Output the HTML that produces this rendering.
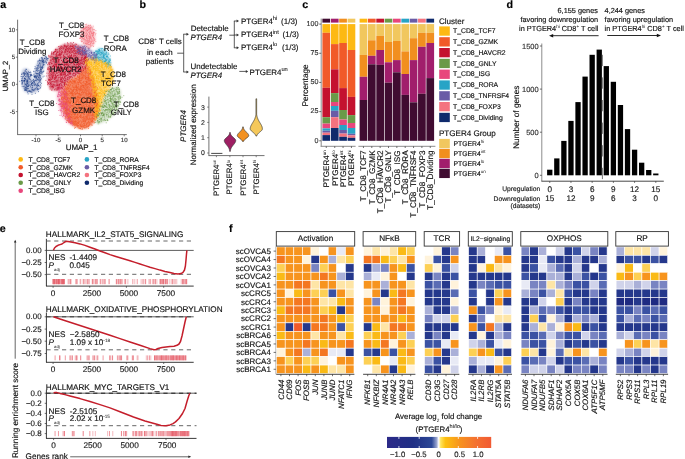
<!DOCTYPE html>
<html><head><meta charset="utf-8"><title>Figure</title>
<style>
html,body{margin:0;padding:0;background:#fff;}
body{width:685px;height:459px;overflow:hidden;}
svg{display:block;font-family:"Liberation Sans", sans-serif;will-change:transform;text-rendering:geometricPrecision;}
</style></head><body>
<svg width="685" height="459" viewBox="0 0 685 459">
<rect width="685" height="459" fill="#fff"/>
<text x="0.20" y="7.90" font-size="10.71" font-weight="bold" fill="#000" stroke="#000" stroke-width="0.15">a</text>
<defs><filter id="bl" x="-20%" y="-20%" width="140%" height="140%"><feGaussianBlur stdDeviation="1.0"/></filter></defs>
<g filter="url(#bl)">
<polygon points="62,90 66,84 71,79.5 77,76 82,72 86,65 90,68 93,78 96,88 98,98 99,108 97,117 93,124 87,128.5 80,129 73,126 67,120 63,111 61,100" fill="#F15A29" fill-opacity="0.72"/>
<polygon points="57.5,86 62.5,85 66.5,92 68.5,102 69.5,112 72,121 74,126 68.5,124 62.5,117 58.5,107 56.5,96" fill="#E8467C" fill-opacity="0.3"/>
<polygon points="48.5,63 51,54 57,48 64,44 72,43 79,45 84,49 87,55 88,61 86,67 82,72 76,76 70,80 65,85 61,90 55,91 49.5,89 47.5,80 47.5,71" fill="#C4122F" fill-opacity="0.5"/>
<polygon points="84,62 88,58 95,57 103,60 109,63 113,69 114,77 112,85 108,90 104,97 101,106 98,116 95,121 95,108 94,95 92,82 89,70" fill="#FDB913" fill-opacity="0.6"/>
<polygon points="108,90 113,87 118,87 121,91 121,99 118,108 113,116 106,121 99,124 95,123 97,116 101,107 104,98" fill="#6A9A48" fill-opacity="0.3"/>
<polygon points="94,52 99,48 104,49 108,53 110,59 111,67 106,65 100,61 95,58" fill="#27A4C6" fill-opacity="0.45"/>
<polygon points="75,47 81,45 87,47 93,51 97,55 96,61 90,59 84,56 78,53" fill="#6A5CA6" fill-opacity="0.4"/>
<polygon points="82,28 87,24.5 92,26 95,32 95.5,40 93.5,46 88,48.5 83.5,45 80.5,38 80.5,31" fill="#F4737F" fill-opacity="0.45"/>
<polygon points="22,71 24,68.5 28,69 30.5,72 31.5,78 33,81 34.5,74 36,66 38,61 41,58 44.5,56.5 47.5,57 48,60 46,64 43.5,69 42,75 41,81 40,87 38,91 34,93 28,93 24,91 22,86 21.5,79" fill="#1B3C85" fill-opacity="0.3"/>
</g>
<path d="M84.8 69.4h0M64.2 97.7h0M77.6 118.4h0M84.0 125.2h0M93.9 83.9h0M73.3 118.4h0M84.9 88.7h0M86.3 93.6h0M78.6 82.7h0M68.3 101.4h0M89.2 83.4h0M77.6 114.4h0M62.6 106.5h0M93.8 83.8h0M84.3 92.2h0M80.5 108.1h0M85.9 127.8h0M76.8 108.0h0M76.8 121.3h0M82.7 119.7h0M70.3 93.2h0M69.2 95.6h0M76.5 100.8h0M80.4 104.2h0M96.4 113.6h0M77.0 91.4h0M66.9 88.6h0M84.3 75.4h0M79.1 96.2h0M74.3 81.4h0M80.8 74.3h0M82.1 126.5h0M71.8 90.0h0M80.9 115.5h0M94.1 115.1h0M69.5 98.3h0M71.9 109.0h0M85.3 121.7h0M87.1 116.9h0M95.6 113.9h0M66.9 117.1h0M76.2 125.0h0M96.5 118.1h0M97.5 108.1h0M95.6 106.2h0M77.8 120.2h0M70.6 85.1h0M72.3 93.4h0M72.6 93.2h0M75.8 123.7h0M79.5 76.8h0M67.4 94.0h0M71.7 97.6h0M65.0 101.7h0M88.8 96.9h0M94.8 92.6h0M79.3 109.7h0M78.5 123.3h0M82.6 124.9h0M66.3 93.6h0M64.2 105.8h0M66.6 110.4h0M78.0 96.1h0M66.2 92.5h0M68.4 85.2h0M82.9 93.3h0M87.4 98.9h0M77.4 122.6h0M83.0 110.0h0M89.3 93.3h0M86.8 117.3h0M76.1 86.0h0M81.5 80.6h0M72.9 83.7h0M79.9 76.5h0M89.3 101.3h0M90.2 92.7h0M74.9 94.8h0M73.6 116.9h0M76.9 87.4h0M63.7 113.0h0M93.9 108.6h0M72.7 95.3h0M98.1 102.6h0M73.7 87.8h0M79.4 98.3h0M64.6 90.6h0M71.5 79.3h0M89.1 105.1h0M76.4 85.8h0M90.3 106.7h0M94.7 103.3h0M64.4 98.5h0M89.8 116.8h0M87.0 109.6h0M67.6 89.2h0M81.2 104.1h0M90.1 112.9h0M86.0 68.5h0M88.5 75.4h0M78.3 89.7h0M89.9 104.2h0M89.1 84.4h0M86.2 108.6h0M80.1 94.8h0M62.8 92.0h0M78.7 84.5h0M69.8 103.2h0M93.3 96.5h0M69.6 122.5h0M78.7 85.0h0M74.7 118.8h0M96.9 110.2h0M76.5 90.1h0M74.7 92.7h0M69.8 82.0h0M76.6 125.0h0M86.1 123.0h0M88.2 67.1h0M89.5 106.6h0M78.5 88.6h0M85.0 83.9h0M82.7 77.2h0M68.2 80.6h0M88.4 92.0h0M76.1 87.0h0M80.6 104.8h0M70.4 81.5h0M95.0 95.3h0M76.8 122.6h0M82.3 108.1h0M84.4 114.3h0M86.1 85.0h0M85.5 110.0h0M80.4 102.8h0M73.8 94.1h0M94.7 96.2h0M97.4 110.3h0M79.3 108.5h0M86.4 124.5h0M73.6 91.3h0M90.6 112.3h0M92.5 81.4h0M80.0 78.0h0M86.9 126.5h0M64.9 88.9h0M85.6 89.9h0M72.1 87.4h0M75.0 116.6h0M61.3 96.9h0M68.5 88.2h0M76.6 116.7h0M89.0 123.2h0M97.3 106.1h0M74.7 82.7h0M96.0 105.5h0M72.3 94.7h0M74.6 81.6h0M92.3 110.7h0M83.7 86.8h0M68.5 113.6h0M61.0 102.9h0M64.4 95.8h0M68.8 90.7h0M89.2 118.8h0M92.1 83.4h0M89.1 78.5h0M80.5 87.8h0M80.8 78.4h0M80.2 115.6h0M98.8 101.9h0M93.8 95.5h0M83.8 105.6h0M70.3 102.8h0M86.5 77.5h0M91.6 100.3h0M75.7 99.9h0M66.5 109.9h0M72.2 102.1h0M74.7 77.0h0M75.4 118.7h0M79.8 75.5h0M86.5 124.0h0M75.6 97.9h0M81.7 125.0h0M97.3 89.0h0M89.3 80.3h0M92.7 77.7h0M81.2 90.1h0M89.8 122.8h0M83.2 99.6h0M75.7 102.9h0M79.4 93.3h0M79.7 78.3h0M77.9 76.6h0M66.8 93.1h0M85.0 68.5h0M80.7 89.0h0M89.8 119.8h0M80.2 125.9h0M91.8 124.9h0M90.4 74.7h0M80.3 124.6h0M80.8 85.6h0M87.7 123.8h0M64.8 98.3h0M92.4 99.5h0M85.2 89.5h0M74.1 114.2h0M89.6 67.4h0M84.0 127.2h0M82.3 92.5h0M86.8 66.4h0M65.3 89.2h0M82.6 77.3h0M65.8 104.6h0M77.7 82.0h0M81.7 86.6h0M96.6 114.1h0M62.1 99.4h0M62.0 100.1h0M67.2 103.9h0M91.6 77.0h0M92.7 110.9h0M89.3 93.7h0M73.1 111.2h0M87.0 81.7h0M90.8 99.9h0M70.8 77.7h0M90.0 85.3h0M69.0 122.0h0M84.4 128.0h0M86.0 120.5h0M83.0 86.1h0M86.8 104.0h0M62.3 104.2h0M94.0 122.9h0M92.0 115.6h0M85.4 83.7h0M89.3 79.1h0M71.1 111.5h0M98.5 96.1h0M60.6 92.1h0M73.5 109.9h0M92.8 75.9h0M80.1 117.1h0M74.0 120.6h0M88.7 97.8h0M86.8 114.7h0M76.6 90.0h0M69.8 81.2h0M75.5 122.7h0M81.2 111.8h0M75.3 87.5h0M86.7 113.4h0M91.2 102.9h0M67.7 82.5h0M69.8 85.8h0M100.1 113.2h0M66.6 89.4h0M89.3 94.2h0M75.8 114.5h0M85.9 95.7h0M77.3 111.8h0M82.2 113.3h0M88.7 119.8h0M92.7 107.6h0M73.7 105.8h0M90.2 110.1h0M76.4 93.4h0M87.3 125.9h0M87.9 90.1h0M63.4 101.3h0M97.8 99.0h0M80.1 110.8h0M90.4 99.7h0M67.7 109.9h0M72.5 90.7h0M76.5 110.3h0M70.7 112.0h0M68.8 116.7h0M66.4 113.4h0M79.2 103.5h0M75.2 104.2h0M78.3 83.7h0M93.1 87.1h0M74.7 81.5h0M71.3 81.8h0M76.8 105.0h0M96.6 116.6h0M86.4 81.3h0M69.6 115.2h0M96.4 117.5h0M83.1 113.2h0M91.4 120.1h0M79.3 113.3h0M82.1 82.5h0M77.7 96.4h0M77.8 99.4h0M75.6 91.7h0M86.6 106.0h0M85.6 127.1h0M80.6 95.9h0M87.2 106.7h0M73.2 95.1h0M67.9 93.4h0M92.9 82.8h0M77.4 82.3h0M85.4 116.4h0M71.2 101.2h0M95.5 100.2h0M95.1 102.5h0M94.5 103.2h0M87.2 102.5h0M86.4 93.8h0M89.9 122.7h0M91.5 115.0h0M72.0 93.0h0M86.6 125.2h0M92.7 101.3h0M84.6 124.9h0M85.6 78.7h0M88.3 79.9h0M88.1 119.3h0M82.6 111.0h0M73.8 113.4h0M73.6 102.4h0M65.6 117.1h0M83.6 92.9h0M96.1 114.9h0M87.1 119.1h0M82.0 85.7h0M73.6 107.6h0M92.5 83.1h0M77.9 100.6h0M91.1 120.2h0M92.5 114.6h0M82.6 117.6h0M83.4 108.5h0M71.0 112.0h0M88.5 78.9h0M93.3 98.6h0M67.0 110.8h0M76.5 98.3h0M65.2 104.9h0M83.5 87.1h0M93.2 95.8h0M92.2 91.7h0M79.8 121.4h0M85.6 92.2h0M69.2 99.2h0M85.9 90.3h0M72.5 86.3h0M89.1 108.1h0M89.3 124.4h0M84.2 114.0h0M79.3 76.3h0M86.6 65.2h0M94.6 122.7h0M92.1 105.5h0M91.9 95.2h0M89.4 102.0h0M71.6 92.0h0M93.5 87.4h0M75.2 124.6h0M85.6 78.6h0M88.8 83.8h0M91.7 86.9h0M93.0 99.7h0M83.4 75.4h0M88.4 77.8h0M84.0 97.4h0M84.8 109.1h0M88.8 90.8h0M92.9 84.8h0M96.1 94.9h0M67.7 118.7h0M76.3 103.1h0M79.1 99.1h0M91.3 121.8h0M77.4 113.8h0M96.0 96.6h0M71.0 117.4h0M88.9 77.6h0M82.8 98.0h0M94.5 111.0h0M79.7 97.5h0M84.3 121.2h0M90.5 73.4h0M76.4 90.9h0M76.2 124.3h0M67.5 87.6h0M92.3 121.6h0M65.3 97.5h0M69.8 91.3h0M78.0 97.4h0M97.4 103.6h0M85.0 81.3h0M81.1 123.6h0M81.6 92.5h0M73.6 107.4h0M97.2 99.0h0M81.7 74.9h0M72.0 91.7h0M65.1 98.8h0M83.1 108.1h0M77.7 99.3h0M73.0 81.7h0M76.5 102.6h0M81.5 99.3h0M72.4 114.7h0M95.0 93.5h0M78.3 112.5h0M98.0 113.0h0M72.9 106.9h0M92.1 96.5h0M90.2 93.9h0M87.5 102.5h0M83.2 89.8h0M83.0 89.6h0M87.5 84.6h0M76.1 83.7h0M80.3 94.2h0M66.1 101.6h0M93.7 118.5h0M77.5 123.3h0M84.0 96.0h0M80.3 128.8h0M86.2 91.0h0M73.8 124.6h0M63.7 89.7h0M83.9 121.1h0M78.6 105.0h0M81.6 118.0h0M96.3 106.4h0M95.2 92.6h0M80.7 97.9h0M83.0 106.1h0M83.7 68.6h0M73.5 109.2h0M92.7 101.9h0M79.8 101.8h0M80.3 128.4h0M90.4 72.2h0M79.5 116.5h0M90.1 84.7h0M82.2 87.6h0M81.8 126.9h0M73.3 121.7h0M81.5 126.5h0M70.1 89.3h0M71.0 121.2h0M81.4 72.1h0M74.6 81.4h0M87.1 88.1h0M78.0 118.0h0M72.6 113.0h0M79.7 79.7h0M88.9 80.9h0M74.4 80.3h0M80.3 101.4h0M74.8 106.7h0M67.1 120.8h0M64.4 101.9h0M73.9 80.6h0M73.2 89.9h0M95.1 120.7h0M85.0 88.3h0M88.1 80.1h0M86.5 78.1h0M89.2 110.7h0M73.4 89.6h0M85.9 75.4h0M86.8 81.9h0M92.6 115.0h0M94.2 104.1h0M65.8 117.8h0M89.1 69.6h0M89.3 118.5h0M96.2 107.4h0M86.3 94.5h0M77.7 97.5h0M87.6 117.8h0M97.1 105.6h0M76.4 78.4h0M87.9 108.6h0M81.4 93.1h0M73.2 122.6h0M72.1 116.7h0M66.5 107.0h0M90.7 118.7h0M75.5 78.5h0M68.0 110.1h0M72.9 95.5h0M65.5 110.7h0M64.5 96.5h0M94.3 104.6h0M85.8 81.6h0M93.5 85.3h0M68.2 113.8h0M91.5 86.4h0M75.1 118.5h0M83.2 103.8h0M80.2 97.7h0M82.9 69.6h0M78.1 127.2h0M77.7 77.1h0M93.2 118.7h0M70.7 107.2h0M72.9 91.5h0M71.4 93.0h0M75.5 94.1h0M97.7 104.3h0M86.3 105.2h0M96.7 95.1h0M74.7 121.8h0M88.1 94.4h0M74.1 102.8h0M82.9 90.8h0M96.3 101.4h0M79.9 81.2h0M70.5 102.4h0M83.0 70.3h0M76.2 119.8h0M91.4 72.2h0M97.6 100.5h0M71.3 89.0h0M68.8 83.2h0M95.7 103.8h0M66.5 114.1h0M87.6 118.5h0M89.0 125.4h0M82.2 70.8h0M87.0 82.3h0M93.0 102.3h0M67.7 101.9h0M93.6 97.8h0M80.2 120.6h0M67.5 116.5h0M79.6 74.3h0M95.0 104.5h0M69.0 122.1h0M66.2 88.4h0M77.1 87.7h0M79.0 128.3h0M86.3 83.6h0M68.5 101.0h0M83.5 113.1h0M84.5 106.2h0M92.6 120.3h0M72.5 112.7h0M84.2 87.1h0M79.3 89.2h0M77.4 93.2h0M72.3 83.5h0M96.6 102.6h0M82.0 129.5h0M78.3 121.0h0M87.2 79.4h0M83.5 119.8h0M88.6 126.4h0M91.5 121.5h0M69.2 98.4h0M72.8 112.1h0M87.8 87.0h0M62.1 106.1h0M83.6 81.5h0M96.5 101.1h0M84.1 111.7h0M90.6 69.8h0M80.1 102.2h0M83.8 85.4h0M88.2 113.0h0M75.9 82.5h0M79.2 106.0h0M90.3 70.8h0M62.7 96.9h0M89.2 124.2h0M91.7 80.4h0M85.5 86.0h0M74.6 123.8h0M61.9 107.5h0M61.4 102.3h0M97.0 105.9h0M71.0 93.4h0M88.9 109.2h0M70.3 103.1h0M94.1 80.2h0M69.6 86.4h0M66.2 108.1h0M83.5 123.5h0M75.1 114.4h0M67.2 112.5h0M85.8 72.7h0M88.5 121.4h0M69.8 115.4h0M79.8 80.0h0M73.9 122.0h0M66.8 93.8h0M66.1 112.2h0M75.2 96.3h0M94.5 112.4h0M61.6 98.3h0M85.9 106.5h0M88.3 126.7h0M73.8 86.7h0M75.2 90.0h0M84.1 125.7h0M75.5 80.9h0M93.3 115.0h0M86.6 84.8h0M90.7 95.9h0M69.9 104.3h0M86.7 90.0h0M85.9 84.7h0M69.3 106.4h0M77.9 111.0h0M95.0 98.7h0M92.8 81.9h0M79.5 104.1h0M75.7 117.8h0M65.3 86.7h0M85.6 94.0h0M89.4 73.7h0M80.2 80.9h0M69.2 101.7h0M88.0 83.2h0M85.5 121.0h0M90.9 104.8h0M77.6 87.7h0M76.8 105.6h0M76.2 101.7h0M96.9 111.6h0M88.6 89.1h0M96.6 113.7h0M79.1 93.7h0M77.9 122.4h0M79.7 116.3h0M87.0 98.7h0M91.0 101.6h0M89.5 96.4h0M78.7 102.4h0M76.7 98.3h0M71.1 82.5h0M92.6 100.5h0M94.4 115.7h0M80.3 89.2h0M83.4 87.8h0M96.8 100.9h0M80.4 90.8h0M71.0 117.5h0M89.3 103.6h0M78.9 121.6h0M85.5 67.8h0M84.8 75.9h0M90.7 95.6h0M76.7 109.3h0M88.5 75.4h0M71.4 79.5h0M83.1 74.4h0M75.6 107.2h0M64.4 93.7h0M87.0 71.9h0M96.5 99.6h0M89.9 96.6h0M78.4 119.6h0M71.7 121.6h0M82.4 128.9h0M85.4 69.2h0M71.2 114.1h0M81.0 114.8h0M63.5 98.7h0M65.4 102.8h0M87.4 77.6h0M74.4 118.1h0M80.7 100.1h0M66.3 99.2h0M68.7 91.3h0M68.0 120.8h0M78.2 115.0h0M70.2 113.6h0M61.3 90.1h0M81.5 79.0h0M88.0 70.3h0M84.9 108.4h0M91.9 94.5h0M70.1 111.4h0M79.6 94.7h0M90.0 107.1h0M94.5 116.2h0M97.7 107.5h0M96.3 111.1h0M84.2 91.3h0M95.3 83.8h0M70.7 119.3h0M76.2 80.2h0M85.7 111.6h0M92.9 108.0h0M85.1 119.7h0M93.9 115.8h0M91.0 91.1h0M72.6 80.2h0M85.2 84.1h0M86.7 91.8h0M67.4 109.2h0M68.9 82.1h0M67.9 120.6h0M77.1 96.7h0M78.3 117.7h0M65.6 99.5h0M76.5 123.5h0M61.5 105.8h0M74.1 106.6h0M81.8 107.7h0M85.4 101.2h0M94.9 111.4h0M66.2 102.5h0M75.4 112.2h0M89.0 83.3h0M98.7 105.1h0M75.1 125.2h0M83.1 117.0h0M66.7 97.6h0M88.9 76.2h0M74.8 89.0h0M68.7 84.6h0M73.8 93.5h0M76.7 89.5h0M77.0 117.3h0M88.4 94.6h0M88.1 84.3h0M80.6 82.9h0M91.0 103.1h0M72.2 81.1h0M88.1 109.3h0M84.5 125.8h0M92.0 89.6h0M74.3 89.3h0M66.9 120.5h0M87.0 123.4h0M61.6 91.4h0M85.3 102.7h0M71.9 117.2h0M66.8 106.8h0M88.0 115.9h0M65.6 108.7h0M83.8 118.4h0M87.0 126.5h0M88.0 68.9h0M61.5 92.9h0M84.3 87.9h0M69.8 117.6h0M93.4 99.7h0M61.8 97.5h0M84.1 110.9h0M80.8 104.7h0M78.0 107.6h0M76.9 84.6h0M81.1 94.5h0M67.0 81.4h0M89.1 111.3h0M88.4 106.3h0M68.1 105.4h0M74.9 121.5h0M63.8 115.3h0M93.8 116.1h0M82.6 98.2h0M89.1 125.4h0M89.6 87.8h0M69.0 102.6h0M92.3 115.4h0M95.6 99.6h0M83.3 121.8h0M96.5 90.3h0M77.3 101.3h0M87.5 68.6h0M86.7 112.1h0M88.7 96.9h0M84.0 72.0h0M70.1 88.3h0M85.5 112.6h0M70.6 107.4h0M91.3 71.4h0M68.7 117.7h0M66.7 113.9h0M80.7 117.5h0M83.9 116.3h0M81.6 83.7h0M92.0 117.1h0M85.3 78.5h0M97.8 100.3h0M89.0 119.0h0M75.0 83.8h0M84.1 127.5h0M86.2 103.2h0M75.2 102.3h0M90.5 115.0h0M87.4 65.2h0M78.4 123.4h0M77.8 111.1h0M75.1 86.4h0M99.8 106.2h0M89.6 83.6h0M73.8 112.2h0M92.7 100.2h0M72.1 106.0h0M78.9 106.0h0M75.5 121.1h0M72.7 123.1h0M67.1 91.6h0M89.4 114.0h0M70.4 81.3h0M82.2 106.1h0M66.8 96.3h0M71.6 114.7h0M72.1 90.2h0M89.5 70.7h0M93.6 78.1h0M87.1 82.8h0M85.7 102.0h0M85.8 101.8h0M76.0 112.6h0M70.1 88.4h0M70.2 116.9h0M90.3 80.0h0M74.9 87.5h0M86.2 118.8h0M78.9 110.8h0M79.4 77.2h0M75.9 94.5h0M91.0 99.2h0M96.9 99.2h0M96.1 94.1h0M78.6 86.8h0M86.9 98.1h0M89.3 100.5h0M85.1 108.1h0M97.5 111.6h0M70.0 103.0h0M66.2 111.7h0M78.7 108.7h0M67.4 95.4h0M79.2 128.0h0M93.8 77.9h0M72.4 92.3h0M68.5 118.0h0M69.3 93.5h0M81.1 102.0h0M81.5 95.1h0M86.9 119.8h0M74.0 83.1h0M78.0 97.4h0M86.4 98.3h0M86.7 100.5h0M82.4 75.9h0M68.5 88.2h0M63.0 111.6h0M87.7 116.2h0M86.4 109.9h0M70.5 92.4h0M77.1 126.1h0M88.1 86.6h0M69.7 82.1h0M77.6 92.6h0M95.8 103.2h0M77.4 76.2h0M84.9 77.2h0M89.2 117.4h0M88.4 128.5h0M73.0 80.1h0M92.7 120.7h0M61.4 98.4h0M68.3 109.6h0M71.3 110.5h0M73.3 99.4h0M79.6 81.7h0M84.6 111.3h0M88.0 86.9h0M96.8 101.0h0M87.2 88.9h0M92.4 117.1h0M68.9 108.6h0M86.6 101.7h0M82.6 71.4h0M69.3 91.8h0M68.4 82.4h0M84.6 123.5h0M86.6 82.3h0M89.8 115.5h0M90.5 86.3h0M63.4 104.2h0M82.4 73.8h0M79.4 78.5h0M80.6 87.0h0M91.4 72.2h0M79.0 80.5h0M72.7 93.9h0M77.2 92.6h0M83.1 72.1h0M65.3 94.2h0M91.1 93.5h0M90.5 73.9h0M67.5 98.5h0M66.8 114.4h0M72.5 111.0h0M78.3 125.7h0M78.6 110.3h0M73.8 82.0h0M94.2 87.0h0M77.8 116.6h0M84.9 122.3h0M93.1 118.4h0M74.9 87.9h0M77.9 104.6h0M89.0 112.6h0M86.2 88.9h0M81.9 85.7h0M93.5 118.9h0M96.0 111.3h0M80.9 95.6h0M90.9 121.6h0M91.6 79.7h0M88.2 77.9h0M73.7 104.8h0M94.4 113.8h0M81.2 70.8h0M78.9 97.0h0M85.7 79.0h0M99.0 111.1h0M60.9 103.5h0M81.1 116.6h0M69.7 112.0h0M76.9 87.1h0M67.9 85.7h0M66.6 100.0h0M92.3 76.1h0M88.4 122.3h0M82.1 121.1h0M79.9 124.5h0M83.8 117.0h0M69.8 83.2h0M88.3 113.7h0M78.9 74.9h0M68.4 100.8h0M87.8 112.4h0M97.2 93.5h0M92.0 109.2h0M73.8 114.7h0M66.5 90.7h0M73.5 98.3h0M75.3 127.5h0M78.4 77.4h0M86.9 127.4h0M76.8 86.6h0M92.4 112.7h0M95.2 91.1h0M81.8 105.0h0M67.6 87.0h0M82.1 110.4h0M82.1 91.2h0M96.0 116.4h0M77.8 98.3h0M75.6 98.4h0M78.1 87.2h0M90.2 82.4h0M74.0 123.2h0M74.4 118.9h0M90.9 109.8h0M83.9 125.2h0M77.5 75.4h0M91.9 111.7h0M88.4 105.7h0M66.6 101.7h0M77.5 90.7h0M88.1 76.7h0M75.5 112.6h0M85.2 67.8h0M83.9 93.0h0M75.7 89.6h0M96.2 101.4h0M77.4 109.3h0M92.7 98.0h0M75.3 107.1h0M78.7 125.8h0M83.8 85.8h0M95.8 113.9h0M97.9 110.6h0M72.0 105.8h0M79.9 82.4h0M97.4 114.8h0M81.9 122.5h0M90.4 72.1h0M94.0 92.5h0M89.7 107.2h0M88.0 78.1h0M78.4 122.6h0M77.8 100.0h0M76.3 121.7h0M89.3 74.0h0M88.5 72.7h0M71.6 117.4h0M78.3 93.4h0M74.3 125.2h0M67.8 97.5h0M96.5 94.6h0M97.1 103.9h0M85.6 98.3h0M91.6 107.9h0M80.8 117.1h0M66.1 108.4h0M78.8 97.5h0M81.5 113.4h0M97.4 87.8h0M67.3 102.1h0M82.5 85.2h0M86.4 100.5h0M73.9 124.8h0M92.9 108.9h0M81.5 78.1h0M91.9 105.7h0M98.7 108.3h0M63.7 92.1h0M75.2 121.8h0M69.7 119.6h0M70.3 121.3h0M88.9 66.8h0M65.1 113.3h0M77.9 106.4h0M85.6 74.1h0M74.6 123.2h0M84.0 117.3h0M81.8 101.5h0M77.1 79.4h0M93.3 81.1h0M75.8 85.8h0M85.3 118.8h0M96.3 104.0h0M63.6 106.9h0M80.5 125.5h0M73.9 84.9h0M94.0 107.6h0M63.0 97.8h0M88.6 110.8h0M86.2 92.4h0M69.6 90.9h0M73.4 81.4h0M75.7 109.3h0M65.9 99.6h0M64.1 97.2h0M86.8 95.9h0M95.9 117.2h0M84.6 108.3h0M82.3 112.5h0M74.5 113.3h0M65.4 110.4h0M87.1 73.4h0M75.3 121.0h0M96.4 114.3h0M99.1 105.8h0M67.6 98.3h0M74.6 97.3h0M70.5 97.2h0M85.5 76.7h0M90.5 108.9h0M80.2 90.0h0M86.3 117.6h0M68.6 94.6h0M74.6 112.6h0M69.0 114.0h0M85.1 109.7h0M96.3 96.3h0M91.3 80.1h0M90.3 112.2h0M70.8 94.1h0M92.3 120.9h0M72.2 123.3h0M92.8 122.3h0M91.9 90.4h0M77.1 90.0h0M74.4 115.0h0M86.2 77.3h0M84.8 85.7h0M83.1 102.0h0M72.4 105.5h0M71.4 93.3h0M70.2 121.2h0M91.1 118.6h0M80.1 128.5h0M70.0 103.1h0M82.0 89.3h0M67.9 114.3h0M64.5 94.6h0M74.2 92.6h0M88.3 98.0h0M79.0 98.0h0M68.4 121.9h0M84.3 101.5h0M64.5 106.8h0M72.9 120.0h0M85.2 107.9h0M68.0 116.1h0M75.9 112.1h0M97.0 107.6h0M79.6 78.9h0M87.0 81.1h0M83.4 75.9h0M80.5 73.7h0M65.6 83.6h0M83.8 114.6h0M76.3 117.4h0M76.7 93.4h0M85.6 71.6h0M89.0 81.6h0M94.6 98.5h0M77.3 117.0h0M96.0 86.8h0M85.2 73.4h0M73.3 122.8h0M92.9 82.2h0M90.7 80.8h0M82.3 103.8h0M87.8 93.6h0M72.1 112.0h0M87.5 91.0h0M82.0 97.4h0M88.9 121.6h0M73.6 111.0h0M81.9 74.3h0M80.8 116.9h0M75.1 117.4h0M84.2 96.8h0M71.1 93.0h0M69.4 117.7h0M84.9 72.2h0M93.0 113.7h0M78.2 107.9h0M64.3 91.3h0M69.0 120.8h0M68.4 103.0h0M79.5 93.1h0M89.5 101.3h0M90.6 83.9h0M82.0 107.3h0M63.3 105.6h0M83.5 113.1h0M79.3 82.1h0M75.0 115.0h0M88.2 114.9h0M76.0 125.1h0M78.9 93.9h0M93.0 96.4h0M94.2 90.0h0M78.6 103.1h0M75.2 121.3h0M85.4 104.5h0M65.6 82.6h0M68.0 104.9h0M61.2 94.5h0M86.7 82.5h0M83.0 117.8h0M75.6 97.3h0M81.8 84.0h0M78.4 79.4h0M84.2 119.3h0M63.1 93.3h0M77.6 114.4h0M82.7 91.4h0M69.8 101.0h0M77.5 124.9h0M88.4 68.8h0M73.4 110.9h0M66.4 95.4h0M81.1 72.8h0M70.7 80.2h0M90.2 70.9h0M84.0 120.5h0M87.2 101.8h0M79.1 77.3h0M83.0 85.6h0M80.7 80.4h0M79.4 111.8h0M70.3 116.7h0M93.5 101.7h0M82.9 77.8h0M65.5 108.0h0M86.3 109.2h0M76.6 87.4h0M84.6 90.2h0M92.8 78.8h0M90.6 96.3h0M92.2 117.7h0M82.3 79.0h0M67.2 112.8h0M73.2 120.1h0M79.5 89.5h0M63.8 109.8h0M71.3 83.2h0M90.0 108.9h0M66.8 100.6h0M66.7 109.6h0M86.5 102.5h0M83.4 85.4h0M64.3 84.1h0M87.1 106.7h0M78.0 93.7h0M65.4 104.0h0M87.4 122.5h0M82.9 85.3h0M77.5 115.3h0M65.0 94.1h0M75.0 127.1h0M90.7 103.4h0M79.0 89.3h0M73.9 103.8h0M76.2 116.1h0M92.7 102.4h0M75.3 81.5h0M80.6 89.1h0M65.3 110.5h0M67.4 101.2h0M90.9 66.9h0M72.5 122.0h0M69.8 102.5h0M89.3 105.5h0M97.4 100.6h0M78.1 97.7h0M83.9 94.7h0M88.7 125.7h0M85.7 117.2h0M68.3 109.9h0M75.0 102.1h0M79.6 91.2h0M68.0 98.4h0M80.7 126.6h0M76.4 99.9h0M65.7 83.2h0M65.1 116.3h0M92.7 119.8h0M93.8 79.7h0M88.9 113.1h0M92.1 125.3h0M86.3 119.0h0M71.9 101.2h0M88.7 109.3h0M90.8 85.1h0M90.6 94.3h0M65.5 86.9h0M65.1 108.1h0M85.3 121.5h0M69.8 113.8h0M81.9 110.5h0M72.1 82.4h0M74.3 82.0h0M81.4 88.2h0M78.6 100.7h0M80.7 115.1h0M76.3 118.1h0M65.6 103.5h0M85.3 84.6h0M79.8 93.8h0M96.7 95.5h0M96.7 105.2h0M91.9 118.8h0M68.1 113.4h0M68.4 115.8h0M73.4 90.6h0M96.6 105.9h0M62.7 97.7h0M75.5 93.8h0M82.8 100.1h0M70.4 97.5h0M83.0 78.4h0M74.7 114.6h0M89.5 93.0h0M84.7 110.6h0M93.3 84.8h0M87.0 79.7h0M84.1 83.1h0M91.8 93.1h0M91.1 102.3h0M83.8 77.0h0M82.0 106.4h0M70.8 119.0h0M93.8 114.3h0M69.3 111.6h0M72.7 112.9h0M81.8 89.0h0M67.3 114.7h0M90.3 79.0h0M71.0 106.2h0M77.5 111.3h0M81.2 102.6h0M73.6 87.5h0M89.5 103.4h0M65.7 113.4h0M70.3 100.0h0M88.8 109.2h0M79.2 122.8h0M82.6 94.7h0M89.2 113.2h0M90.2 101.1h0M86.0 70.4h0M70.5 98.5h0M80.4 108.9h0M68.9 110.7h0M81.2 75.7h0M85.2 120.6h0M90.9 94.7h0M74.7 128.4h0M83.2 126.5h0M90.1 112.7h0M90.2 112.7h0M78.8 113.7h0M73.8 116.7h0M73.6 100.1h0M89.1 91.8h0M87.6 111.5h0M94.6 92.0h0M94.7 107.3h0M77.7 125.6h0M94.5 112.2h0M80.5 97.4h0M92.2 72.7h0M69.7 80.7h0M81.5 121.9h0M97.1 94.9h0M88.2 115.1h0M67.4 99.5h0M68.2 85.4h0M87.5 111.3h0M81.9 100.3h0M84.2 102.7h0M81.8 73.7h0M76.8 101.7h0M77.6 88.7h0M75.2 93.2h0M71.7 95.1h0M95.0 119.3h0M86.6 116.2h0M71.2 114.6h0M66.9 102.9h0M88.1 93.8h0M83.5 70.8h0M88.9 73.7h0M81.1 86.5h0M66.7 113.2h0M82.8 72.8h0M85.8 87.0h0M81.8 77.3h0M95.2 99.3h0M71.9 115.7h0M78.0 123.7h0M73.7 89.3h0M79.4 88.2h0M77.2 126.7h0M80.4 109.2h0M73.5 110.0h0M73.7 108.6h0M88.7 93.0h0M68.2 117.4h0M70.3 84.5h0M90.4 113.5h0M86.4 72.4h0M71.4 97.6h0M79.0 80.3h0M86.5 87.3h0M85.3 109.4h0M62.3 104.7h0M77.6 125.2h0M84.3 107.0h0M79.0 95.0h0M96.8 95.5h0M66.5 103.0h0M72.0 119.0h0M86.6 116.1h0M86.4 85.9h0M74.7 100.0h0M75.0 123.0h0M90.4 98.0h0M72.8 91.0h0M88.4 113.9h0M89.3 110.0h0M65.1 118.7h0M72.3 85.4h0M94.2 86.7h0M92.8 113.3h0M71.7 120.8h0M90.6 98.4h0M78.5 101.9h0M87.1 104.6h0M88.9 74.4h0M68.3 97.8h0M75.7 98.2h0M90.2 110.1h0M78.1 117.6h0M85.3 93.1h0M83.2 126.6h0M88.5 95.9h0M74.3 109.8h0M99.3 106.7h0M63.6 102.2h0M94.5 118.3h0M71.2 105.8h0M97.5 111.2h0M66.4 87.9h0M80.5 83.1h0M83.6 82.7h0M87.3 95.3h0M62.0 94.4h0M94.8 119.8h0M79.3 77.9h0M75.7 104.5h0M73.4 123.9h0M84.6 118.3h0M81.3 126.5h0M80.2 87.0h0M71.8 117.7h0M75.1 103.8h0M86.1 70.9h0M87.7 87.6h0M80.7 115.4h0M78.4 82.3h0M89.3 107.0h0M82.9 121.2h0M61.4 99.1h0M96.4 94.1h0M83.9 92.5h0M88.0 75.3h0M93.8 121.5h0M89.5 103.5h0M75.0 78.7h0M87.6 73.0h0M73.5 96.3h0M87.8 85.1h0M62.7 105.8h0M64.5 111.9h0M65.9 103.0h0M78.1 108.2h0M66.0 94.0h0M72.4 78.1h0M71.4 109.2h0M95.5 91.3h0M69.1 87.1h0M72.6 94.1h0M96.7 107.9h0M63.6 92.8h0M85.7 77.1h0M84.4 101.4h0M72.9 121.5h0M72.5 103.6h0M89.6 89.8h0M89.1 110.0h0M92.0 107.4h0M71.0 123.9h0M76.5 88.5h0M96.4 117.2h0M65.9 109.8h0M91.5 72.8h0M92.3 118.0h0M87.7 114.9h0M90.8 124.2h0M89.1 80.3h0M87.8 97.4h0M76.1 110.6h0M72.6 118.0h0M76.9 101.5h0M89.2 105.9h0M92.6 105.9h0M77.2 83.8h0M85.4 125.4h0M70.3 99.8h0M81.4 104.9h0M69.6 107.3h0M70.9 89.5h0M70.4 81.5h0M76.6 86.0h0M89.8 96.6h0M95.7 96.0h0M80.7 101.5h0M83.5 107.1h0M68.1 89.0h0M90.4 119.9h0M70.5 101.1h0M91.8 77.4h0M83.4 105.5h0M89.0 78.3h0M65.0 86.5h0M83.9 99.0h0M84.0 104.3h0M69.2 102.5h0M78.7 97.1h0M89.9 98.1h0M88.9 78.4h0M70.1 116.6h0M79.2 90.8h0M90.8 80.9h0M96.6 93.8h0M78.7 99.5h0M66.8 94.4h0M81.3 90.0h0M82.1 128.0h0M71.4 112.6h0M68.0 89.2h0M82.0 125.6h0M94.9 87.0h0M82.8 102.9h0M74.7 108.3h0M75.6 82.2h0M71.8 96.1h0M69.9 116.4h0M90.9 110.1h0M95.3 86.8h0M94.8 96.2h0M83.5 121.2h0M70.8 122.8h0" stroke="#F15A29" stroke-width="0.75" stroke-linecap="round"/>
<path d="M68.5 119.9h0M60.2 95.8h0M66.2 104.0h0M63.2 105.1h0M56.6 103.5h0M59.9 96.4h0M58.2 89.0h0M66.6 107.9h0M65.0 97.1h0M59.3 89.6h0M59.5 94.9h0M67.6 120.2h0M67.3 109.0h0M58.3 93.8h0M58.7 94.1h0M64.9 94.0h0M60.3 101.4h0M65.1 98.4h0M62.5 108.5h0M60.3 105.8h0M63.8 93.6h0M64.7 113.8h0M61.7 95.8h0M64.5 107.3h0M58.8 110.5h0M57.6 85.0h0M69.0 105.8h0M58.3 89.4h0M68.7 118.7h0M66.3 92.9h0M69.4 110.5h0M61.9 111.1h0M61.2 101.5h0M59.1 104.5h0M59.8 88.7h0M67.3 110.6h0M65.5 92.0h0M66.2 104.8h0M64.1 107.8h0M67.9 109.0h0M69.7 120.5h0M63.9 87.1h0M65.3 107.1h0M61.6 112.9h0M60.6 93.3h0M60.3 88.0h0M62.4 101.7h0M71.6 121.8h0M63.5 104.3h0M67.2 116.7h0M70.1 122.6h0M69.9 117.0h0M58.7 100.6h0M59.7 99.6h0M63.5 99.9h0M65.1 103.7h0M60.8 106.6h0M59.4 104.8h0M57.6 96.5h0M63.1 102.8h0M58.9 90.2h0M63.3 97.8h0M68.0 101.1h0M64.2 106.4h0M64.4 88.9h0M59.2 91.7h0M61.7 93.7h0M67.2 93.9h0M63.4 109.0h0M59.0 99.6h0M69.4 121.1h0M65.6 95.9h0M71.0 105.2h0M71.9 123.5h0M66.8 103.1h0M67.5 97.7h0M66.2 122.2h0M67.2 98.9h0M65.8 119.2h0M61.0 111.1h0M59.4 104.0h0M66.0 102.2h0M63.5 98.8h0M67.1 107.9h0M69.4 110.0h0M61.5 102.2h0M68.1 113.9h0M68.7 118.4h0M62.7 116.6h0M60.5 89.0h0M61.4 108.6h0M64.4 107.4h0M68.7 121.8h0M63.7 89.7h0M62.2 105.0h0M63.5 103.3h0M70.6 105.4h0M62.2 107.2h0M58.7 95.0h0M61.6 106.7h0M61.5 110.3h0M66.1 96.3h0M59.2 90.9h0M62.3 103.2h0M69.3 117.7h0M61.6 104.2h0M61.0 95.5h0M60.1 85.8h0M59.6 100.2h0M60.0 115.4h0M66.8 107.4h0M59.7 92.5h0M69.7 109.6h0M67.4 106.5h0M64.8 104.2h0M64.8 95.2h0M60.9 93.9h0M63.5 107.8h0M65.2 104.6h0M69.2 120.0h0M68.4 113.2h0M65.3 95.8h0M67.2 105.3h0M70.4 122.9h0M64.2 103.1h0M58.1 97.0h0M66.4 113.8h0M61.7 115.1h0M61.0 104.5h0M64.8 90.2h0M69.1 118.7h0M61.3 103.6h0M67.2 115.7h0M60.3 110.6h0M66.5 108.6h0M62.8 93.8h0M72.5 125.1h0M57.5 95.2h0M60.7 103.9h0M59.1 98.8h0M70.1 118.9h0M65.8 92.7h0M70.5 111.3h0M66.9 103.9h0M61.4 106.3h0M64.4 108.4h0M66.3 112.4h0M58.2 96.5h0M66.7 97.1h0M63.5 113.4h0M62.2 99.7h0M72.2 122.0h0M60.5 100.0h0M63.3 94.3h0M69.5 121.8h0M62.0 102.3h0M60.9 95.2h0M59.0 94.7h0M59.1 100.2h0M57.0 87.9h0M62.3 92.4h0M69.2 113.3h0M69.6 113.6h0M66.9 111.0h0M65.3 116.5h0M65.6 102.8h0M60.3 95.7h0M58.6 104.4h0M64.6 91.6h0M68.9 100.0h0M66.6 115.3h0M66.8 109.9h0M68.5 114.1h0M63.6 114.8h0M64.1 112.1h0M67.0 119.0h0M60.4 92.0h0M66.6 122.5h0M65.0 112.0h0M61.5 106.5h0M62.6 88.9h0M57.2 87.3h0M67.5 99.5h0M65.9 96.0h0M64.0 108.7h0M66.0 114.4h0M63.6 115.5h0M59.5 99.2h0M71.7 122.6h0M67.7 114.4h0M70.3 123.4h0M64.1 104.4h0M62.2 91.6h0M72.0 120.7h0M60.1 109.9h0M59.7 101.5h0M72.0 124.0h0M66.2 115.6h0M69.4 108.3h0M58.6 92.3h0M60.1 103.3h0M59.0 92.2h0M66.6 105.0h0M61.0 109.2h0M69.5 117.6h0M59.3 85.6h0M64.9 106.4h0M65.8 91.7h0M60.4 104.6h0" stroke="#E8467C" stroke-width="0.75" stroke-linecap="round"/>
<path d="M57.1 82.9h0M61.2 84.6h0M67.6 54.0h0M77.8 71.2h0M50.2 86.3h0M56.4 56.5h0M71.8 66.7h0M60.5 75.0h0M67.2 48.6h0M81.8 60.6h0M51.4 86.7h0M77.8 72.0h0M78.5 65.6h0M59.2 54.6h0M64.3 65.1h0M59.6 77.3h0M76.7 56.5h0M52.4 87.1h0M62.0 68.2h0M49.6 71.8h0M64.1 84.2h0M47.5 69.5h0M72.2 66.9h0M51.3 84.5h0M76.4 61.5h0M48.4 68.2h0M61.3 71.1h0M60.6 68.4h0M57.3 57.6h0M52.1 89.9h0M63.2 45.2h0M72.0 65.2h0M61.7 75.2h0M58.0 69.0h0M79.1 73.6h0M68.0 79.1h0M81.9 54.0h0M79.8 64.7h0M62.1 52.7h0M84.9 57.8h0M55.8 51.5h0M52.7 58.7h0M64.9 77.3h0M65.5 74.9h0M78.2 46.1h0M71.8 62.2h0M87.3 63.8h0M64.2 65.7h0M80.5 63.1h0M70.3 61.7h0M61.4 79.3h0M68.1 45.9h0M67.2 68.9h0M66.6 64.6h0M60.0 81.3h0M64.4 85.5h0M61.7 60.4h0M49.2 69.0h0M65.8 47.0h0M75.5 53.4h0M59.5 67.2h0M84.4 50.5h0M71.6 69.2h0M75.2 59.6h0M82.6 66.7h0M84.6 61.4h0M61.6 63.8h0M67.0 84.8h0M79.0 69.2h0M63.1 67.7h0M65.6 73.8h0M62.5 71.8h0M60.6 54.7h0M80.3 68.7h0M74.2 61.4h0M70.9 42.7h0M52.6 84.2h0M58.9 68.2h0M58.6 60.2h0M75.9 50.6h0M78.2 49.9h0M49.9 86.9h0M64.9 46.2h0M77.0 73.0h0M72.5 68.0h0M58.6 60.1h0M60.9 64.2h0M62.3 82.0h0M59.1 70.3h0M66.3 50.8h0M56.2 54.9h0M78.9 62.1h0M51.8 63.7h0M61.2 66.9h0M68.0 79.8h0M57.9 54.9h0M68.6 60.9h0M80.0 49.5h0M64.1 82.5h0M81.5 58.1h0M65.2 80.5h0M56.5 66.9h0M47.6 82.2h0M82.0 68.1h0M50.5 60.2h0M69.2 64.9h0M69.2 55.4h0M54.2 63.2h0M54.8 77.7h0M51.7 90.1h0M78.6 65.8h0M65.7 66.8h0M56.5 49.4h0M76.2 64.4h0M56.9 89.8h0M79.0 73.4h0M84.6 59.6h0M73.4 42.5h0M51.8 70.3h0M77.7 64.5h0M85.1 58.8h0M75.9 72.3h0M52.3 88.0h0M53.5 76.0h0M56.4 66.3h0M59.6 84.5h0M78.5 69.4h0M73.3 47.9h0M64.1 81.1h0M67.9 68.5h0M72.4 46.6h0M52.8 76.2h0M78.3 49.0h0M81.0 63.6h0M74.6 48.1h0M61.8 51.1h0M66.6 47.1h0M73.5 75.2h0M70.2 73.6h0M57.6 58.8h0M66.8 67.7h0M51.0 83.7h0M67.4 46.4h0M78.1 52.8h0M60.4 66.8h0M71.5 46.2h0M53.1 86.3h0M70.6 72.2h0M62.7 76.9h0M55.4 64.8h0M61.9 72.6h0M73.6 64.8h0M50.7 73.2h0M77.4 64.3h0M75.8 67.6h0M57.7 75.4h0M85.3 57.7h0M77.9 61.1h0M80.7 62.6h0M69.0 50.7h0M48.7 69.7h0M79.6 68.8h0M54.9 84.8h0M64.1 73.9h0M77.8 57.4h0M82.9 46.8h0M70.8 63.2h0M76.0 62.3h0M86.0 51.3h0M65.0 71.8h0M59.1 84.5h0M63.6 62.2h0M62.0 68.2h0M78.7 67.5h0M69.6 55.0h0M62.5 51.5h0M68.8 69.9h0M83.9 58.6h0M77.4 63.1h0M53.2 57.4h0M67.5 81.7h0M60.6 76.9h0M57.9 75.6h0M64.5 45.4h0M76.3 66.6h0M54.7 79.4h0M80.2 68.6h0M65.6 69.3h0M53.4 71.8h0M67.1 58.2h0M73.3 46.8h0M55.8 57.4h0M70.7 73.9h0M79.8 66.4h0M79.5 64.8h0M48.9 73.7h0M64.3 85.3h0M60.8 70.1h0M67.0 59.8h0M74.3 51.3h0M85.7 60.2h0M62.7 68.8h0M80.5 69.8h0M73.9 56.4h0M67.1 67.6h0M79.4 71.9h0M56.8 73.3h0M84.0 62.8h0M81.1 65.6h0M59.9 65.4h0M74.1 73.6h0M59.3 48.6h0M48.5 83.4h0M49.4 70.0h0M72.5 62.3h0M61.1 66.9h0M64.7 80.7h0M75.1 68.8h0M75.0 50.3h0M78.4 48.1h0M82.7 50.9h0M65.1 64.9h0M84.2 58.6h0M52.6 72.4h0M55.5 76.2h0M70.8 45.7h0M69.5 57.5h0M73.4 73.3h0M86.3 63.0h0M52.8 66.7h0M80.0 54.9h0M59.2 84.4h0M57.9 62.8h0M48.5 62.9h0M74.9 55.8h0M63.2 79.6h0M73.0 48.6h0M78.5 63.8h0M60.4 64.4h0M68.6 75.3h0M63.1 82.3h0M70.3 76.8h0M63.9 58.8h0M68.6 65.7h0M54.5 77.9h0M81.7 63.5h0M78.1 62.1h0M77.8 66.5h0M73.7 62.0h0M71.5 70.6h0M85.3 53.9h0M75.0 55.6h0M48.1 83.2h0M59.9 69.0h0M73.3 60.7h0M63.2 72.4h0M73.4 53.9h0M55.5 77.5h0M77.2 53.0h0M88.0 60.2h0M67.5 51.6h0M46.9 73.2h0M58.0 66.1h0M81.9 62.8h0M63.1 69.8h0M51.9 74.0h0M75.5 52.9h0M53.9 81.9h0M77.7 64.2h0M52.3 77.4h0M63.3 57.2h0M65.4 49.9h0M55.2 49.9h0M65.2 64.4h0M84.3 55.6h0M64.3 83.7h0M47.7 68.4h0M58.8 74.9h0M83.7 64.1h0M59.1 46.8h0M58.1 52.7h0M61.9 72.2h0M70.0 56.9h0M63.0 49.7h0M53.4 84.3h0M80.5 69.6h0M67.5 75.2h0M64.9 68.2h0M49.2 79.5h0M68.7 49.3h0M57.1 89.1h0M69.8 74.1h0M68.5 60.5h0M82.8 55.5h0M59.0 87.6h0M55.0 75.7h0M51.6 72.7h0M49.6 82.0h0M57.0 62.7h0M62.4 88.4h0M56.3 60.5h0M84.1 64.0h0M58.5 87.1h0M80.0 70.4h0M54.8 82.1h0M58.0 88.3h0M75.5 57.1h0M57.4 51.8h0M56.2 85.2h0M49.1 69.7h0M47.6 64.7h0M58.1 82.9h0M60.9 70.0h0M53.1 54.2h0M88.6 59.1h0M69.0 71.0h0M61.0 72.7h0M74.6 60.6h0M69.7 52.0h0M63.8 62.8h0M68.0 61.7h0M68.3 68.1h0M65.6 71.6h0M64.2 73.7h0M74.3 48.6h0M77.8 61.0h0M58.7 88.0h0M65.6 73.0h0M60.4 47.2h0M58.8 72.5h0M57.5 85.2h0M57.4 73.0h0M57.9 61.8h0M74.2 65.0h0M68.4 70.1h0M64.5 72.7h0M61.7 66.4h0M70.4 58.5h0M64.7 64.9h0M69.9 46.6h0M56.5 55.2h0M73.7 62.0h0M76.1 64.9h0M63.1 48.6h0M79.5 61.6h0M50.1 57.4h0M70.3 55.9h0M73.9 47.0h0M66.2 54.2h0M72.5 57.7h0M53.6 75.4h0M62.6 68.2h0M68.2 74.1h0M58.8 59.7h0M59.6 53.7h0M67.5 77.8h0M68.6 50.0h0M62.0 75.4h0M56.3 64.9h0M56.6 66.1h0M56.8 77.7h0M70.4 68.7h0M65.8 78.6h0M65.8 79.9h0M71.1 46.4h0M63.3 54.8h0M60.3 80.2h0M74.6 64.6h0M59.6 55.9h0M67.5 60.6h0M64.7 56.9h0M65.9 62.3h0M83.8 54.6h0M74.2 73.1h0M69.5 59.2h0M61.7 74.7h0M83.5 64.6h0M67.0 53.1h0M63.6 62.1h0M76.2 58.6h0M64.7 62.1h0M66.2 62.7h0M67.5 74.4h0M53.7 73.1h0M78.9 62.7h0M56.3 72.3h0M61.9 68.1h0M61.3 77.7h0M69.5 48.7h0M53.9 67.0h0M65.2 76.5h0M69.8 77.1h0M61.9 52.7h0M58.3 70.2h0M79.4 68.4h0M85.5 56.7h0M52.6 77.4h0M80.1 68.6h0M79.0 52.9h0M66.4 58.9h0M59.2 51.4h0M77.2 49.8h0M82.2 57.6h0M77.4 68.6h0M63.2 86.6h0M50.7 67.1h0M56.7 53.6h0M85.5 57.3h0M63.5 75.0h0M62.8 73.7h0M82.5 52.1h0M49.4 56.0h0M58.4 68.9h0M54.2 73.0h0M56.4 70.6h0M58.6 71.9h0M69.5 61.0h0M77.1 58.0h0M76.2 67.8h0M65.9 75.7h0M54.7 89.7h0M70.3 47.2h0M74.1 49.8h0M50.2 80.5h0M59.6 50.4h0M75.3 71.3h0M50.3 62.5h0M58.3 55.1h0M64.8 60.4h0M76.9 53.5h0M58.7 81.1h0M76.6 64.4h0M75.2 55.4h0M60.1 55.0h0M48.5 55.4h0M73.6 50.2h0M87.8 59.7h0M50.1 89.0h0M51.7 86.1h0M55.0 65.2h0M84.0 48.1h0M81.5 59.5h0M58.7 59.6h0M67.4 42.7h0M58.4 63.0h0M71.9 52.3h0M60.5 73.5h0M65.9 52.0h0M62.4 67.6h0M66.1 47.0h0M71.1 48.9h0M68.9 52.0h0M82.9 48.4h0M64.8 72.6h0M75.1 46.2h0M65.5 51.9h0M78.2 59.0h0M80.0 51.4h0M79.5 60.2h0M51.8 67.8h0M73.7 73.2h0M77.9 73.5h0M61.4 53.8h0M78.3 49.9h0M78.5 54.4h0M56.6 64.5h0M63.4 47.8h0M83.8 61.6h0M70.2 66.2h0M65.2 84.7h0M56.1 81.8h0M61.2 73.5h0M73.6 70.7h0M57.9 85.0h0M56.0 59.2h0M71.1 55.8h0M75.8 55.1h0M75.9 43.9h0M49.4 79.2h0M61.4 46.2h0M54.2 81.8h0M58.7 79.9h0M73.1 47.7h0M69.7 52.4h0M86.6 59.4h0M49.1 80.1h0M55.9 88.6h0M53.8 84.9h0M71.3 48.5h0M61.1 83.2h0M61.1 74.7h0M58.7 61.4h0M55.4 78.4h0M80.1 54.2h0M61.6 73.6h0M55.8 63.6h0M74.8 62.4h0M80.9 71.5h0M51.7 63.0h0M82.5 54.7h0M55.4 71.7h0M56.6 52.8h0M47.8 84.8h0M75.6 69.0h0M52.4 77.0h0M56.4 69.3h0M68.6 56.4h0M78.6 49.2h0M72.2 58.9h0M67.8 63.4h0M70.5 67.1h0M79.1 64.7h0M82.2 64.1h0M67.5 62.4h0M55.4 66.7h0M78.2 59.2h0M52.4 78.9h0M70.3 51.3h0M78.8 70.9h0M50.5 83.7h0M63.0 74.7h0M85.2 56.5h0M62.1 47.6h0M68.0 45.4h0M78.6 53.4h0M67.7 56.0h0M55.6 49.2h0M65.9 61.1h0M76.4 72.1h0M69.3 51.8h0M64.0 57.5h0M64.9 82.5h0M58.2 55.2h0M73.9 62.1h0M82.4 63.0h0M56.9 84.7h0M70.2 76.7h0M86.1 61.8h0M65.8 62.6h0M53.9 52.2h0M63.9 65.3h0M65.9 45.9h0M82.7 66.8h0M61.0 48.1h0M65.2 48.7h0M50.1 83.8h0M61.1 81.9h0M67.0 50.2h0M63.5 64.6h0M85.3 68.9h0M64.2 46.8h0M75.1 58.5h0M86.4 54.9h0M55.4 49.5h0M56.2 55.0h0M56.7 64.5h0M56.7 56.1h0M48.8 75.7h0M59.1 62.7h0M53.1 53.4h0M70.9 52.5h0M67.8 77.5h0M75.5 61.1h0M52.9 86.1h0M82.0 57.0h0M58.1 71.3h0M76.3 53.8h0M57.0 90.2h0M83.7 60.1h0M59.8 54.0h0M56.6 66.7h0M65.0 75.1h0M60.5 74.8h0M57.2 67.2h0M60.2 46.1h0M64.5 56.6h0M80.1 60.1h0M55.8 54.7h0M84.6 50.8h0M54.7 59.4h0M71.0 50.4h0M58.2 70.6h0M57.8 85.0h0M60.6 57.2h0M74.9 45.7h0M54.1 62.0h0M60.1 75.2h0M64.6 74.8h0M85.9 54.4h0M53.0 59.1h0M61.7 87.3h0M61.9 82.6h0M50.2 61.0h0M64.6 83.9h0M51.8 63.7h0M50.2 75.6h0M49.7 76.1h0M80.1 47.7h0M54.7 64.3h0M67.2 69.0h0M61.3 46.3h0M60.0 88.3h0M71.0 50.2h0M50.7 83.8h0M53.6 52.5h0M48.7 64.1h0M65.9 67.9h0M87.6 61.0h0M53.8 81.2h0M51.1 61.1h0M84.6 63.1h0M63.8 55.7h0M74.7 64.5h0M70.2 62.1h0M57.5 64.0h0M82.9 57.0h0M66.7 65.1h0M67.6 66.1h0M61.7 60.5h0M56.4 68.4h0M68.9 72.6h0M56.6 80.9h0M82.5 59.7h0M54.5 66.8h0M85.8 53.8h0M85.7 66.7h0M64.9 54.0h0M69.8 73.3h0M82.9 54.4h0M69.1 72.7h0M84.6 57.6h0M74.6 49.9h0M52.1 78.7h0M66.6 48.6h0M74.9 70.7h0M70.7 73.2h0M54.3 67.9h0M51.7 52.7h0M60.9 53.6h0M62.9 82.2h0M80.3 53.6h0M84.3 59.3h0M57.2 79.7h0M64.3 83.1h0M76.3 51.1h0M64.0 78.9h0M66.4 47.1h0M71.2 57.0h0M53.5 65.7h0M54.4 61.2h0M61.5 67.9h0M69.3 60.3h0M72.3 58.5h0M68.1 71.8h0M60.5 78.2h0M56.7 73.2h0M75.8 67.0h0M65.5 59.4h0M53.3 52.4h0M71.5 54.9h0M59.7 72.9h0M71.7 76.5h0M70.8 53.5h0M84.2 60.2h0M72.3 48.3h0M66.9 69.7h0M65.2 81.7h0M52.7 86.4h0M80.9 60.4h0M67.9 56.8h0M69.9 69.3h0M50.4 57.0h0M69.2 49.0h0M86.4 56.2h0M53.4 59.0h0M62.0 81.9h0M64.5 45.9h0M70.5 49.4h0M69.2 73.9h0M51.2 79.2h0M81.7 52.3h0M81.7 55.6h0M56.3 53.7h0M60.5 64.8h0M65.1 45.4h0M53.9 54.4h0M51.8 71.2h0M58.4 69.2h0M49.7 72.0h0M67.1 79.4h0M62.5 68.3h0M71.1 62.6h0M65.0 64.7h0M54.0 73.9h0M75.3 62.3h0M69.9 72.6h0M74.1 59.3h0M81.9 66.9h0M72.1 57.4h0M68.5 57.6h0M59.3 49.2h0M64.1 47.9h0M48.6 83.8h0M66.6 64.0h0M57.5 87.3h0M60.5 79.5h0M70.7 61.0h0M50.9 59.1h0M67.8 50.0h0M78.2 50.5h0M54.7 51.8h0M62.7 61.5h0M50.8 85.3h0M55.9 78.5h0M76.6 66.0h0M61.4 54.6h0M65.7 78.8h0M72.6 74.9h0M48.2 82.6h0M72.7 45.9h0M57.4 49.8h0M49.7 77.5h0M71.0 56.2h0M76.4 66.8h0M65.5 69.8h0M60.1 47.7h0M68.5 57.2h0M69.1 78.9h0M80.4 70.4h0M78.4 69.9h0M55.3 86.1h0M69.6 66.7h0M59.6 86.1h0M68.7 67.4h0M52.7 75.3h0M55.2 75.8h0M66.6 64.2h0M51.3 76.7h0M64.7 69.0h0M75.1 48.3h0M79.8 51.9h0M53.1 77.6h0M46.3 76.0h0M67.0 54.6h0M76.0 57.3h0M82.4 50.3h0M72.3 67.3h0M55.0 89.9h0M77.1 67.6h0M77.5 49.7h0M51.8 51.8h0M76.2 60.5h0M56.6 65.8h0M60.1 72.0h0M70.0 48.8h0M79.2 49.0h0M81.2 72.2h0M56.4 66.7h0M78.9 57.2h0M49.3 66.4h0M64.8 51.7h0M75.8 74.6h0M60.0 54.0h0M56.5 77.3h0M76.3 70.1h0M64.1 52.4h0M72.1 46.8h0M76.0 67.4h0M84.2 66.9h0M63.2 62.6h0M52.1 74.1h0M78.3 67.8h0M69.0 73.8h0M61.3 79.4h0M54.0 71.0h0M70.8 56.7h0M58.4 66.2h0M81.0 70.0h0M51.4 79.6h0M84.5 57.3h0M71.8 71.1h0M68.0 47.7h0M65.0 76.9h0M58.7 89.0h0M73.5 55.6h0M50.5 79.2h0M49.1 63.1h0M80.2 47.6h0M75.0 52.0h0M56.3 61.5h0M69.0 47.3h0M71.3 61.2h0M71.1 68.2h0M56.4 60.8h0M66.0 49.9h0M78.3 72.8h0M80.3 53.9h0M71.4 55.3h0M69.6 71.0h0M54.2 52.6h0M67.5 79.1h0M56.4 63.4h0M60.5 58.0h0M80.3 68.4h0M74.1 62.6h0M53.2 53.4h0M54.3 72.1h0M73.7 63.0h0M68.8 57.4h0M67.2 61.2h0M56.4 76.0h0M81.0 59.8h0M82.4 49.3h0M68.2 65.1h0M61.5 48.7h0M69.6 76.7h0M52.7 73.3h0M65.1 74.6h0M51.8 74.9h0M53.8 57.1h0M62.7 69.5h0M80.2 51.7h0M69.3 72.2h0M75.9 74.4h0M56.8 61.8h0M70.2 70.8h0M63.7 72.8h0M66.6 47.0h0M53.7 60.1h0M79.4 50.4h0M71.7 48.7h0M50.1 82.5h0M82.3 51.4h0M72.5 46.3h0M75.0 51.1h0M64.4 77.8h0M79.0 63.5h0M72.6 44.1h0M73.2 51.3h0M77.7 62.3h0M59.1 51.8h0M53.6 87.7h0M61.5 88.2h0M76.1 59.8h0M65.0 73.9h0M55.1 74.2h0M55.1 64.3h0M63.5 55.6h0M51.6 71.6h0M56.5 59.3h0M58.5 65.5h0M48.6 79.2h0M52.4 56.9h0M66.7 46.2h0M59.5 85.3h0M79.0 69.5h0M81.0 47.6h0M74.8 53.5h0M77.7 52.0h0M60.8 58.6h0M52.0 75.3h0M85.9 65.6h0M58.6 57.9h0M52.9 76.4h0M70.3 45.8h0M78.0 62.5h0M64.2 68.7h0M81.5 69.9h0M74.9 75.9h0M62.0 81.4h0M85.5 67.6h0M78.4 59.5h0M74.2 62.3h0M62.4 62.3h0M53.5 74.2h0M61.7 67.8h0M82.5 53.5h0M75.4 75.0h0M47.4 81.7h0M56.4 67.4h0M70.4 60.0h0M49.8 63.1h0M59.2 63.5h0M62.1 85.4h0M56.8 80.4h0M81.7 61.0h0M57.9 56.3h0M86.3 57.5h0M72.0 51.7h0M68.4 65.4h0M71.3 57.9h0M73.3 67.4h0M52.0 81.5h0M85.1 60.2h0M81.1 57.9h0M85.0 57.2h0M61.8 74.6h0M58.3 67.0h0M83.6 70.5h0M53.0 61.5h0M59.6 84.0h0M64.6 84.4h0M62.3 72.3h0M67.7 48.8h0M58.6 77.4h0M58.7 46.5h0M53.7 65.3h0M74.5 64.4h0M50.9 55.9h0M73.6 52.7h0M58.2 61.0h0M56.0 81.0h0M71.7 55.0h0M48.1 67.4h0M65.6 69.5h0M72.6 51.9h0M51.8 70.6h0M60.2 74.5h0M59.6 59.5h0M52.5 66.5h0M62.9 46.5h0M65.0 46.6h0M60.9 56.9h0M79.3 51.1h0M75.9 52.0h0M68.4 77.1h0M72.8 73.8h0M53.6 65.2h0M75.2 65.8h0M58.6 68.9h0M85.5 56.2h0M52.2 77.0h0M63.4 78.4h0M85.0 58.2h0M60.6 83.6h0M65.6 49.7h0M80.7 60.9h0M62.2 87.1h0M66.6 61.5h0M56.4 85.8h0M68.5 70.6h0M48.8 80.5h0M80.9 51.6h0M53.7 68.7h0M52.3 86.4h0M56.3 76.5h0M60.0 54.4h0M70.6 57.6h0M57.5 89.0h0M60.9 81.0h0M71.9 57.3h0M60.8 51.7h0M58.3 67.3h0M62.9 71.6h0M65.2 58.2h0M80.5 64.2h0M61.2 52.5h0M66.2 81.0h0M53.4 72.5h0M72.0 51.0h0M64.8 44.1h0M85.2 67.9h0M50.3 77.3h0M54.7 85.8h0M80.7 68.7h0M73.1 60.8h0M50.8 81.8h0M67.7 43.9h0M85.6 58.2h0M59.7 52.9h0M83.2 59.5h0M68.8 71.2h0M67.1 64.5h0M50.0 80.6h0M61.8 57.3h0M77.1 47.3h0M74.8 63.1h0M52.0 63.3h0M68.9 48.0h0M71.4 62.7h0M64.5 51.0h0M54.7 51.4h0M50.2 67.0h0M50.4 78.9h0M51.2 82.2h0M68.0 48.5h0M52.5 81.7h0M49.4 79.7h0M59.9 57.7h0M63.4 74.3h0M64.4 63.7h0M54.3 79.0h0M86.1 54.9h0M67.2 51.7h0M59.0 54.9h0M56.5 60.9h0M66.4 59.7h0M87.1 65.3h0M48.9 56.6h0M55.8 80.9h0M64.4 77.0h0M74.6 61.3h0M83.2 58.3h0M57.4 81.2h0M81.1 71.1h0M55.8 59.0h0M57.2 85.6h0M65.1 64.4h0M51.8 53.9h0M55.0 70.9h0M63.7 56.8h0M62.1 78.5h0M54.7 59.7h0M59.6 60.9h0M61.2 50.6h0M84.5 62.6h0M64.6 80.4h0M70.7 73.9h0M70.2 64.3h0M77.2 55.1h0M65.2 56.8h0M86.9 60.6h0M60.3 81.2h0M67.4 70.0h0M86.7 64.4h0M52.3 86.1h0M55.6 75.6h0M54.9 62.6h0M67.5 71.6h0M57.2 51.8h0M82.4 67.7h0M49.9 64.3h0M67.4 72.1h0M52.8 66.0h0M62.4 77.4h0M49.1 79.4h0M64.1 60.3h0M78.2 65.0h0M85.5 57.9h0M77.5 67.0h0M59.5 55.1h0M54.6 66.2h0M67.0 66.2h0M71.2 68.2h0M55.5 74.6h0M51.3 70.0h0M47.5 84.1h0M60.5 49.3h0M80.3 67.3h0M57.2 56.1h0M55.4 51.2h0M71.0 68.2h0M55.4 56.4h0M83.8 61.5h0M58.8 57.6h0M67.4 60.5h0M85.6 61.1h0M69.3 56.7h0M76.7 44.5h0M52.2 58.9h0M79.5 63.8h0M60.1 70.7h0M77.1 69.0h0M62.0 48.0h0M85.8 60.7h0M53.7 61.0h0M69.2 72.3h0M71.7 63.5h0M80.7 67.5h0M66.7 75.7h0M81.8 58.1h0M73.3 56.9h0M56.2 50.7h0M71.0 43.8h0M59.0 87.3h0M51.2 56.2h0M49.3 84.3h0M60.6 67.6h0M52.9 59.5h0M53.6 87.2h0M58.9 67.7h0M78.6 68.9h0M67.9 61.8h0M67.9 51.3h0M62.2 80.3h0M55.2 77.3h0M58.3 61.5h0M54.0 78.7h0M61.1 79.6h0M54.0 84.3h0M80.8 53.6h0M67.5 64.5h0M52.0 78.0h0M65.6 49.4h0M66.2 49.5h0M65.2 71.5h0M82.8 61.4h0M72.6 59.5h0M64.0 69.0h0M71.8 49.6h0M69.4 78.8h0M73.5 45.4h0M53.1 85.6h0M61.5 70.4h0M62.0 68.5h0M51.7 57.0h0M51.1 83.1h0M49.4 64.6h0M53.0 59.8h0M49.6 72.0h0M60.3 55.5h0M59.9 70.7h0M70.9 59.0h0M75.0 44.7h0M45.9 80.4h0M51.6 74.8h0M53.9 57.9h0M51.4 53.9h0M86.5 57.7h0M85.0 58.3h0M58.3 85.7h0M57.4 80.8h0M70.9 69.6h0M68.9 53.3h0M58.2 78.3h0M68.8 43.9h0M50.1 74.1h0M48.9 79.9h0M67.2 67.1h0M87.6 57.3h0M64.4 72.5h0M55.4 64.9h0M66.6 84.2h0M77.7 59.8h0M73.2 63.5h0M59.9 48.7h0M57.8 60.2h0M56.9 83.2h0M77.7 72.5h0M75.7 73.7h0M78.7 63.7h0M57.6 52.5h0M60.1 65.6h0M70.1 77.7h0M60.7 69.9h0M71.2 48.7h0M51.0 87.8h0M75.9 71.3h0M79.6 51.9h0M55.6 51.2h0M65.4 52.2h0M61.4 85.2h0M72.1 52.3h0M48.9 57.1h0M73.2 50.5h0M61.2 78.8h0M62.1 63.8h0M63.8 48.8h0M80.3 53.9h0M49.4 68.5h0M72.2 77.4h0M66.7 75.7h0M65.5 50.8h0M70.1 46.4h0M69.3 52.3h0M62.5 78.0h0M70.8 60.3h0M50.0 74.8h0M73.0 61.9h0M79.7 60.3h0M74.5 57.7h0M57.8 75.7h0M74.0 75.9h0M54.5 66.3h0M65.3 49.5h0M75.0 75.5h0M49.6 62.9h0M53.3 66.3h0M70.1 62.6h0M71.0 57.3h0M57.3 69.9h0M60.4 68.5h0M82.3 63.2h0M78.7 52.3h0M51.3 54.1h0M71.5 55.5h0M66.6 61.9h0M65.3 67.1h0M71.9 68.9h0M55.0 79.6h0M81.0 62.0h0M85.7 61.7h0M64.3 52.9h0M51.7 60.2h0M67.0 63.8h0M77.2 51.6h0M62.0 52.7h0M61.1 77.9h0M79.8 60.8h0M76.1 71.7h0M68.7 64.0h0M58.0 59.2h0M56.0 82.1h0M74.5 54.1h0M62.1 80.9h0M61.1 87.5h0M83.5 69.0h0" stroke="#C4122F" stroke-width="0.75" stroke-linecap="round"/>
<path d="M99.1 99.4h0M91.4 69.8h0M99.3 104.6h0M95.1 81.6h0M94.8 78.9h0M96.4 87.2h0M92.5 69.8h0M101.6 91.0h0M92.2 78.2h0M101.7 99.7h0M112.7 76.4h0M97.8 89.2h0M97.5 81.4h0M92.8 94.8h0M100.9 91.2h0M99.5 74.0h0M95.1 96.7h0M111.0 80.5h0M106.8 81.4h0M92.4 87.9h0M113.4 80.3h0M105.3 65.7h0M108.8 78.6h0M96.5 74.9h0M99.6 92.7h0M96.2 96.0h0M93.0 64.3h0M92.1 63.0h0M111.1 83.0h0M96.7 109.3h0M105.1 62.5h0M103.1 69.6h0M96.6 113.0h0M90.7 59.6h0M101.3 89.2h0M102.9 91.2h0M109.1 84.1h0M97.4 112.3h0M96.8 63.9h0M93.6 67.7h0M100.8 74.4h0M96.8 62.8h0M107.0 71.2h0M96.0 59.8h0M90.7 59.4h0M110.4 75.2h0M101.6 76.7h0M91.4 64.4h0M103.5 78.0h0M99.3 96.4h0M106.3 91.4h0M98.6 61.6h0M94.6 83.8h0M106.0 79.9h0M94.1 80.8h0M98.6 93.1h0M102.6 65.6h0M101.6 62.0h0M96.6 80.4h0M101.6 89.3h0M105.8 76.0h0M94.1 78.6h0M96.6 94.2h0M101.9 67.8h0M102.5 67.1h0M111.2 77.6h0M106.4 84.4h0M93.4 63.0h0M98.2 94.0h0M100.4 77.9h0M96.0 68.7h0M106.1 66.7h0M97.6 70.0h0M112.8 77.1h0M100.8 60.3h0M85.6 62.9h0M99.8 72.1h0M97.8 64.5h0M96.7 78.7h0M95.7 114.6h0M93.8 76.1h0M99.0 72.7h0M89.4 67.9h0M96.9 69.0h0M100.7 87.2h0M109.9 73.9h0M104.9 87.0h0M95.6 75.5h0M95.2 95.6h0M99.6 110.1h0M107.2 77.1h0M90.7 64.1h0M100.6 98.5h0M108.9 64.5h0M92.8 60.3h0M104.1 82.3h0M99.7 111.2h0M89.9 78.0h0M87.2 63.5h0M96.9 115.8h0M109.1 70.4h0M99.6 81.5h0M98.2 93.1h0M106.9 63.6h0M100.5 72.1h0M112.2 83.5h0M93.9 61.0h0M109.0 64.1h0M109.1 85.4h0M97.0 81.1h0M112.4 78.0h0M96.4 61.2h0M93.1 59.9h0M93.3 59.9h0M108.7 80.4h0M99.9 96.6h0M98.8 95.2h0M101.5 83.3h0M106.0 85.9h0M91.1 61.3h0M107.6 81.8h0M99.9 103.2h0M98.1 114.9h0M110.5 73.5h0M95.7 70.2h0M111.5 77.5h0M103.2 77.4h0M98.6 64.8h0M104.6 95.3h0M89.0 69.7h0M96.9 89.9h0M105.5 64.7h0M107.1 74.0h0M98.8 92.3h0M99.4 86.8h0M110.9 75.1h0M107.2 66.7h0M110.8 67.4h0M95.6 70.3h0M104.9 95.4h0M92.4 84.6h0M111.9 70.5h0M94.6 69.1h0M89.0 62.1h0M101.1 83.9h0M107.7 63.6h0M94.6 115.5h0M94.3 86.5h0M95.1 65.1h0M101.6 77.4h0M96.3 66.3h0M102.3 85.2h0M95.6 94.2h0M97.1 107.9h0M99.3 63.2h0M94.6 82.8h0M99.2 98.4h0M95.3 99.2h0M107.5 84.4h0M107.1 64.2h0M89.2 65.2h0M93.5 66.5h0M90.9 64.9h0M103.8 95.6h0M91.3 64.0h0M107.7 73.4h0M97.6 110.2h0M94.2 80.3h0M97.8 98.1h0M94.5 112.0h0M100.6 60.6h0M103.1 92.3h0M85.6 61.5h0M90.3 70.8h0M96.4 87.0h0M91.7 66.6h0M97.4 57.6h0M101.1 106.1h0M102.2 78.9h0M96.4 93.4h0M99.7 93.3h0M100.6 79.8h0M91.0 68.9h0M104.2 78.1h0M98.2 61.9h0M101.5 85.7h0M91.3 72.1h0M98.6 115.4h0M107.4 79.0h0M91.4 71.3h0M101.0 95.8h0M109.1 78.6h0M103.3 80.9h0M95.6 63.1h0M108.8 77.6h0M113.7 71.4h0M99.0 68.2h0M95.0 119.9h0M88.1 62.3h0M102.0 73.9h0M104.5 64.2h0M92.3 57.7h0M103.0 72.1h0M109.6 74.4h0M110.9 80.9h0M95.7 105.2h0M94.0 89.8h0M104.2 68.9h0M93.5 69.3h0M103.9 84.5h0M110.7 78.7h0M98.9 72.6h0M111.5 66.5h0M111.5 69.4h0M98.2 109.2h0M97.5 101.3h0M93.4 68.9h0M93.0 76.9h0M94.3 82.0h0M110.5 74.0h0M94.4 77.2h0M100.7 98.9h0M96.4 99.9h0M108.7 72.8h0M109.3 67.9h0M99.7 64.8h0M111.3 83.7h0M94.0 96.0h0M95.0 93.7h0M106.2 83.3h0M93.5 88.3h0M107.9 81.2h0M103.1 71.6h0M105.9 87.3h0M111.9 78.9h0M95.1 89.1h0M93.4 90.0h0M102.7 90.1h0M108.4 71.9h0M105.7 87.3h0M100.4 96.4h0M97.0 72.3h0M95.6 108.1h0M99.5 65.5h0M96.8 76.8h0M89.0 71.0h0M94.2 89.2h0M93.3 80.5h0M93.5 67.7h0M100.8 88.1h0M97.4 67.2h0M85.3 59.6h0M94.7 99.8h0M111.5 83.2h0M95.4 104.9h0M98.5 96.3h0M110.4 65.7h0M100.3 82.4h0M104.0 93.5h0M113.2 71.8h0M110.3 73.9h0M104.4 87.9h0M104.2 81.7h0M92.8 71.8h0M95.0 74.6h0M93.2 74.8h0M97.5 98.6h0M104.7 71.4h0M101.2 94.1h0M89.3 61.7h0M93.1 85.4h0M104.9 77.1h0M98.8 89.2h0M94.1 58.7h0M98.1 69.3h0M95.4 93.9h0M101.9 103.1h0M87.6 70.7h0M99.5 103.2h0M109.3 63.1h0M95.8 63.2h0M98.9 79.6h0M111.7 72.5h0M97.2 71.1h0M97.9 105.7h0M110.9 68.8h0M94.4 62.3h0M100.0 72.7h0M95.0 91.5h0M95.2 72.8h0M87.7 59.7h0M97.3 113.3h0M104.9 72.1h0M94.4 83.1h0M109.7 87.8h0M92.6 71.4h0M92.5 81.3h0M96.5 58.0h0M97.1 66.3h0M99.8 97.7h0M100.4 90.6h0M97.0 113.3h0M106.9 64.4h0M98.2 115.6h0M95.5 114.3h0M95.0 90.8h0M89.6 62.3h0M101.7 99.3h0M97.1 78.0h0M108.6 68.7h0M89.5 72.1h0M93.7 67.0h0M97.9 83.4h0M98.4 104.5h0M97.4 60.1h0M106.1 72.5h0M108.3 83.0h0M99.7 92.8h0M96.0 88.0h0M98.3 82.0h0M102.5 74.3h0M96.7 61.8h0M95.5 88.2h0M96.2 78.7h0M93.3 87.9h0M93.4 74.1h0M92.0 79.8h0M103.3 78.1h0M95.8 108.2h0M102.3 71.1h0M93.3 75.0h0M100.1 74.5h0M96.3 77.8h0M95.4 67.2h0M95.5 74.2h0M97.8 62.3h0M95.3 65.6h0M91.1 68.7h0M97.3 116.7h0M96.9 109.7h0M102.6 82.0h0M97.7 105.8h0M97.8 115.1h0M106.2 65.2h0M92.0 57.0h0M104.1 67.8h0M100.7 60.5h0M96.1 101.7h0M98.6 68.3h0M114.5 73.3h0M110.5 81.0h0M100.3 93.7h0M96.3 100.8h0M91.3 71.8h0M96.8 89.6h0M111.4 77.7h0M94.0 62.2h0M103.9 76.6h0M106.2 90.2h0M101.4 101.1h0M97.4 112.5h0M87.5 64.6h0M104.4 90.2h0M108.1 74.5h0M101.2 80.4h0M101.3 93.3h0M92.3 83.0h0M93.1 76.5h0M98.4 76.4h0M103.2 64.9h0M90.0 62.5h0M98.4 70.9h0M89.9 60.2h0M91.8 76.4h0M100.8 75.2h0M105.8 79.1h0M111.7 75.6h0M94.7 85.8h0M97.1 81.0h0M112.5 79.0h0M96.4 89.2h0M96.3 106.7h0M107.1 65.2h0M107.8 79.0h0M99.6 82.6h0M113.5 77.1h0M102.5 96.3h0M106.7 90.9h0M106.5 68.1h0M94.7 68.5h0M111.6 84.4h0M96.6 96.8h0M92.9 58.1h0M97.8 111.3h0M94.7 68.8h0M100.2 68.4h0M103.8 87.0h0M99.9 77.1h0M96.5 92.2h0M101.4 101.9h0M92.3 76.9h0M96.0 68.9h0M104.4 82.3h0M99.7 70.7h0M102.0 64.1h0M100.3 76.2h0M89.6 70.2h0M102.2 97.5h0M106.5 64.2h0M96.4 97.0h0M99.2 93.4h0M97.9 99.2h0M100.1 106.3h0M110.3 80.1h0M109.1 81.2h0M97.5 64.4h0M100.5 70.2h0M110.2 73.0h0M101.0 103.1h0M101.8 62.7h0M106.0 78.5h0M96.0 62.2h0M100.3 66.4h0M95.9 59.6h0M102.8 64.0h0M95.1 112.3h0M93.6 77.6h0M93.6 80.0h0M106.6 79.9h0M105.9 77.2h0M105.4 66.2h0M109.8 92.2h0M100.0 111.0h0M96.5 100.5h0M94.4 72.9h0M100.0 90.2h0M95.2 60.5h0M94.4 100.4h0M94.7 74.1h0M106.4 63.9h0M98.7 63.6h0M108.9 82.6h0M104.8 93.5h0M98.7 89.2h0M104.6 90.9h0M105.4 63.0h0M98.8 63.5h0M104.3 93.3h0M106.5 66.3h0M108.5 62.2h0M94.5 62.1h0M103.0 79.5h0M92.5 59.4h0M93.3 82.3h0M109.1 77.6h0M96.4 78.5h0M104.7 93.3h0M110.5 79.4h0M103.0 90.9h0M90.1 75.0h0M94.4 88.4h0M93.2 92.5h0M102.0 65.9h0M101.5 73.8h0M96.5 70.5h0M106.1 94.2h0M97.5 82.7h0M108.2 77.2h0M111.8 70.5h0M100.3 62.5h0M99.4 70.6h0M96.3 63.6h0M98.4 100.1h0M97.0 68.3h0M108.7 68.7h0M87.0 65.2h0M104.9 101.7h0M113.0 75.2h0M87.4 63.5h0M91.3 73.2h0M94.1 86.5h0M91.3 76.8h0M97.2 114.0h0M88.6 62.8h0M95.6 117.0h0M110.0 67.6h0M96.5 65.7h0M94.9 111.9h0M97.9 116.7h0M88.9 61.7h0M100.8 69.7h0M102.7 68.4h0M98.3 78.4h0M95.4 87.9h0M98.5 103.1h0M87.6 64.6h0M97.1 70.4h0M99.5 61.1h0M91.5 63.1h0M93.1 67.5h0M98.0 80.3h0M97.4 107.2h0M90.4 76.9h0M95.9 74.1h0M102.3 94.8h0M95.7 69.2h0M93.7 64.3h0M101.2 65.0h0M98.3 86.4h0M87.1 60.8h0M87.4 72.6h0M99.0 71.2h0M105.1 78.6h0M95.8 60.2h0M98.3 64.8h0M95.8 109.9h0M97.0 82.8h0M98.5 95.3h0M101.7 93.8h0M94.0 84.4h0M97.6 96.1h0M91.6 73.0h0M102.4 64.8h0M99.6 71.8h0M105.8 73.4h0M93.9 83.6h0M102.0 103.0h0M98.6 111.8h0M98.0 85.4h0M98.3 105.5h0M106.8 67.7h0M101.3 61.8h0M106.9 78.2h0M97.2 99.6h0M103.0 98.3h0M112.2 72.2h0M97.8 76.0h0M101.6 64.3h0M98.3 107.8h0M110.1 78.5h0M107.7 77.7h0M87.0 63.2h0M105.7 64.7h0M99.3 93.6h0M90.3 62.2h0M96.8 77.1h0M107.4 85.2h0M105.1 79.4h0M91.6 71.5h0M96.4 62.7h0M97.3 64.4h0M108.2 81.4h0M89.4 63.0h0M110.7 69.0h0M101.4 70.6h0M111.2 81.9h0M109.6 65.2h0M94.3 76.7h0M112.9 74.6h0M107.4 79.5h0M102.6 82.0h0M99.4 99.4h0M90.8 64.0h0M98.5 63.8h0M104.0 100.6h0M93.4 68.6h0M108.8 72.3h0M109.8 89.8h0M92.6 59.9h0M106.4 66.1h0M98.2 107.2h0M100.1 89.2h0M103.9 72.5h0M93.6 70.1h0M98.0 108.5h0M95.0 64.5h0M100.2 73.3h0M110.5 78.2h0M101.4 74.4h0M92.4 77.8h0M96.5 109.8h0M93.4 88.5h0M101.0 80.9h0M104.8 90.6h0M101.6 82.1h0M95.2 72.0h0M95.6 82.8h0M106.8 69.1h0M100.3 93.1h0M108.5 84.5h0M94.8 78.6h0M103.1 71.4h0M107.5 64.5h0M97.3 67.6h0M96.2 68.3h0M103.3 96.3h0M98.0 75.5h0M110.1 69.8h0M88.1 65.2h0M106.2 74.3h0M109.6 71.9h0M102.6 93.1h0M95.6 116.8h0M97.5 60.6h0M103.6 92.7h0M110.4 70.6h0M94.4 66.7h0M91.9 59.3h0M111.7 73.6h0M98.7 106.0h0M101.2 62.9h0M92.5 68.7h0M111.2 67.5h0M95.2 80.6h0M90.9 78.2h0M92.6 91.5h0M99.7 98.9h0M99.2 72.1h0M104.8 63.6h0M96.0 109.0h0M89.0 63.4h0M87.6 59.6h0M99.1 65.9h0M105.5 61.8h0M98.9 77.9h0M92.8 67.5h0M101.3 79.5h0M88.9 64.1h0M113.3 76.4h0M101.4 91.2h0M113.2 83.0h0M96.6 76.8h0M98.2 116.7h0M108.2 76.8h0M106.0 79.2h0M107.5 76.1h0M100.5 75.4h0M113.8 73.0h0M90.7 64.2h0M104.8 91.5h0M100.5 106.9h0M89.0 75.4h0M101.1 85.4h0M97.9 78.3h0M96.1 119.4h0M99.8 110.8h0M108.1 75.8h0M101.6 65.7h0M95.1 107.7h0M102.7 92.1h0M92.2 65.6h0M96.5 77.0h0M100.3 110.4h0M110.8 64.2h0M98.2 97.8h0M106.4 85.8h0M95.4 60.7h0M100.7 92.5h0M91.4 86.4h0M106.6 78.5h0M91.4 81.4h0M99.4 63.1h0M110.2 66.0h0M91.8 65.1h0M110.7 66.1h0M109.2 90.9h0M101.4 67.0h0M104.8 63.3h0M93.9 113.7h0M104.9 69.5h0M112.9 73.9h0M96.1 66.0h0M102.7 61.6h0M105.5 66.0h0M85.9 62.7h0M93.5 59.0h0M104.8 63.8h0M99.6 87.9h0M97.6 68.9h0M96.2 98.9h0M107.6 63.9h0M89.8 68.4h0M99.5 87.8h0M105.4 61.9h0M94.4 89.2h0M95.7 74.6h0M96.3 64.8h0M94.3 66.4h0M96.5 81.8h0M106.8 78.7h0M101.8 63.2h0M98.4 104.9h0M105.3 66.6h0M103.9 82.1h0M92.8 66.0h0M98.9 69.0h0M96.0 101.2h0M98.7 106.5h0M108.5 85.7h0M103.8 88.0h0M97.0 76.3h0M105.2 92.8h0M95.0 71.5h0M91.5 62.2h0M98.0 116.1h0M98.9 82.8h0M96.3 59.5h0M102.6 62.5h0M95.7 68.7h0M95.4 67.1h0M96.0 70.9h0M95.8 112.2h0M113.2 73.0h0M101.7 80.0h0M106.8 67.2h0M96.2 59.0h0M110.4 82.4h0M100.0 100.8h0M92.0 82.9h0M98.5 70.3h0M100.1 96.7h0M110.7 80.2h0M89.4 65.4h0M103.2 69.3h0M109.0 75.7h0M107.0 89.5h0M87.1 58.1h0M99.1 63.2h0M101.9 105.5h0M100.2 97.1h0M105.3 87.2h0M94.6 82.3h0M95.1 70.2h0M99.3 109.0h0M101.4 66.1h0M109.7 71.7h0M99.8 72.4h0M89.7 63.7h0M106.2 78.3h0M101.7 61.0h0M105.6 62.3h0M112.8 69.3h0M98.6 84.1h0M96.9 114.3h0M106.1 62.8h0M101.0 71.5h0M102.8 67.5h0M109.0 66.7h0M106.0 82.1h0M95.9 101.7h0M91.0 86.2h0M101.6 78.4h0M111.9 75.3h0M95.0 113.7h0M110.9 76.3h0M97.9 66.5h0M93.6 100.8h0M106.5 75.4h0M95.0 59.2h0M97.2 110.4h0M86.8 58.7h0M100.3 104.5h0M111.3 81.9h0M102.1 66.8h0M114.3 82.4h0M102.1 79.3h0M110.2 66.2h0M99.2 76.1h0M112.1 69.9h0M101.4 78.9h0M87.3 65.9h0M107.2 91.1h0M110.9 78.4h0M104.0 75.8h0M98.2 78.9h0M92.7 81.9h0M96.2 85.4h0M110.2 86.9h0M102.9 81.1h0M91.7 77.2h0M110.1 79.8h0M88.8 68.7h0M105.8 71.5h0M99.5 65.4h0M91.6 65.2h0M108.6 89.4h0M103.6 63.4h0M99.1 76.1h0M101.0 61.1h0M105.0 92.7h0M101.3 99.6h0M104.6 66.8h0M96.9 107.6h0M97.7 63.3h0M95.5 66.4h0M99.8 81.4h0M91.2 62.5h0M98.9 67.0h0M90.9 75.9h0M101.4 67.1h0M103.2 95.9h0M98.8 81.7h0M92.4 82.7h0M113.6 81.4h0M98.6 73.2h0M100.8 95.7h0M98.8 96.4h0M109.0 67.1h0M110.1 71.3h0" stroke="#FDB913" stroke-width="0.75" stroke-linecap="round"/>
<path d="M110.3 111.0h0M109.1 110.8h0M108.7 109.1h0M110.4 100.3h0M97.6 120.5h0M114.7 102.5h0M106.0 95.7h0M110.6 92.7h0M112.9 105.4h0M102.7 115.3h0M112.6 93.0h0M105.1 105.7h0M114.6 90.8h0M103.9 112.9h0M99.3 121.7h0M111.3 102.7h0M117.8 105.8h0M103.8 113.8h0M99.8 110.0h0M111.8 101.1h0M112.5 108.3h0M118.5 103.8h0M119.5 89.0h0M109.9 109.8h0M109.3 111.8h0M103.2 115.8h0M113.1 104.7h0M106.5 107.4h0M114.2 106.0h0M116.1 90.1h0M102.6 115.9h0M109.2 117.0h0M111.6 96.3h0M101.7 113.7h0M111.1 114.5h0M108.3 113.9h0M119.2 90.9h0M113.6 95.9h0M105.3 106.4h0M119.0 89.4h0M105.5 111.0h0M108.5 91.9h0M97.2 114.4h0M107.3 97.2h0M108.2 101.2h0M104.8 101.9h0M104.1 106.7h0M104.8 114.5h0M122.0 97.3h0M106.6 114.3h0M111.4 110.0h0M114.4 104.7h0M110.7 99.6h0M119.2 91.6h0M107.8 111.1h0M116.8 109.6h0M118.3 97.2h0M117.1 94.4h0M112.4 109.9h0M98.2 123.8h0M112.0 88.1h0M116.2 91.3h0M105.0 113.3h0M114.0 100.1h0M103.4 115.1h0M102.6 112.3h0M119.4 91.3h0M106.2 91.5h0M106.8 104.7h0M102.7 112.3h0M115.7 98.9h0M102.5 113.6h0M110.2 89.8h0M111.0 98.7h0M112.3 103.9h0M118.2 93.2h0M112.6 103.0h0M113.1 106.6h0M115.1 106.9h0M112.5 97.1h0M108.0 99.3h0M111.8 106.6h0M118.3 102.7h0M108.2 96.0h0M111.3 112.1h0M112.5 88.5h0M117.2 92.1h0M113.8 97.0h0M104.9 107.2h0M103.8 114.6h0M100.9 118.5h0M118.5 87.4h0M109.4 107.6h0M103.9 120.1h0M110.3 100.4h0M111.4 89.0h0M110.3 116.7h0M104.5 94.7h0M112.4 99.1h0M98.6 121.9h0M114.5 108.6h0M112.3 98.8h0M102.8 105.4h0M102.9 120.1h0M115.9 106.2h0M97.1 115.2h0M118.1 93.4h0M116.9 109.4h0M116.0 106.0h0M107.4 109.7h0M111.2 89.7h0M120.5 98.4h0M108.2 108.3h0M115.2 93.9h0M100.9 105.3h0M115.3 105.8h0M113.9 88.4h0M105.8 91.3h0M113.6 90.1h0M108.0 109.4h0M106.1 120.2h0M105.7 95.6h0M106.0 100.0h0M112.8 107.7h0M117.8 92.3h0M109.6 91.1h0M105.2 103.6h0M108.7 104.5h0M116.5 106.7h0M112.7 91.5h0M110.3 110.8h0M99.0 114.7h0M106.0 106.4h0M103.6 107.3h0M117.1 105.3h0M119.0 89.5h0M119.5 93.5h0M116.1 111.1h0M108.9 116.8h0M102.0 117.6h0M101.9 109.0h0M119.9 104.4h0M101.3 114.7h0M104.7 101.0h0M110.2 95.2h0M117.2 91.7h0M111.2 108.3h0M109.8 109.5h0M109.2 96.4h0M99.7 122.7h0M110.1 98.5h0M106.2 122.8h0M105.5 100.6h0M103.4 107.5h0M106.6 109.5h0M118.0 94.1h0M110.5 101.3h0M117.8 96.9h0M101.4 113.3h0M101.3 121.6h0M109.9 101.0h0M103.7 114.7h0M112.2 113.0h0M97.8 118.2h0M104.8 105.8h0M106.8 114.6h0M116.3 87.5h0M99.0 113.7h0M110.7 101.3h0M110.9 93.5h0M119.1 101.3h0M111.3 89.2h0M113.2 100.6h0M113.4 114.6h0M110.2 106.4h0M116.2 106.7h0M102.7 106.6h0M107.8 112.6h0M104.8 119.1h0M105.5 120.5h0M101.5 113.7h0M111.3 111.7h0M106.0 109.6h0M102.8 107.4h0M117.2 106.2h0M105.2 101.8h0M114.8 94.0h0M114.4 95.0h0M117.2 89.2h0M104.3 117.1h0M112.0 103.4h0M110.3 89.7h0M105.1 110.5h0M106.1 102.5h0M107.9 90.6h0M103.7 109.6h0M118.8 99.3h0M101.8 102.5h0M118.1 88.2h0M101.5 112.8h0M119.7 92.3h0M108.2 117.0h0M105.0 97.3h0M115.0 110.1h0M103.5 115.1h0M105.8 109.5h0M107.4 120.5h0M98.9 115.7h0M113.3 95.9h0M118.8 101.7h0M98.2 115.3h0M103.7 106.1h0M106.5 104.7h0M108.0 110.1h0M109.7 106.6h0M113.4 95.7h0M114.2 98.7h0M106.7 115.9h0M111.9 113.4h0M108.3 102.9h0M110.6 98.0h0M107.6 107.3h0M116.2 96.4h0M97.4 121.1h0M111.2 114.0h0M101.0 115.6h0M113.2 104.0h0M109.2 100.9h0M113.1 112.5h0M99.8 121.5h0M114.3 113.9h0M102.1 107.3h0M114.9 92.9h0M96.1 116.3h0M100.5 106.3h0M106.7 110.3h0M104.1 110.9h0M118.9 101.1h0M102.1 110.3h0M119.1 96.9h0M99.4 119.4h0M99.3 113.5h0M110.1 107.9h0M110.4 98.5h0M115.6 95.0h0M115.1 96.6h0M97.2 122.1h0M101.4 119.2h0M106.7 103.2h0M107.1 96.4h0M103.8 103.2h0M114.8 107.1h0M107.2 99.9h0M105.6 98.6h0M95.3 122.5h0M115.6 105.4h0M110.5 116.8h0M111.1 99.5h0M110.1 105.4h0M123.8 95.7h0M114.4 94.9h0M116.7 89.8h0M118.8 92.2h0M109.9 91.7h0M111.8 99.9h0M101.5 106.5h0M97.6 115.9h0M103.3 99.0h0M111.6 106.2h0M110.0 112.5h0M107.9 120.6h0M112.1 114.5h0M101.4 113.5h0M120.7 102.5h0M104.5 105.3h0M104.4 99.7h0M105.0 101.4h0M110.6 97.4h0M112.9 94.4h0M110.6 96.5h0M114.7 101.8h0M116.8 107.5h0M107.9 99.7h0M116.2 99.6h0M120.6 97.7h0M101.6 118.6h0M111.2 98.7h0M119.2 96.7h0M107.2 114.8h0M102.6 106.3h0M108.2 105.9h0M113.8 99.8h0M111.7 109.6h0M118.6 106.0h0M106.2 106.8h0M120.3 101.6h0M119.8 95.6h0M108.9 94.4h0M113.6 102.3h0M114.5 107.7h0M110.1 98.5h0M108.3 91.3h0M104.4 110.9h0M109.7 92.9h0M109.4 104.6h0M98.6 122.3h0M100.8 118.9h0M113.3 106.1h0M111.1 94.8h0M99.3 113.8h0M109.2 105.9h0M111.4 101.7h0M113.7 91.1h0M115.1 101.4h0M103.1 101.2h0M98.5 112.6h0M115.3 102.6h0M112.8 104.0h0M110.2 108.6h0M115.3 89.3h0M99.5 109.2h0M99.7 113.9h0M120.4 96.6h0M100.8 112.7h0M104.2 94.2h0M110.7 89.5h0M116.5 109.0h0M98.1 115.5h0M107.7 94.5h0M118.2 98.2h0M103.3 115.2h0M116.4 109.9h0M103.1 104.6h0M110.8 89.9h0M108.1 94.7h0M105.1 96.8h0M119.1 99.0h0M98.1 120.2h0M117.3 87.1h0M106.2 100.7h0M108.1 93.3h0M101.9 102.4h0M106.2 112.8h0M115.2 98.8h0M101.2 120.3h0M109.2 95.5h0M113.4 107.1h0M111.8 92.9h0M108.5 115.8h0M111.4 91.2h0M104.5 120.0h0M104.6 105.6h0M112.5 95.5h0M105.7 109.7h0M110.7 117.1h0M112.5 87.3h0M116.9 102.0h0M119.9 98.0h0M109.9 109.7h0M111.0 115.5h0M100.7 119.9h0M107.5 119.5h0M106.3 103.4h0M115.3 100.3h0M99.9 117.2h0M113.4 113.5h0M113.8 96.8h0M109.4 105.3h0M108.2 102.5h0M102.9 113.4h0M104.4 115.8h0M119.1 102.2h0M111.3 110.7h0M116.9 88.7h0M116.1 102.6h0M117.9 93.3h0" stroke="#6A9A48" stroke-width="0.75" stroke-linecap="round"/>
<path d="M99.5 50.3h0M104.3 58.1h0M102.7 51.8h0M101.3 50.0h0M98.5 58.8h0M103.8 54.0h0M97.9 51.5h0M98.0 50.9h0M97.4 54.7h0M99.7 60.2h0M101.8 53.9h0M99.2 59.4h0M107.3 56.5h0M94.8 55.2h0M101.4 53.6h0M103.8 49.2h0M98.8 51.3h0M101.6 48.5h0M106.7 60.7h0M100.2 55.4h0M108.1 52.8h0M100.1 48.5h0M103.5 55.2h0M99.4 50.0h0M105.9 53.4h0M99.6 57.4h0M99.0 54.1h0M100.0 50.7h0M103.4 56.6h0M109.8 61.8h0M97.0 51.0h0M104.2 55.1h0M97.4 56.9h0M93.8 57.0h0M101.1 58.4h0M94.6 52.6h0M110.8 62.7h0M107.8 64.0h0M108.4 61.9h0M103.3 56.8h0M109.5 61.9h0M97.3 54.9h0M99.3 51.1h0M103.6 54.3h0M105.2 54.5h0M100.8 52.4h0M102.5 53.4h0M108.9 54.1h0M105.9 60.2h0M96.0 51.8h0M98.3 53.4h0M94.6 52.5h0M108.7 54.1h0M96.3 51.6h0M100.1 54.2h0M105.6 60.4h0M103.2 55.5h0M105.3 58.4h0M96.2 59.8h0M106.7 56.7h0M104.2 53.5h0M97.6 51.8h0M103.7 57.2h0M93.6 53.0h0M98.5 57.9h0M109.4 60.4h0M108.5 63.5h0M95.1 57.3h0M103.9 58.0h0M106.3 52.8h0M106.3 59.5h0M103.4 58.1h0M109.9 58.8h0M98.9 53.3h0M104.6 61.1h0M107.8 59.7h0M96.5 57.3h0M108.5 64.9h0M101.2 56.7h0M101.3 52.4h0M105.2 59.3h0M108.6 57.9h0M98.7 60.7h0M106.4 56.4h0M104.8 51.7h0M110.5 60.3h0M95.8 59.0h0M100.9 60.0h0M98.0 57.5h0M106.5 63.6h0M99.3 50.0h0M99.2 49.4h0M98.5 49.6h0M100.3 57.5h0M103.1 52.6h0M95.8 56.3h0M109.0 62.3h0M101.3 54.8h0M107.8 66.8h0M109.7 59.7h0M94.9 57.0h0M104.1 61.2h0M94.9 55.8h0M109.7 61.6h0M103.1 56.5h0M99.1 50.5h0M100.7 52.2h0M98.0 52.5h0M97.3 57.9h0M96.0 51.0h0M108.4 60.9h0M95.8 55.2h0M110.2 59.2h0M104.4 58.3h0M102.4 48.5h0M106.6 52.7h0M96.9 50.9h0M106.8 56.2h0M101.4 52.7h0M107.2 57.7h0M105.9 54.1h0M96.8 53.7h0M110.2 60.2h0M104.6 61.6h0M103.3 55.9h0M101.9 57.5h0M104.1 57.3h0M105.8 50.6h0M95.6 51.2h0M104.6 49.3h0M105.9 48.8h0M106.4 60.1h0M99.8 51.9h0M99.4 53.1h0M106.9 54.3h0M103.0 50.7h0M94.4 55.1h0M102.4 57.8h0M100.3 54.3h0M103.9 56.0h0M99.4 57.8h0M102.5 61.8h0M97.2 54.3h0M107.7 62.5h0M97.3 53.0h0M98.3 56.7h0M106.3 51.8h0M103.9 57.1h0M110.3 56.0h0M102.6 59.5h0M95.0 58.4h0M109.8 64.8h0M107.3 56.0h0M97.1 53.4h0M105.9 60.1h0M102.6 53.9h0M105.5 59.0h0M106.9 56.3h0M105.0 54.6h0M105.4 61.4h0M98.7 51.7h0M98.7 53.0h0M105.2 49.1h0M99.7 50.6h0M101.4 52.3h0M104.2 55.4h0M103.0 52.3h0M103.5 56.7h0M110.4 65.3h0M105.1 61.5h0" stroke="#27A4C6" stroke-width="0.75" stroke-linecap="round"/>
<path d="M82.8 51.4h0M94.0 54.1h0M79.4 51.5h0M81.4 47.7h0M93.7 59.7h0M83.9 54.3h0M94.0 55.5h0M87.0 56.7h0M94.2 56.8h0M88.3 59.7h0M93.2 57.6h0M94.3 53.2h0M78.2 48.5h0M83.4 51.1h0M82.4 51.3h0M91.1 56.7h0M86.7 50.3h0M75.6 47.9h0M96.3 55.6h0M85.2 49.7h0M79.0 53.5h0M84.5 53.4h0M81.6 50.5h0M85.1 45.9h0M78.9 48.4h0M85.1 53.0h0M83.9 46.7h0M85.2 50.2h0M78.0 49.8h0M77.5 52.4h0M90.5 56.1h0M96.1 54.5h0M88.7 53.6h0M88.0 48.0h0M96.2 56.7h0M95.6 57.1h0M83.0 47.1h0M92.9 57.8h0M89.0 56.7h0M80.2 51.6h0M88.6 48.7h0M83.3 54.3h0M91.5 58.0h0M90.6 57.3h0M84.5 52.3h0M89.2 54.8h0M88.7 49.3h0M85.5 52.0h0M82.6 52.7h0M86.7 53.8h0M78.2 51.5h0M89.8 49.0h0M84.4 52.3h0M94.7 60.4h0M91.6 55.5h0M89.5 55.9h0M90.7 58.2h0M85.9 51.3h0M95.2 61.9h0M90.9 57.1h0M83.8 52.6h0M90.9 52.0h0M88.0 54.1h0M79.7 50.1h0M90.3 55.8h0M91.2 51.1h0M91.3 53.3h0M83.0 50.8h0M80.7 53.9h0M85.4 52.7h0M80.1 46.8h0M88.0 50.6h0M95.8 57.9h0M85.1 53.3h0M85.9 52.9h0M87.0 53.0h0M93.1 52.7h0M96.1 54.8h0M82.3 47.0h0M77.8 51.6h0M85.6 48.5h0M84.1 46.1h0M92.6 54.5h0M96.5 57.9h0M93.9 54.8h0M82.5 51.0h0M85.7 54.4h0M84.0 49.2h0M77.4 48.8h0M76.8 52.5h0M89.6 54.6h0M94.5 52.7h0M93.5 58.1h0M79.6 50.8h0M84.8 49.9h0M92.0 55.7h0M84.6 53.7h0M80.0 49.8h0M89.1 48.1h0M77.4 48.3h0M93.9 54.5h0M91.3 52.8h0M96.1 54.1h0M83.8 51.9h0M95.3 55.7h0M84.9 52.2h0M81.2 54.8h0M75.2 46.3h0M89.2 58.1h0M91.6 52.8h0M83.0 51.8h0M91.7 53.0h0M91.2 53.2h0M96.2 60.7h0M78.5 50.0h0M86.7 53.4h0M84.6 46.3h0M79.7 53.2h0M82.3 54.6h0M85.2 51.9h0M80.6 51.3h0M92.1 59.7h0M88.3 56.5h0M86.5 51.3h0M82.6 48.6h0M88.5 55.3h0M84.9 49.8h0M82.9 53.7h0M90.0 55.0h0M82.1 50.8h0M83.7 47.8h0M96.4 55.3h0M93.3 58.2h0M83.6 52.8h0M93.9 58.9h0M88.2 55.9h0M94.6 62.9h0M86.4 46.5h0M96.8 54.4h0M88.1 51.0h0M75.6 46.5h0M84.0 48.3h0M89.4 52.6h0M85.7 51.5h0M84.4 53.3h0M85.5 49.3h0M84.4 53.9h0M91.6 52.5h0M93.0 55.3h0M82.5 49.8h0M76.8 46.9h0M87.2 51.0h0M93.0 58.4h0M91.8 59.7h0M95.8 57.5h0M84.9 51.6h0M85.5 47.5h0M89.8 50.5h0M79.9 53.0h0M86.0 51.8h0M91.7 53.0h0M79.2 50.5h0M80.2 47.3h0" stroke="#6A5CA6" stroke-width="0.75" stroke-linecap="round"/>
<path d="M93.2 35.4h0M89.5 33.1h0M90.4 27.7h0M87.8 28.2h0M91.8 41.7h0M83.9 28.8h0M85.8 27.1h0M89.1 36.6h0M82.0 31.2h0M90.3 30.1h0M92.8 36.6h0M79.7 38.5h0M88.8 29.7h0M84.2 28.9h0M86.4 35.4h0M86.8 27.5h0M86.5 24.3h0M80.4 31.2h0M88.0 41.4h0M93.7 33.3h0M83.4 43.0h0M81.9 45.3h0M92.3 30.1h0M91.6 33.6h0M91.2 26.8h0M81.4 39.3h0M92.6 35.8h0M90.0 29.1h0M89.0 25.5h0M88.9 41.2h0M91.6 33.8h0M86.3 37.3h0M86.5 40.2h0M92.5 35.4h0M93.7 37.2h0M85.6 33.7h0M90.2 35.8h0M83.7 31.6h0M90.1 31.1h0M87.2 30.2h0M89.7 33.6h0M93.2 40.0h0M84.8 27.2h0M83.8 39.8h0M92.5 41.1h0M93.4 32.5h0M92.3 33.9h0M86.4 33.1h0M80.9 36.7h0M89.4 39.7h0M88.1 29.2h0M81.1 40.9h0M90.0 41.3h0M82.5 41.3h0M88.7 47.3h0M90.7 25.6h0M89.3 36.6h0M89.3 27.0h0M88.1 27.8h0M92.7 33.4h0M86.4 30.0h0M90.4 38.2h0M82.2 27.9h0M89.1 28.1h0M93.4 34.0h0M88.3 38.7h0M93.6 42.2h0M86.1 35.1h0M83.2 30.6h0M90.6 44.9h0M95.0 39.8h0M83.0 35.4h0M90.0 39.0h0M84.1 34.2h0M80.9 37.3h0M83.9 42.9h0M86.0 36.8h0M90.2 30.1h0M86.6 35.9h0M81.0 28.7h0M90.3 25.1h0M86.2 32.8h0M95.9 33.4h0M87.6 43.6h0M93.5 43.6h0M91.4 32.3h0M82.4 36.8h0M81.6 37.2h0M93.0 34.3h0M83.3 33.3h0M95.9 30.6h0M81.0 36.7h0M82.4 35.0h0M90.8 43.3h0M89.8 37.5h0M84.4 39.0h0M93.6 37.7h0M92.7 33.3h0M90.5 36.9h0M94.5 29.7h0M85.1 43.0h0M87.4 30.7h0M85.6 28.9h0M81.2 31.4h0M85.2 40.1h0M85.4 24.7h0M94.4 40.4h0M91.1 38.0h0M81.5 34.6h0M84.6 32.4h0M92.0 40.1h0M89.9 44.6h0M94.2 32.6h0M89.1 35.0h0M87.0 44.6h0M89.5 40.2h0M87.1 41.6h0M83.5 34.2h0M83.6 29.2h0M91.5 27.8h0M94.0 32.7h0M87.3 42.9h0M90.5 46.1h0M80.2 37.8h0M93.5 32.3h0M85.8 27.2h0M91.7 45.9h0M93.0 32.0h0M83.1 33.6h0M80.5 38.4h0M82.9 34.9h0M90.8 36.8h0M89.5 28.8h0M81.8 30.8h0M83.3 28.3h0M86.8 42.2h0M83.6 31.4h0M82.3 38.0h0M86.9 31.4h0M86.3 27.5h0M81.4 31.1h0M87.8 26.2h0M86.3 29.8h0M86.2 43.7h0M83.5 29.2h0M90.1 37.3h0M87.6 40.7h0M87.5 34.0h0M82.0 34.5h0M85.9 43.5h0M89.6 34.3h0M88.2 29.9h0M90.0 32.4h0M92.7 43.6h0M88.7 25.4h0M89.0 29.1h0M86.6 28.0h0M95.8 41.6h0M93.5 34.1h0M81.6 41.7h0M90.5 31.6h0M88.4 32.4h0M91.1 42.1h0M87.6 38.2h0M86.4 37.3h0M92.0 35.7h0M82.9 38.9h0M92.8 27.8h0M90.1 47.2h0M88.3 42.4h0M86.8 40.8h0M84.5 32.7h0M84.7 28.6h0M93.4 37.9h0M85.4 30.9h0M82.4 35.1h0M85.7 43.2h0M92.9 45.2h0M81.5 37.6h0M89.6 41.8h0M87.6 30.7h0M81.0 34.3h0M90.4 35.9h0M87.7 30.2h0M86.2 43.9h0M90.4 34.3h0M90.3 41.1h0M91.3 33.0h0M88.3 27.3h0M88.3 36.7h0M87.0 46.6h0M88.2 44.2h0M91.7 39.8h0M90.1 28.7h0M94.2 38.5h0M93.8 41.0h0M93.1 35.2h0M86.8 35.4h0M90.4 27.5h0M82.9 38.7h0M81.8 41.2h0M84.9 39.6h0M85.5 28.2h0M90.2 28.5h0M89.1 37.9h0M85.3 40.0h0M94.3 39.2h0M89.0 42.3h0M86.4 37.7h0M89.3 31.8h0M91.1 31.6h0M93.4 46.5h0M94.1 43.1h0M93.5 29.6h0M91.3 41.4h0M86.6 38.6h0M83.9 24.4h0M85.1 41.5h0M88.8 44.4h0M83.5 38.5h0M86.4 35.4h0M90.7 43.5h0M89.0 48.3h0M88.3 42.6h0M92.6 29.1h0M88.2 35.6h0M88.2 27.5h0M89.6 36.6h0M88.8 40.3h0M84.7 29.0h0M88.0 40.4h0M91.2 38.5h0M93.2 26.2h0M84.3 35.8h0M87.3 34.2h0M87.6 39.3h0M89.6 38.5h0M86.8 26.3h0M83.1 28.9h0M89.1 44.7h0M90.9 37.5h0M84.4 37.8h0M91.1 42.6h0M87.0 36.9h0M95.6 34.8h0M85.2 36.2h0" stroke="#F4737F" stroke-width="0.75" stroke-linecap="round"/>
<path d="M43.5 64.6h0M21.8 74.4h0M26.0 89.9h0M22.2 86.3h0M38.7 85.3h0M38.1 68.1h0M30.8 75.6h0M46.4 57.2h0M28.8 91.4h0M31.5 84.8h0M33.4 90.2h0M25.3 78.6h0M38.6 82.8h0M39.6 59.2h0M39.6 75.5h0M28.1 74.7h0M28.1 75.3h0M43.1 63.3h0M44.1 64.6h0M35.1 66.6h0M25.2 70.6h0M30.3 91.0h0M41.4 73.0h0M34.1 71.8h0M38.0 68.6h0M36.2 73.2h0M25.8 85.0h0M33.6 79.6h0M39.2 88.8h0M34.6 81.7h0M39.8 80.2h0M24.8 80.4h0M21.1 76.4h0M28.2 76.3h0M25.1 73.7h0M39.7 75.9h0M32.0 75.3h0M24.2 75.5h0M39.2 78.7h0M25.5 84.0h0M41.0 60.5h0M48.2 58.6h0M22.2 83.4h0M30.7 74.5h0M27.0 86.4h0M38.6 77.8h0M29.8 78.1h0M39.9 71.7h0M35.4 73.0h0M25.2 73.2h0M36.3 80.7h0M46.7 63.2h0M41.8 57.8h0M40.6 61.0h0M37.3 76.3h0M38.3 73.3h0M36.3 70.1h0M27.3 83.0h0M42.9 72.3h0M38.5 89.1h0M27.9 79.2h0M33.6 81.3h0M30.5 75.3h0M28.2 88.5h0M35.7 80.4h0M28.2 84.1h0M29.6 72.5h0M30.4 72.1h0M35.3 71.1h0M29.4 76.8h0M27.7 92.3h0M42.9 64.9h0M32.0 94.3h0M37.7 79.8h0M26.9 82.2h0M42.6 66.8h0M44.1 62.4h0M37.7 84.3h0M33.0 89.4h0M21.9 78.7h0M36.8 86.0h0M26.6 69.4h0M38.1 66.7h0M24.4 89.0h0M31.7 75.6h0M42.3 59.1h0M39.6 63.4h0M35.1 89.7h0M37.4 88.2h0M26.8 84.0h0M41.4 83.3h0M41.3 78.7h0M38.0 65.4h0M40.9 68.7h0M40.4 75.4h0M26.9 82.9h0M45.5 61.1h0M31.0 92.3h0M34.7 80.6h0M37.7 83.7h0M40.5 80.1h0M40.3 73.4h0M25.8 79.3h0M36.3 76.8h0M24.1 88.1h0M34.0 90.2h0M33.0 82.9h0M40.8 78.0h0M27.6 86.3h0M23.8 80.7h0M32.2 87.7h0M34.1 74.0h0M31.8 89.7h0M47.8 58.9h0M26.1 73.8h0M28.6 77.1h0M24.5 80.3h0M44.5 58.4h0M42.0 62.7h0M25.0 84.6h0M37.8 67.1h0M42.1 67.6h0M39.8 76.9h0M30.1 91.5h0M27.7 80.6h0M37.7 86.2h0M25.9 69.3h0M42.0 66.9h0M39.9 82.2h0M43.0 67.2h0M37.5 89.0h0M36.1 78.6h0M38.5 85.6h0M26.2 71.8h0M39.7 60.6h0M32.4 89.6h0M40.8 79.6h0M32.1 83.3h0M25.1 89.8h0M31.5 81.2h0M23.4 86.4h0M43.1 62.6h0M25.4 76.6h0M24.9 78.5h0M43.7 60.5h0M37.4 69.8h0M42.1 61.2h0M27.7 88.7h0M22.4 82.0h0M25.3 90.5h0M30.4 79.9h0M36.8 89.1h0M27.7 81.4h0M34.6 76.1h0M26.0 88.0h0M32.4 90.8h0M24.5 86.2h0M34.2 76.7h0M40.6 71.0h0M27.1 83.3h0M25.4 87.0h0M35.7 83.8h0M40.9 66.1h0M26.4 85.7h0M40.7 87.8h0M40.5 69.4h0M25.1 87.4h0M46.6 58.7h0M34.1 76.4h0M40.9 71.5h0M24.4 83.1h0M34.8 68.7h0M27.0 87.3h0M33.9 90.9h0M32.7 85.4h0M47.3 60.2h0M40.0 79.9h0M39.3 81.4h0M24.3 73.0h0M39.9 70.5h0M26.8 90.8h0M46.1 62.2h0M42.1 59.8h0M27.3 74.7h0M35.6 88.4h0M35.9 68.0h0M42.6 68.5h0M38.1 85.3h0M22.0 80.4h0M24.7 73.0h0M23.4 76.6h0M27.0 86.6h0M29.2 81.9h0M30.2 91.4h0M30.9 72.9h0M42.0 73.9h0M40.5 66.0h0M27.1 84.9h0M42.8 60.3h0M40.6 82.0h0M42.5 72.0h0M31.9 88.0h0M28.6 71.8h0M41.2 57.9h0M36.3 75.3h0M26.6 85.0h0M40.0 64.2h0M31.3 74.7h0M39.1 74.4h0M37.9 73.7h0M46.7 59.7h0M27.9 80.0h0M35.1 76.1h0M40.5 69.2h0M22.0 76.6h0M37.1 74.1h0M28.2 78.6h0M30.5 76.2h0M24.9 74.5h0M27.7 80.8h0M26.0 87.8h0M40.7 67.4h0M33.8 81.6h0M45.8 56.3h0M31.6 91.2h0M45.2 56.8h0M26.4 75.0h0M37.1 79.3h0M39.6 67.1h0M32.4 82.8h0M36.6 77.2h0M36.6 70.7h0M28.8 90.8h0M27.5 83.4h0M42.1 57.4h0M23.7 73.2h0M41.6 71.3h0M38.2 70.5h0M42.3 61.3h0M21.9 82.1h0M28.1 85.3h0M21.7 84.0h0M25.4 89.4h0M35.2 76.5h0M35.5 76.0h0M22.4 84.0h0M24.8 81.8h0M21.5 80.4h0M32.0 92.3h0M35.6 84.9h0M38.2 79.8h0M37.9 63.0h0M39.6 72.5h0M40.2 87.9h0M27.5 73.6h0M29.6 78.7h0M36.1 69.0h0M26.5 81.4h0M28.3 86.1h0M40.9 86.0h0M27.7 73.6h0M28.0 75.9h0M32.8 85.3h0M38.9 65.6h0M22.3 82.3h0M41.5 69.6h0M28.9 74.4h0M29.0 84.1h0M25.1 71.4h0M34.4 82.6h0M44.0 61.3h0M24.4 80.9h0M24.8 81.0h0M44.1 76.1h0M32.6 87.1h0M37.3 73.6h0M39.9 62.6h0M38.6 76.9h0M35.8 80.2h0M36.8 77.8h0M46.2 57.5h0M42.2 58.6h0M35.0 84.6h0M40.0 72.2h0M26.1 88.9h0M38.8 77.4h0M38.7 80.1h0M39.3 73.4h0M43.4 71.4h0M22.2 73.2h0M19.8 81.3h0M24.2 80.6h0M46.2 62.3h0M42.2 67.2h0M37.1 65.4h0M37.1 78.9h0M47.6 58.4h0M27.7 81.5h0M31.8 83.1h0M34.4 85.3h0M38.5 61.0h0M24.2 80.6h0M43.0 76.9h0M31.1 74.6h0M24.5 78.0h0M37.1 85.3h0M37.5 75.8h0M23.4 72.8h0M39.9 80.1h0M33.7 71.3h0M26.1 88.0h0M32.8 82.8h0M36.9 68.7h0M28.6 77.2h0M27.3 76.9h0M28.1 86.5h0M45.7 58.8h0M35.4 77.3h0M36.6 73.6h0M22.6 77.1h0M31.1 85.0h0M32.2 80.7h0M26.5 90.1h0M43.1 65.5h0M38.6 91.6h0M35.1 75.9h0M43.3 61.8h0M38.7 75.1h0M40.9 63.9h0M36.7 85.1h0M39.6 74.3h0M23.4 74.0h0M28.3 73.0h0M41.1 70.6h0M29.6 90.7h0M22.3 78.8h0M25.6 79.8h0M37.8 61.2h0M33.3 80.1h0M26.8 72.7h0M30.7 82.0h0M42.6 61.6h0M36.5 87.7h0M24.7 90.3h0M34.5 76.9h0M39.3 86.2h0M39.3 75.0h0M25.9 84.4h0M33.8 75.0h0M28.5 86.0h0M39.9 77.9h0M26.1 90.2h0M41.1 69.1h0M24.4 78.7h0M24.6 74.1h0M40.6 84.8h0M38.7 64.8h0M24.7 75.1h0M44.3 58.6h0M34.0 84.2h0M35.0 77.4h0M27.5 91.1h0M23.2 81.6h0M37.0 67.8h0M36.7 77.0h0M31.6 83.6h0M43.0 61.3h0M26.2 88.9h0M35.3 93.3h0M24.3 78.7h0M34.4 77.0h0M40.5 76.9h0M37.7 71.2h0M26.9 80.8h0M43.8 62.3h0M41.1 72.6h0M28.1 82.3h0M38.0 89.4h0M26.7 80.0h0M41.9 61.0h0M39.5 60.7h0M43.5 60.0h0M31.7 83.7h0M29.3 85.3h0M29.9 79.5h0M30.4 86.8h0M26.2 76.8h0M41.9 68.0h0M21.8 74.2h0M22.7 80.5h0M29.2 91.4h0M21.5 80.9h0M34.5 89.1h0M30.9 84.9h0M27.1 72.9h0M34.1 83.2h0M43.9 71.1h0M37.8 90.0h0M41.2 67.5h0M27.8 88.9h0M28.1 93.9h0" stroke="#1B3C85" stroke-width="0.75" stroke-linecap="round"/>
<line x1="17.60" y1="19.70" x2="17.60" y2="134.60" stroke="#4d4d4d" stroke-width="0.8"/>
<line x1="17.20" y1="134.60" x2="126.80" y2="134.60" stroke="#4d4d4d" stroke-width="0.8"/>
<line x1="15.90" y1="29.80" x2="17.60" y2="29.80" stroke="#4d4d4d" stroke-width="0.7"/>
<text x="15.20" y="31.95" font-size="6.12" text-anchor="end" fill="#333" stroke="#333" stroke-width="0.15">10</text>
<line x1="15.90" y1="57.20" x2="17.60" y2="57.20" stroke="#4d4d4d" stroke-width="0.7"/>
<text x="15.20" y="59.35" font-size="6.12" text-anchor="end" fill="#333" stroke="#333" stroke-width="0.15">5</text>
<line x1="15.90" y1="84.30" x2="17.60" y2="84.30" stroke="#4d4d4d" stroke-width="0.7"/>
<text x="15.20" y="86.45" font-size="6.12" text-anchor="end" fill="#333" stroke="#333" stroke-width="0.15">0</text>
<line x1="15.90" y1="111.60" x2="17.60" y2="111.60" stroke="#4d4d4d" stroke-width="0.7"/>
<text x="15.20" y="113.75" font-size="6.12" text-anchor="end" fill="#333" stroke="#333" stroke-width="0.15">-5</text>
<line x1="36.00" y1="134.60" x2="36.00" y2="136.30" stroke="#4d4d4d" stroke-width="0.7"/>
<text x="36.00" y="142.10" font-size="6.12" text-anchor="middle" fill="#333" stroke="#333" stroke-width="0.15">-10</text>
<line x1="58.20" y1="134.60" x2="58.20" y2="136.30" stroke="#4d4d4d" stroke-width="0.7"/>
<text x="58.20" y="142.10" font-size="6.12" text-anchor="middle" fill="#333" stroke="#333" stroke-width="0.15">-5</text>
<line x1="80.50" y1="134.60" x2="80.50" y2="136.30" stroke="#4d4d4d" stroke-width="0.7"/>
<text x="80.50" y="142.10" font-size="6.12" text-anchor="middle" fill="#333" stroke="#333" stroke-width="0.15">0</text>
<line x1="102.20" y1="134.60" x2="102.20" y2="136.30" stroke="#4d4d4d" stroke-width="0.7"/>
<text x="102.20" y="142.10" font-size="6.12" text-anchor="middle" fill="#333" stroke="#333" stroke-width="0.15">5</text>
<line x1="124.20" y1="134.60" x2="124.20" y2="136.30" stroke="#4d4d4d" stroke-width="0.7"/>
<text x="124.20" y="142.10" font-size="6.12" text-anchor="middle" fill="#333" stroke="#333" stroke-width="0.15">10</text>
<text x="81.60" y="149.80" font-size="7.96" text-anchor="middle" fill="#111" stroke="#111" stroke-width="0.15">UMAP_1</text>
<text x="8.30" y="76.00" font-size="7.6" text-anchor="middle" fill="#111" stroke="#111" stroke-width="0.15" transform="rotate(-90 8.30 76.00)">UMAP_2</text>
<text x="32.35" y="44.80" font-size="7.96" text-anchor="middle" fill="#111" stroke="#111" stroke-width="0.15">T_CD8</text>
<text x="32.30" y="54.10" font-size="7.96" text-anchor="middle" fill="#111" stroke="#111" stroke-width="0.15">Dividing</text>
<text x="71.50" y="27.60" font-size="7.96" text-anchor="middle" fill="#111" stroke="#111" stroke-width="0.15">T_CD8</text>
<text x="71.50" y="37.20" font-size="7.96" text-anchor="middle" fill="#111" stroke="#111" stroke-width="0.15">FOXP3</text>
<text x="116.40" y="41.40" font-size="7.96" text-anchor="middle" fill="#111" stroke="#111" stroke-width="0.15">T_CD8</text>
<text x="115.30" y="51.00" font-size="7.96" text-anchor="middle" fill="#111" stroke="#111" stroke-width="0.15">RORA</text>
<text x="66.10" y="63.40" font-size="7.96" text-anchor="middle" fill="#111" stroke="#111" stroke-width="0.15">T_CD8</text>
<text x="65.60" y="72.10" font-size="7.96" text-anchor="middle" fill="#111" stroke="#111" stroke-width="0.15">HAVCR2</text>
<text x="113.40" y="77.00" font-size="7.96" text-anchor="middle" fill="#111" stroke="#111" stroke-width="0.15">T_CD8</text>
<text x="110.90" y="85.90" font-size="7.96" text-anchor="middle" fill="#111" stroke="#111" stroke-width="0.15">TCF7</text>
<text x="41.80" y="105.60" font-size="7.96" text-anchor="middle" fill="#111" stroke="#111" stroke-width="0.15">T_CD8</text>
<text x="41.80" y="114.80" font-size="7.96" text-anchor="middle" fill="#111" stroke="#111" stroke-width="0.15">ISG</text>
<text x="83.70" y="102.60" font-size="7.96" text-anchor="middle" fill="#111" stroke="#111" stroke-width="0.15">T_CD8</text>
<text x="83.60" y="112.50" font-size="7.96" text-anchor="middle" fill="#111" stroke="#111" stroke-width="0.15">GZMK</text>
<text x="126.40" y="106.90" font-size="7.96" text-anchor="middle" fill="#111" stroke="#111" stroke-width="0.15">T_CD8</text>
<text x="121.30" y="115.20" font-size="7.96" text-anchor="middle" fill="#111" stroke="#111" stroke-width="0.15">GNLY</text>
<circle cx="20.7" cy="159.4" r="2.3" fill="#FDB913"/>
<text x="28.40" y="161.80" font-size="6.73" fill="#111" stroke="#111" stroke-width="0.15">T_CD8_TCF7</text>
<circle cx="20.7" cy="167.2" r="2.3" fill="#F15A29"/>
<text x="28.40" y="169.60" font-size="6.73" fill="#111" stroke="#111" stroke-width="0.15">T_CD8_GZMK</text>
<circle cx="20.7" cy="175.0" r="2.3" fill="#C4122F"/>
<text x="28.40" y="177.40" font-size="6.73" fill="#111" stroke="#111" stroke-width="0.15">T_CD8_HAVCR2</text>
<circle cx="20.7" cy="182.8" r="2.3" fill="#6A9A48"/>
<text x="28.40" y="185.20" font-size="6.73" fill="#111" stroke="#111" stroke-width="0.15">T_CD8_GNLY</text>
<circle cx="20.7" cy="190.7" r="2.3" fill="#E8467C"/>
<text x="28.40" y="193.10" font-size="6.73" fill="#111" stroke="#111" stroke-width="0.15">T_CD8_ISG</text>
<circle cx="86.9" cy="159.4" r="2.3" fill="#27A4C6"/>
<text x="94.40" y="161.80" font-size="6.73" fill="#111" stroke="#111" stroke-width="0.15">T_CD8_RORA</text>
<circle cx="86.9" cy="167.2" r="2.3" fill="#6A5CA6"/>
<text x="94.40" y="169.60" font-size="6.73" fill="#111" stroke="#111" stroke-width="0.15">T_CD8_TNFRSF4</text>
<circle cx="86.9" cy="175.0" r="2.3" fill="#F4737F"/>
<text x="94.40" y="177.40" font-size="6.73" fill="#111" stroke="#111" stroke-width="0.15">T_CD8_FOXP3</text>
<circle cx="86.9" cy="182.8" r="2.3" fill="#0F2A6C"/>
<text x="94.40" y="185.20" font-size="6.73" fill="#111" stroke="#111" stroke-width="0.15">T_CD8_Dividing</text>
<text x="139.60" y="7.90" font-size="10.71" font-weight="bold" fill="#000" stroke="#000" stroke-width="0.15">b</text>
<text x="160.00" y="44.40" font-size="7.96" text-anchor="middle" fill="#111" stroke="#111" stroke-width="0.15">CD8<tspan stroke-width="0" font-size="4.6" dy="-3">+</tspan><tspan dy="3"> T cells</tspan></text>
<text x="159.80" y="54.50" font-size="7.96" text-anchor="middle" fill="#111" stroke="#111" stroke-width="0.15">in each</text>
<text x="159.70" y="63.60" font-size="7.96" text-anchor="middle" fill="#111" stroke="#111" stroke-width="0.15">patients</text>
<line x1="177.20" y1="53.20" x2="183.70" y2="53.20" stroke="#333" stroke-width="0.8"/>
<line x1="183.70" y1="34.20" x2="183.70" y2="72.00" stroke="#333" stroke-width="0.8"/>
<line x1="183.30" y1="34.20" x2="187.30" y2="34.20" stroke="#333" stroke-width="0.8"/>
<path d="M186.50 32.70L188.90 34.20L186.50 35.70Z" fill="#333"/>
<line x1="183.30" y1="72.00" x2="187.30" y2="72.00" stroke="#333" stroke-width="0.8"/>
<path d="M186.50 70.50L188.90 72.00L186.50 73.50Z" fill="#333"/>
<text x="190.70" y="30.90" font-size="7.96" fill="#111" stroke="#111" stroke-width="0.15">Detectable</text>
<text x="190.40" y="40.40" font-size="7.96" font-style="italic" fill="#111" stroke="#111" stroke-width="0.15">PTGER4</text>
<text x="190.50" y="68.80" font-size="7.96" fill="#111" stroke="#111" stroke-width="0.15">Undetectable</text>
<text x="190.40" y="78.20" font-size="7.96" font-style="italic" fill="#111" stroke="#111" stroke-width="0.15">PTGER4</text>
<line x1="229.30" y1="35.20" x2="234.30" y2="35.20" stroke="#333" stroke-width="0.8"/>
<line x1="234.30" y1="21.00" x2="234.30" y2="47.80" stroke="#333" stroke-width="0.8"/>
<line x1="233.90" y1="21.00" x2="237.40" y2="21.00" stroke="#333" stroke-width="0.8"/>
<path d="M236.60 19.50L239.00 21.00L236.60 22.50Z" fill="#333"/>
<line x1="233.90" y1="35.00" x2="237.40" y2="35.00" stroke="#333" stroke-width="0.8"/>
<path d="M236.60 33.50L239.00 35.00L236.60 36.50Z" fill="#333"/>
<line x1="233.90" y1="47.80" x2="237.40" y2="47.80" stroke="#333" stroke-width="0.8"/>
<path d="M236.60 46.30L239.00 47.80L236.60 49.30Z" fill="#333"/>
<text x="241.00" y="24.00" font-size="7.96" fill="#111" stroke="#111" stroke-width="0.15">PTGER4<tspan stroke-width="0.08" font-size="5.7" dy="-3.8">hi</tspan></text>
<text x="281.10" y="24.00" font-size="7.96" fill="#111" stroke="#111" stroke-width="0.15">(1/3)</text>
<text x="241.00" y="37.40" font-size="7.96" fill="#111" stroke="#111" stroke-width="0.15">PTGER4<tspan stroke-width="0.08" font-size="5.7" dy="-3.8">int</tspan></text>
<text x="282.60" y="37.40" font-size="7.96" fill="#111" stroke="#111" stroke-width="0.15">(1/3)</text>
<text x="241.00" y="50.20" font-size="7.96" fill="#111" stroke="#111" stroke-width="0.15">PTGER4<tspan stroke-width="0.08" font-size="5.7" dy="-3.8">lo</tspan></text>
<text x="282.10" y="50.20" font-size="7.96" fill="#111" stroke="#111" stroke-width="0.15">(1/3)</text>
<line x1="239.30" y1="71.40" x2="246.60" y2="71.40" stroke="#333" stroke-width="0.8"/>
<path d="M245.80 69.90L248.20 71.40L245.80 72.90Z" fill="#333"/>
<text x="249.60" y="74.80" font-size="7.96" fill="#111" stroke="#111" stroke-width="0.15">PTGER4<tspan stroke-width="0.08" font-size="5.7" dy="-3.8">un</tspan></text>
<text x="186.10" y="126.00" font-size="7.96" text-anchor="middle" font-style="italic" fill="#111" stroke="#111" stroke-width="0.15" transform="rotate(-90 186.10 126.00)">PTGER4</text>
<text x="195.90" y="124.80" font-size="7.96" text-anchor="middle" fill="#111" stroke="#111" stroke-width="0.15" transform="rotate(-90 195.90 124.80)">Normalized expression</text>
<line x1="208.90" y1="96.60" x2="208.90" y2="155.60" stroke="#4d4d4d" stroke-width="0.8"/>
<line x1="208.50" y1="155.60" x2="264.50" y2="155.60" stroke="#4d4d4d" stroke-width="0.8"/>
<line x1="207.20" y1="153.00" x2="208.90" y2="153.00" stroke="#4d4d4d" stroke-width="0.7"/>
<text x="204.90" y="155.40" font-size="6.94" text-anchor="end" fill="#333" stroke="#333" stroke-width="0.15">0</text>
<line x1="207.20" y1="137.70" x2="208.90" y2="137.70" stroke="#4d4d4d" stroke-width="0.7"/>
<text x="204.90" y="140.10" font-size="6.94" text-anchor="end" fill="#333" stroke="#333" stroke-width="0.15">1</text>
<line x1="207.20" y1="122.40" x2="208.90" y2="122.40" stroke="#4d4d4d" stroke-width="0.7"/>
<text x="204.90" y="124.80" font-size="6.94" text-anchor="end" fill="#333" stroke="#333" stroke-width="0.15">2</text>
<line x1="207.20" y1="107.10" x2="208.90" y2="107.10" stroke="#4d4d4d" stroke-width="0.7"/>
<text x="204.90" y="109.50" font-size="6.94" text-anchor="end" fill="#333" stroke="#333" stroke-width="0.15">3</text>
<line x1="216.40" y1="155.60" x2="216.40" y2="157.20" stroke="#4d4d4d" stroke-width="0.7"/>
<text x="219.00" y="159.80" font-size="7.85" text-anchor="end" fill="#111" stroke="#111" stroke-width="0.15" transform="rotate(-90 219.00 159.80)">PTGER4<tspan stroke-width="0" font-size="4.3" dy="-2.8">un</tspan></text>
<line x1="229.90" y1="155.60" x2="229.90" y2="157.20" stroke="#4d4d4d" stroke-width="0.7"/>
<text x="232.50" y="159.80" font-size="7.85" text-anchor="end" fill="#111" stroke="#111" stroke-width="0.15" transform="rotate(-90 232.50 159.80)">PTGER4<tspan stroke-width="0" font-size="4.3" dy="-2.8">lo</tspan></text>
<line x1="243.00" y1="155.60" x2="243.00" y2="157.20" stroke="#4d4d4d" stroke-width="0.7"/>
<text x="245.60" y="159.80" font-size="7.85" text-anchor="end" fill="#111" stroke="#111" stroke-width="0.15" transform="rotate(-90 245.60 159.80)">PTGER4<tspan stroke-width="0" font-size="4.3" dy="-2.8">int</tspan></text>
<line x1="256.20" y1="155.60" x2="256.20" y2="157.20" stroke="#4d4d4d" stroke-width="0.7"/>
<text x="258.80" y="159.80" font-size="7.85" text-anchor="end" fill="#111" stroke="#111" stroke-width="0.15" transform="rotate(-90 258.80 159.80)">PTGER4<tspan stroke-width="0" font-size="4.3" dy="-2.8">hi</tspan></text>
<line x1="211.20" y1="153.40" x2="222.40" y2="153.40" stroke="#333" stroke-width="0.9"/>
<path d="M230.35 132.60 L230.35 132.85 L230.35 133.10 L230.35 133.35 L230.40 133.60 L230.48 133.85 L230.58 134.10 L230.69 134.35 L230.81 134.60 L230.95 134.85 L231.11 135.10 L231.28 135.35 L231.47 135.60 L231.68 135.85 L231.91 136.10 L232.15 136.35 L232.40 136.60 L232.66 136.85 L232.94 137.10 L233.22 137.35 L233.50 137.60 L233.79 137.85 L234.07 138.10 L234.33 138.35 L234.59 138.60 L234.83 138.85 L235.05 139.10 L235.24 139.35 L235.40 139.60 L235.53 139.85 L235.62 140.10 L235.68 140.35 L235.70 140.60 L235.69 140.85 L235.66 141.10 L235.61 141.35 L235.54 141.60 L235.46 141.85 L235.35 142.10 L235.24 142.35 L235.10 142.60 L234.95 142.85 L234.79 143.10 L234.62 143.35 L234.44 143.60 L234.25 143.85 L234.06 144.10 L233.86 144.35 L233.65 144.60 L233.45 144.85 L233.25 145.10 L233.05 145.35 L232.85 145.60 L232.65 145.85 L232.46 146.10 L232.28 146.35 L232.10 146.60 L231.93 146.85 L231.76 147.10 L231.61 147.35 L231.46 147.60 L231.32 147.85 L231.19 148.10 L231.07 148.35 L230.96 148.60 L230.86 148.85 L230.77 149.10 L230.68 149.35 L230.60 149.60 L230.53 149.85 L230.46 150.10 L230.41 150.35 L230.35 150.60 L230.35 150.85 L230.35 151.10 L230.35 151.35 L229.65 151.35 L229.65 151.10 L229.65 150.85 L229.65 150.60 L229.59 150.35 L229.54 150.10 L229.47 149.85 L229.40 149.60 L229.32 149.35 L229.23 149.10 L229.14 148.85 L229.04 148.60 L228.93 148.35 L228.81 148.10 L228.68 147.85 L228.54 147.60 L228.39 147.35 L228.24 147.10 L228.07 146.85 L227.90 146.60 L227.72 146.35 L227.54 146.10 L227.35 145.85 L227.15 145.60 L226.95 145.35 L226.75 145.10 L226.55 144.85 L226.35 144.60 L226.14 144.35 L225.94 144.10 L225.75 143.85 L225.56 143.60 L225.38 143.35 L225.21 143.10 L225.05 142.85 L224.90 142.60 L224.76 142.35 L224.65 142.10 L224.54 141.85 L224.46 141.60 L224.39 141.35 L224.34 141.10 L224.31 140.85 L224.30 140.60 L224.32 140.35 L224.38 140.10 L224.47 139.85 L224.60 139.60 L224.76 139.35 L224.95 139.10 L225.17 138.85 L225.41 138.60 L225.67 138.35 L225.93 138.10 L226.21 137.85 L226.50 137.60 L226.78 137.35 L227.06 137.10 L227.34 136.85 L227.60 136.60 L227.85 136.35 L228.09 136.10 L228.32 135.85 L228.53 135.60 L228.72 135.35 L228.89 135.10 L229.05 134.85 L229.19 134.60 L229.31 134.35 L229.42 134.10 L229.52 133.85 L229.60 133.60 L229.65 133.35 L229.65 133.10 L229.65 132.85 L229.65 132.60Z" fill="#9E1F63" stroke="#2a2a2a" stroke-width="0.65" stroke-linejoin="round"/>
<path d="M243.35 126.90 L243.35 127.15 L243.35 127.40 L243.37 127.65 L243.43 127.90 L243.51 128.15 L243.60 128.40 L243.70 128.65 L243.81 128.90 L243.94 129.15 L244.07 129.40 L244.23 129.65 L244.39 129.90 L244.57 130.15 L244.76 130.40 L244.97 130.65 L245.19 130.90 L245.41 131.15 L245.65 131.40 L245.90 131.65 L246.15 131.90 L246.40 132.15 L246.65 132.40 L246.91 132.65 L247.15 132.90 L247.39 133.15 L247.62 133.40 L247.83 133.65 L248.03 133.90 L248.20 134.15 L248.35 134.40 L248.48 134.65 L248.58 134.90 L248.65 135.15 L248.69 135.40 L248.70 135.65 L248.66 135.90 L248.58 136.15 L248.44 136.40 L248.26 136.65 L248.04 136.90 L247.78 137.15 L247.50 137.40 L247.19 137.65 L246.87 137.90 L246.54 138.15 L246.21 138.40 L245.89 138.65 L245.57 138.90 L245.27 139.15 L244.99 139.40 L244.72 139.65 L244.48 139.90 L244.26 140.15 L244.06 140.40 L243.88 140.65 L243.73 140.90 L243.60 141.15 L243.49 141.40 L242.51 141.40 L242.40 141.15 L242.27 140.90 L242.12 140.65 L241.94 140.40 L241.74 140.15 L241.52 139.90 L241.28 139.65 L241.01 139.40 L240.73 139.15 L240.43 138.90 L240.11 138.65 L239.79 138.40 L239.46 138.15 L239.13 137.90 L238.81 137.65 L238.50 137.40 L238.22 137.15 L237.96 136.90 L237.74 136.65 L237.56 136.40 L237.42 136.15 L237.34 135.90 L237.30 135.65 L237.31 135.40 L237.35 135.15 L237.42 134.90 L237.52 134.65 L237.65 134.40 L237.80 134.15 L237.97 133.90 L238.17 133.65 L238.38 133.40 L238.61 133.15 L238.85 132.90 L239.09 132.65 L239.35 132.40 L239.60 132.15 L239.85 131.90 L240.10 131.65 L240.35 131.40 L240.59 131.15 L240.81 130.90 L241.03 130.65 L241.24 130.40 L241.43 130.15 L241.61 129.90 L241.77 129.65 L241.93 129.40 L242.06 129.15 L242.19 128.90 L242.30 128.65 L242.40 128.40 L242.49 128.15 L242.57 127.90 L242.63 127.65 L242.65 127.40 L242.65 127.15 L242.65 126.90Z" fill="#F29121" stroke="#2a2a2a" stroke-width="0.65" stroke-linejoin="round"/>
<path d="M256.65 98.80 L256.65 99.05 L256.65 99.30 L256.65 99.55 L256.65 99.80 L256.65 100.05 L256.65 100.30 L256.65 100.55 L256.65 100.80 L256.65 101.05 L256.65 101.30 L256.65 101.55 L256.65 101.80 L256.65 102.05 L256.65 102.30 L256.65 102.55 L256.65 102.80 L256.65 103.05 L256.65 103.30 L256.65 103.55 L256.65 103.80 L256.65 104.05 L256.65 104.30 L256.65 104.55 L256.65 104.80 L256.65 105.05 L256.65 105.30 L256.65 105.55 L256.65 105.80 L256.65 106.05 L256.65 106.30 L256.65 106.55 L256.65 106.80 L256.65 107.05 L256.65 107.30 L256.65 107.55 L256.65 107.80 L256.65 108.05 L256.65 108.30 L256.65 108.55 L256.65 108.80 L256.65 109.05 L256.65 109.30 L256.65 109.55 L256.65 109.80 L256.65 110.05 L256.65 110.30 L256.65 110.55 L256.65 110.80 L256.65 111.05 L256.65 111.30 L256.65 111.55 L256.65 111.80 L256.65 112.05 L256.65 112.30 L256.65 112.55 L256.65 112.80 L256.65 113.05 L256.65 113.30 L256.65 113.55 L256.65 113.80 L256.65 114.05 L256.65 114.30 L256.68 114.55 L256.71 114.80 L256.76 115.05 L256.80 115.30 L256.85 115.55 L256.90 115.80 L256.95 116.05 L257.01 116.30 L257.08 116.55 L257.14 116.80 L257.21 117.05 L257.29 117.30 L257.37 117.55 L257.45 117.80 L257.54 118.05 L257.64 118.30 L257.73 118.55 L257.84 118.80 L257.94 119.05 L258.05 119.30 L258.17 119.55 L258.29 119.80 L258.42 120.05 L258.54 120.30 L258.68 120.55 L258.81 120.80 L258.95 121.05 L259.09 121.30 L259.24 121.55 L259.39 121.80 L259.53 122.05 L259.68 122.30 L259.84 122.55 L259.99 122.80 L260.14 123.05 L260.29 123.30 L260.44 123.55 L260.59 123.80 L260.74 124.05 L260.88 124.30 L261.02 124.55 L261.16 124.80 L261.29 125.05 L261.42 125.30 L261.54 125.55 L261.66 125.80 L261.77 126.05 L261.87 126.30 L261.96 126.55 L262.05 126.80 L262.12 127.05 L262.19 127.30 L262.25 127.55 L262.30 127.80 L262.34 128.05 L262.37 128.30 L262.39 128.55 L262.40 128.80 L262.39 129.05 L262.35 129.30 L262.26 129.55 L262.14 129.80 L261.98 130.05 L261.79 130.30 L261.56 130.55 L261.32 130.80 L261.05 131.05 L260.77 131.30 L260.47 131.55 L260.17 131.80 L259.87 132.05 L259.56 132.30 L259.27 132.55 L258.98 132.80 L258.70 133.05 L258.44 133.30 L258.19 133.55 L257.96 133.80 L257.75 134.05 L257.56 134.30 L257.39 134.55 L257.23 134.80 L257.09 135.05 L256.97 135.30 L256.86 135.55 L256.76 135.80 L256.68 136.05 L255.92 136.05 L255.84 135.80 L255.74 135.55 L255.63 135.30 L255.51 135.05 L255.37 134.80 L255.21 134.55 L255.04 134.30 L254.85 134.05 L254.64 133.80 L254.41 133.55 L254.16 133.30 L253.90 133.05 L253.62 132.80 L253.33 132.55 L253.04 132.30 L252.73 132.05 L252.43 131.80 L252.13 131.55 L251.83 131.30 L251.55 131.05 L251.28 130.80 L251.04 130.55 L250.81 130.30 L250.62 130.05 L250.46 129.80 L250.34 129.55 L250.25 129.30 L250.21 129.05 L250.20 128.80 L250.21 128.55 L250.23 128.30 L250.26 128.05 L250.30 127.80 L250.35 127.55 L250.41 127.30 L250.48 127.05 L250.55 126.80 L250.64 126.55 L250.73 126.30 L250.83 126.05 L250.94 125.80 L251.06 125.55 L251.18 125.30 L251.31 125.05 L251.44 124.80 L251.58 124.55 L251.72 124.30 L251.86 124.05 L252.01 123.80 L252.16 123.55 L252.31 123.30 L252.46 123.05 L252.61 122.80 L252.76 122.55 L252.92 122.30 L253.07 122.05 L253.21 121.80 L253.36 121.55 L253.51 121.30 L253.65 121.05 L253.79 120.80 L253.92 120.55 L254.06 120.30 L254.18 120.05 L254.31 119.80 L254.43 119.55 L254.55 119.30 L254.66 119.05 L254.76 118.80 L254.87 118.55 L254.96 118.30 L255.06 118.05 L255.15 117.80 L255.23 117.55 L255.31 117.30 L255.39 117.05 L255.46 116.80 L255.52 116.55 L255.59 116.30 L255.65 116.05 L255.70 115.80 L255.75 115.55 L255.80 115.30 L255.84 115.05 L255.89 114.80 L255.92 114.55 L255.95 114.30 L255.95 114.05 L255.95 113.80 L255.95 113.55 L255.95 113.30 L255.95 113.05 L255.95 112.80 L255.95 112.55 L255.95 112.30 L255.95 112.05 L255.95 111.80 L255.95 111.55 L255.95 111.30 L255.95 111.05 L255.95 110.80 L255.95 110.55 L255.95 110.30 L255.95 110.05 L255.95 109.80 L255.95 109.55 L255.95 109.30 L255.95 109.05 L255.95 108.80 L255.95 108.55 L255.95 108.30 L255.95 108.05 L255.95 107.80 L255.95 107.55 L255.95 107.30 L255.95 107.05 L255.95 106.80 L255.95 106.55 L255.95 106.30 L255.95 106.05 L255.95 105.80 L255.95 105.55 L255.95 105.30 L255.95 105.05 L255.95 104.80 L255.95 104.55 L255.95 104.30 L255.95 104.05 L255.95 103.80 L255.95 103.55 L255.95 103.30 L255.95 103.05 L255.95 102.80 L255.95 102.55 L255.95 102.30 L255.95 102.05 L255.95 101.80 L255.95 101.55 L255.95 101.30 L255.95 101.05 L255.95 100.80 L255.95 100.55 L255.95 100.30 L255.95 100.05 L255.95 99.80 L255.95 99.55 L255.95 99.30 L255.95 99.05 L255.95 98.80Z" fill="#F5C85B" stroke="#2a2a2a" stroke-width="0.65" stroke-linejoin="round"/>
<text x="302.30" y="7.90" font-size="10.71" font-weight="bold" fill="#000" stroke="#000" stroke-width="0.15">c</text>
<line x1="321.20" y1="18.60" x2="321.20" y2="146.70" stroke="#8c8c8c" stroke-width="1.0"/>
<line x1="319.20" y1="24.10" x2="321.20" y2="24.10" stroke="#333" stroke-width="0.7"/>
<text x="318.50" y="25.90" font-size="7.14" text-anchor="end" fill="#333" stroke="#333" stroke-width="0.15">100</text>
<line x1="319.20" y1="53.27" x2="321.20" y2="53.27" stroke="#333" stroke-width="0.7"/>
<text x="318.50" y="55.07" font-size="7.14" text-anchor="end" fill="#333" stroke="#333" stroke-width="0.15">75</text>
<line x1="319.20" y1="82.45" x2="321.20" y2="82.45" stroke="#333" stroke-width="0.7"/>
<text x="318.50" y="84.25" font-size="7.14" text-anchor="end" fill="#333" stroke="#333" stroke-width="0.15">50</text>
<line x1="319.20" y1="111.62" x2="321.20" y2="111.62" stroke="#333" stroke-width="0.7"/>
<text x="318.50" y="113.42" font-size="7.14" text-anchor="end" fill="#333" stroke="#333" stroke-width="0.15">25</text>
<line x1="319.20" y1="140.80" x2="321.20" y2="140.80" stroke="#333" stroke-width="0.7"/>
<text x="318.50" y="142.60" font-size="7.14" text-anchor="end" fill="#333" stroke="#333" stroke-width="0.15">0</text>
<text x="308.10" y="85.40" font-size="8.26" text-anchor="middle" fill="#111" stroke="#111" stroke-width="0.15" transform="rotate(-90 308.10 85.40)">Percentage</text>
<rect x="322.40" y="24.10" width="7.70" height="8.70" fill="#FDB913"/>
<rect x="322.40" y="32.80" width="7.70" height="55.00" fill="#F15A29"/>
<rect x="322.40" y="87.80" width="7.70" height="29.40" fill="#C4122F"/>
<rect x="322.40" y="117.20" width="7.70" height="6.40" fill="#6A9A48"/>
<rect x="322.40" y="123.60" width="7.70" height="4.80" fill="#E8467C"/>
<rect x="322.40" y="128.40" width="7.70" height="2.30" fill="#27A4C6"/>
<rect x="322.40" y="130.70" width="7.70" height="2.00" fill="#6A5CA6"/>
<rect x="322.40" y="132.70" width="7.70" height="2.40" fill="#F4737F"/>
<rect x="322.40" y="135.10" width="7.70" height="5.70" fill="#0F2A6C"/>
<rect x="322.40" y="18.70" width="7.70" height="3.90" fill="#400C31"/>
<rect x="330.90" y="24.10" width="7.70" height="20.00" fill="#FDB913"/>
<rect x="330.90" y="44.10" width="7.70" height="25.20" fill="#F15A29"/>
<rect x="330.90" y="69.30" width="7.70" height="23.80" fill="#C4122F"/>
<rect x="330.90" y="93.10" width="7.70" height="8.90" fill="#6A9A48"/>
<rect x="330.90" y="102.00" width="7.70" height="4.00" fill="#E8467C"/>
<rect x="330.90" y="106.00" width="7.70" height="4.80" fill="#27A4C6"/>
<rect x="330.90" y="110.80" width="7.70" height="6.40" fill="#6A5CA6"/>
<rect x="330.90" y="117.20" width="7.70" height="10.80" fill="#F4737F"/>
<rect x="330.90" y="128.00" width="7.70" height="12.80" fill="#0F2A6C"/>
<rect x="330.90" y="18.70" width="7.70" height="3.90" fill="#A11E6C"/>
<rect x="339.20" y="24.10" width="7.70" height="18.90" fill="#FDB913"/>
<rect x="339.20" y="43.00" width="7.70" height="45.10" fill="#F15A29"/>
<rect x="339.20" y="88.10" width="7.70" height="21.90" fill="#C4122F"/>
<rect x="339.20" y="110.00" width="7.70" height="9.50" fill="#6A9A48"/>
<rect x="339.20" y="119.50" width="7.70" height="5.50" fill="#E8467C"/>
<rect x="339.20" y="125.00" width="7.70" height="5.00" fill="#27A4C6"/>
<rect x="339.20" y="130.00" width="7.70" height="3.60" fill="#6A5CA6"/>
<rect x="339.20" y="133.60" width="7.70" height="3.20" fill="#F4737F"/>
<rect x="339.20" y="136.80" width="7.70" height="4.00" fill="#0F2A6C"/>
<rect x="339.20" y="18.70" width="7.70" height="3.90" fill="#F18F1F"/>
<rect x="347.60" y="24.10" width="7.70" height="25.90" fill="#FDB913"/>
<rect x="347.60" y="50.00" width="7.70" height="46.90" fill="#F15A29"/>
<rect x="347.60" y="96.90" width="7.70" height="18.20" fill="#C4122F"/>
<rect x="347.60" y="115.10" width="7.70" height="7.90" fill="#6A9A48"/>
<rect x="347.60" y="123.00" width="7.70" height="5.00" fill="#E8467C"/>
<rect x="347.60" y="128.00" width="7.70" height="5.80" fill="#27A4C6"/>
<rect x="347.60" y="133.80" width="7.70" height="1.60" fill="#6A5CA6"/>
<rect x="347.60" y="135.40" width="7.70" height="2.40" fill="#F4737F"/>
<rect x="347.60" y="137.80" width="7.70" height="3.00" fill="#0F2A6C"/>
<rect x="347.60" y="18.70" width="7.70" height="3.90" fill="#F1C75E"/>
<rect x="359.60" y="24.10" width="7.70" height="30.80" fill="#F1C75E"/>
<rect x="359.60" y="54.90" width="7.70" height="21.90" fill="#F18F1F"/>
<rect x="359.60" y="76.80" width="7.70" height="23.20" fill="#A11E6C"/>
<rect x="359.60" y="100.00" width="7.70" height="40.80" fill="#400C31"/>
<rect x="359.60" y="18.70" width="7.70" height="3.90" fill="#FDB913"/>
<rect x="367.95" y="24.10" width="7.70" height="16.20" fill="#F1C75E"/>
<rect x="367.95" y="40.30" width="7.70" height="15.50" fill="#F18F1F"/>
<rect x="367.95" y="55.80" width="7.70" height="8.50" fill="#A11E6C"/>
<rect x="367.95" y="64.30" width="7.70" height="76.50" fill="#400C31"/>
<rect x="367.95" y="18.70" width="7.70" height="3.90" fill="#F15A29"/>
<rect x="376.30" y="24.10" width="7.70" height="11.80" fill="#F1C75E"/>
<rect x="376.30" y="35.90" width="7.70" height="14.10" fill="#F18F1F"/>
<rect x="376.30" y="50.00" width="7.70" height="14.90" fill="#A11E6C"/>
<rect x="376.30" y="64.90" width="7.70" height="75.90" fill="#400C31"/>
<rect x="376.30" y="18.70" width="7.70" height="3.90" fill="#C4122F"/>
<rect x="384.65" y="24.10" width="7.70" height="17.90" fill="#F1C75E"/>
<rect x="384.65" y="42.00" width="7.70" height="20.30" fill="#F18F1F"/>
<rect x="384.65" y="62.30" width="7.70" height="20.40" fill="#A11E6C"/>
<rect x="384.65" y="82.70" width="7.70" height="58.10" fill="#400C31"/>
<rect x="384.65" y="18.70" width="7.70" height="3.90" fill="#6A9A48"/>
<rect x="393.00" y="24.10" width="7.70" height="16.80" fill="#F1C75E"/>
<rect x="393.00" y="40.90" width="7.70" height="19.20" fill="#F18F1F"/>
<rect x="393.00" y="60.10" width="7.70" height="12.20" fill="#A11E6C"/>
<rect x="393.00" y="72.30" width="7.70" height="68.50" fill="#400C31"/>
<rect x="393.00" y="18.70" width="7.70" height="3.90" fill="#E8467C"/>
<rect x="401.35" y="24.10" width="7.70" height="27.30" fill="#F1C75E"/>
<rect x="401.35" y="51.40" width="7.70" height="22.60" fill="#F18F1F"/>
<rect x="401.35" y="74.00" width="7.70" height="20.90" fill="#A11E6C"/>
<rect x="401.35" y="94.90" width="7.70" height="45.90" fill="#400C31"/>
<rect x="401.35" y="18.70" width="7.70" height="3.90" fill="#27A4C6"/>
<rect x="409.70" y="24.10" width="7.70" height="14.10" fill="#F1C75E"/>
<rect x="409.70" y="38.20" width="7.70" height="21.90" fill="#F18F1F"/>
<rect x="409.70" y="60.10" width="7.70" height="42.20" fill="#A11E6C"/>
<rect x="409.70" y="102.30" width="7.70" height="38.50" fill="#400C31"/>
<rect x="409.70" y="18.70" width="7.70" height="3.90" fill="#6A5CA6"/>
<rect x="418.05" y="24.10" width="7.70" height="8.70" fill="#F1C75E"/>
<rect x="418.05" y="32.80" width="7.70" height="14.00" fill="#F18F1F"/>
<rect x="418.05" y="46.80" width="7.70" height="47.00" fill="#A11E6C"/>
<rect x="418.05" y="93.80" width="7.70" height="47.00" fill="#400C31"/>
<rect x="418.05" y="18.70" width="7.70" height="3.90" fill="#F4737F"/>
<rect x="426.40" y="24.10" width="7.70" height="8.70" fill="#F1C75E"/>
<rect x="426.40" y="32.80" width="7.70" height="10.20" fill="#F18F1F"/>
<rect x="426.40" y="43.00" width="7.70" height="35.10" fill="#A11E6C"/>
<rect x="426.40" y="78.10" width="7.70" height="62.70" fill="#400C31"/>
<rect x="426.40" y="18.70" width="7.70" height="3.90" fill="#0F2A6C"/>
<line x1="320.70" y1="146.30" x2="355.60" y2="146.30" stroke="#8c8c8c" stroke-width="1.0"/>
<line x1="358.40" y1="146.30" x2="435.40" y2="146.30" stroke="#8c8c8c" stroke-width="1.0"/>
<line x1="326.25" y1="146.30" x2="326.25" y2="148.00" stroke="#333" stroke-width="0.7"/>
<line x1="334.75" y1="146.30" x2="334.75" y2="148.00" stroke="#333" stroke-width="0.7"/>
<line x1="343.05" y1="146.30" x2="343.05" y2="148.00" stroke="#333" stroke-width="0.7"/>
<line x1="351.45" y1="146.30" x2="351.45" y2="148.00" stroke="#333" stroke-width="0.7"/>
<line x1="363.45" y1="146.30" x2="363.45" y2="148.00" stroke="#333" stroke-width="0.7"/>
<line x1="371.80" y1="146.30" x2="371.80" y2="148.00" stroke="#333" stroke-width="0.7"/>
<line x1="380.15" y1="146.30" x2="380.15" y2="148.00" stroke="#333" stroke-width="0.7"/>
<line x1="388.50" y1="146.30" x2="388.50" y2="148.00" stroke="#333" stroke-width="0.7"/>
<line x1="396.85" y1="146.30" x2="396.85" y2="148.00" stroke="#333" stroke-width="0.7"/>
<line x1="405.20" y1="146.30" x2="405.20" y2="148.00" stroke="#333" stroke-width="0.7"/>
<line x1="413.55" y1="146.30" x2="413.55" y2="148.00" stroke="#333" stroke-width="0.7"/>
<line x1="421.90" y1="146.30" x2="421.90" y2="148.00" stroke="#333" stroke-width="0.7"/>
<line x1="430.25" y1="146.30" x2="430.25" y2="148.00" stroke="#333" stroke-width="0.7"/>
<text x="329.05" y="150.40" font-size="8.06" text-anchor="end" fill="#111" stroke="#111" stroke-width="0.15" transform="rotate(-90 329.05 150.40)">PTGER4<tspan stroke-width="0" font-size="4.4" dy="-2.9">un</tspan></text>
<text x="337.55" y="150.40" font-size="8.06" text-anchor="end" fill="#111" stroke="#111" stroke-width="0.15" transform="rotate(-90 337.55 150.40)">PTGER4<tspan stroke-width="0" font-size="4.4" dy="-2.9">lo</tspan></text>
<text x="345.85" y="150.40" font-size="8.06" text-anchor="end" fill="#111" stroke="#111" stroke-width="0.15" transform="rotate(-90 345.85 150.40)">PTGER4<tspan stroke-width="0" font-size="4.4" dy="-2.9">int</tspan></text>
<text x="354.25" y="150.40" font-size="8.06" text-anchor="end" fill="#111" stroke="#111" stroke-width="0.15" transform="rotate(-90 354.25 150.40)">PTGER4<tspan stroke-width="0" font-size="4.4" dy="-2.9">hi</tspan></text>
<text x="366.25" y="150.40" font-size="8.16" text-anchor="end" fill="#111" stroke="#111" stroke-width="0.15" transform="rotate(-90 366.25 150.40)">T_CD8_TCF7</text>
<text x="374.60" y="150.40" font-size="8.16" text-anchor="end" fill="#111" stroke="#111" stroke-width="0.15" transform="rotate(-90 374.60 150.40)">T_CD8_GZMK</text>
<text x="382.95" y="150.40" font-size="8.16" text-anchor="end" fill="#111" stroke="#111" stroke-width="0.15" transform="rotate(-90 382.95 150.40)">T_CD8_HAVCR2</text>
<text x="391.30" y="150.40" font-size="8.16" text-anchor="end" fill="#111" stroke="#111" stroke-width="0.15" transform="rotate(-90 391.30 150.40)">T_CD8_GNLY</text>
<text x="399.65" y="150.40" font-size="8.16" text-anchor="end" fill="#111" stroke="#111" stroke-width="0.15" transform="rotate(-90 399.65 150.40)">T_CD8_ISG</text>
<text x="408.00" y="150.40" font-size="8.16" text-anchor="end" fill="#111" stroke="#111" stroke-width="0.15" transform="rotate(-90 408.00 150.40)">T_CD8_RORA</text>
<text x="416.35" y="150.40" font-size="8.16" text-anchor="end" fill="#111" stroke="#111" stroke-width="0.15" transform="rotate(-90 416.35 150.40)">T_CD8_TNFRSF4</text>
<text x="424.70" y="150.40" font-size="8.16" text-anchor="end" fill="#111" stroke="#111" stroke-width="0.15" transform="rotate(-90 424.70 150.40)">T_CD8_FOXP3</text>
<text x="433.05" y="150.40" font-size="8.16" text-anchor="end" fill="#111" stroke="#111" stroke-width="0.15" transform="rotate(-90 433.05 150.40)">T_CD8_Dividing</text>
<text x="438.90" y="23.50" font-size="8.06" fill="#111" stroke="#111" stroke-width="0.15">Cluster</text>
<rect x="439.20" y="26.40" width="10.60" height="9.30" fill="#FDB913"/>
<text x="453.00" y="33.10" font-size="6.83" fill="#111" stroke="#111" stroke-width="0.15">T_CD8_TCF7</text>
<rect x="439.20" y="37.20" width="10.60" height="9.30" fill="#F15A29"/>
<text x="453.00" y="43.90" font-size="6.83" fill="#111" stroke="#111" stroke-width="0.15">T_CD8_GZMK</text>
<rect x="439.20" y="48.00" width="10.60" height="9.30" fill="#C4122F"/>
<text x="453.00" y="54.70" font-size="6.83" fill="#111" stroke="#111" stroke-width="0.15">T_CD8_HAVCR2</text>
<rect x="439.20" y="58.80" width="10.60" height="9.30" fill="#6A9A48"/>
<text x="453.00" y="65.50" font-size="6.83" fill="#111" stroke="#111" stroke-width="0.15">T_CD8_GNLY</text>
<rect x="439.20" y="69.60" width="10.60" height="9.30" fill="#E8467C"/>
<text x="453.00" y="76.30" font-size="6.83" fill="#111" stroke="#111" stroke-width="0.15">T_CD8_ISG</text>
<rect x="439.20" y="80.40" width="10.60" height="9.30" fill="#27A4C6"/>
<text x="453.00" y="87.10" font-size="6.83" fill="#111" stroke="#111" stroke-width="0.15">T_CD8_RORA</text>
<rect x="439.20" y="91.20" width="10.60" height="9.30" fill="#6A5CA6"/>
<text x="453.00" y="97.90" font-size="6.83" fill="#111" stroke="#111" stroke-width="0.15">T_CD8_TNFRSF4</text>
<rect x="439.20" y="102.00" width="10.60" height="9.30" fill="#F4737F"/>
<text x="453.00" y="108.70" font-size="6.83" fill="#111" stroke="#111" stroke-width="0.15">T_CD8_FOXP3</text>
<rect x="439.20" y="112.80" width="10.60" height="9.30" fill="#0F2A6C"/>
<text x="453.00" y="119.50" font-size="6.83" fill="#111" stroke="#111" stroke-width="0.15">T_CD8_Dividing</text>
<text x="439.00" y="136.10" font-size="8.06" fill="#111" stroke="#111" stroke-width="0.15">PTGER4 Group</text>
<rect x="439.20" y="138.90" width="10.60" height="9.30" fill="#F1C75E"/>
<text x="453.50" y="145.90" font-size="6.83" fill="#111" stroke="#111" stroke-width="0.15">PTGER4<tspan stroke-width="0" font-size="4.5" dy="-2.8">hi</tspan></text>
<rect x="439.20" y="148.85" width="10.60" height="9.30" fill="#F18F1F"/>
<text x="453.50" y="155.85" font-size="6.83" fill="#111" stroke="#111" stroke-width="0.15">PTGER4<tspan stroke-width="0" font-size="4.5" dy="-2.8">int</tspan></text>
<rect x="439.20" y="158.80" width="10.60" height="9.30" fill="#A11E6C"/>
<text x="453.50" y="165.80" font-size="6.83" fill="#111" stroke="#111" stroke-width="0.15">PTGER4<tspan stroke-width="0" font-size="4.5" dy="-2.8">lo</tspan></text>
<rect x="439.20" y="168.75" width="10.60" height="9.30" fill="#400C31"/>
<text x="453.50" y="175.75" font-size="6.83" fill="#111" stroke="#111" stroke-width="0.15">PTGER4<tspan stroke-width="0" font-size="4.5" dy="-2.8">un</tspan></text>
<text x="506.60" y="7.90" font-size="10.71" font-weight="bold" fill="#000" stroke="#000" stroke-width="0.15">d</text>
<text x="597.90" y="13.20" font-size="7.34" text-anchor="end" fill="#111" stroke="#111" stroke-width="0.15">6,155 genes</text>
<text x="598.20" y="22.20" font-size="7.34" text-anchor="end" fill="#111" stroke="#111" stroke-width="0.15">favoring downregulation</text>
<text x="598.40" y="31.20" font-size="7.34" text-anchor="end" fill="#111" stroke="#111" stroke-width="0.15">in PTGER4<tspan stroke-width="0" font-size="4.6" dy="-3">hi</tspan><tspan dy="3"> CD8</tspan><tspan stroke-width="0" font-size="4.6" dy="-3">+</tspan><tspan dy="3"> T cell</tspan></text>
<text x="604.60" y="13.20" font-size="7.34" fill="#111" stroke="#111" stroke-width="0.15">4,244 genes</text>
<text x="604.60" y="22.20" font-size="7.34" fill="#111" stroke="#111" stroke-width="0.15">favoring upregulation</text>
<text x="604.60" y="31.20" font-size="7.34" fill="#111" stroke="#111" stroke-width="0.15">in PTGER4<tspan stroke-width="0" font-size="4.6" dy="-3">hi</tspan><tspan dy="3"> CD8</tspan><tspan stroke-width="0" font-size="4.6" dy="-3">+</tspan><tspan dy="3"> T cell</tspan></text>
<line x1="551.50" y1="35.70" x2="598.60" y2="35.70" stroke="#111" stroke-width="0.9"/>
<path d="M549.0 35.7L553.2 33.9L553.2 37.5Z" fill="#111"/>
<line x1="607.30" y1="35.50" x2="658.50" y2="35.50" stroke="#111" stroke-width="0.9"/>
<path d="M661.0 35.5L656.8 33.7L656.8 37.3Z" fill="#111"/>
<line x1="541.80" y1="43.50" x2="541.80" y2="181.20" stroke="#8c8c8c" stroke-width="1.0"/>
<line x1="541.40" y1="181.20" x2="663.80" y2="181.20" stroke="#333" stroke-width="0.9"/>
<line x1="539.90" y1="175.30" x2="541.80" y2="175.30" stroke="#333" stroke-width="0.7"/>
<text x="538.60" y="177.80" font-size="7.45" text-anchor="end" fill="#333" stroke="#333" stroke-width="0.15">0</text>
<line x1="539.90" y1="132.20" x2="541.80" y2="132.20" stroke="#333" stroke-width="0.7"/>
<text x="538.60" y="134.70" font-size="7.45" text-anchor="end" fill="#333" stroke="#333" stroke-width="0.15">500</text>
<line x1="539.90" y1="89.10" x2="541.80" y2="89.10" stroke="#333" stroke-width="0.7"/>
<text x="538.60" y="91.60" font-size="7.45" text-anchor="end" fill="#333" stroke="#333" stroke-width="0.15">1000</text>
<line x1="539.90" y1="46.00" x2="541.80" y2="46.00" stroke="#333" stroke-width="0.7"/>
<text x="538.60" y="48.50" font-size="7.45" text-anchor="end" fill="#333" stroke="#333" stroke-width="0.15">1500</text>
<text x="519.10" y="117.20" font-size="8.26" text-anchor="middle" fill="#111" stroke="#111" stroke-width="0.15" transform="rotate(-90 519.10 117.20)">Number of genes</text>
<rect x="547.10" y="169.70" width="5.30" height="5.60" fill="#000"/>
<rect x="554.17" y="158.40" width="5.30" height="16.90" fill="#000"/>
<rect x="561.24" y="140.90" width="5.30" height="34.40" fill="#000"/>
<rect x="568.31" y="120.90" width="5.30" height="54.40" fill="#000"/>
<rect x="575.38" y="102.10" width="5.30" height="73.20" fill="#000"/>
<rect x="582.45" y="76.60" width="5.30" height="98.70" fill="#000"/>
<rect x="589.52" y="54.80" width="5.30" height="120.50" fill="#000"/>
<rect x="596.59" y="49.60" width="5.30" height="125.70" fill="#000"/>
<rect x="603.66" y="66.10" width="5.30" height="109.20" fill="#000"/>
<rect x="610.73" y="81.80" width="5.30" height="93.50" fill="#000"/>
<rect x="617.80" y="105.00" width="5.30" height="70.30" fill="#000"/>
<rect x="624.87" y="129.10" width="5.30" height="46.20" fill="#000"/>
<rect x="631.94" y="149.70" width="5.30" height="25.60" fill="#000"/>
<rect x="639.01" y="162.70" width="5.30" height="12.60" fill="#000"/>
<rect x="646.08" y="170.00" width="5.30" height="5.30" fill="#000"/>
<rect x="653.15" y="173.50" width="5.30" height="1.80" fill="#000"/>
<line x1="602.40" y1="43.50" x2="602.40" y2="181.20" stroke="#666" stroke-width="0.9" stroke-dasharray="11.3 11.3" stroke-dashoffset="11.3"/>
<line x1="549.75" y1="181.20" x2="549.75" y2="182.90" stroke="#333" stroke-width="0.7"/>
<text x="549.75" y="191.80" font-size="8.16" text-anchor="middle" fill="#1a1a1a" stroke="#1a1a1a" stroke-width="0.15">0</text>
<text x="549.75" y="201.30" font-size="8.16" text-anchor="middle" fill="#1a1a1a" stroke="#1a1a1a" stroke-width="0.15">15</text>
<line x1="570.96" y1="181.20" x2="570.96" y2="182.90" stroke="#333" stroke-width="0.7"/>
<text x="570.96" y="191.80" font-size="8.16" text-anchor="middle" fill="#1a1a1a" stroke="#1a1a1a" stroke-width="0.15">3</text>
<text x="570.96" y="201.30" font-size="8.16" text-anchor="middle" fill="#1a1a1a" stroke="#1a1a1a" stroke-width="0.15">12</text>
<line x1="592.17" y1="181.20" x2="592.17" y2="182.90" stroke="#333" stroke-width="0.7"/>
<text x="592.17" y="191.80" font-size="8.16" text-anchor="middle" fill="#1a1a1a" stroke="#1a1a1a" stroke-width="0.15">6</text>
<text x="592.17" y="201.30" font-size="8.16" text-anchor="middle" fill="#1a1a1a" stroke="#1a1a1a" stroke-width="0.15">9</text>
<line x1="613.38" y1="181.20" x2="613.38" y2="182.90" stroke="#333" stroke-width="0.7"/>
<text x="613.38" y="191.80" font-size="8.16" text-anchor="middle" fill="#1a1a1a" stroke="#1a1a1a" stroke-width="0.15">9</text>
<text x="613.38" y="201.30" font-size="8.16" text-anchor="middle" fill="#1a1a1a" stroke="#1a1a1a" stroke-width="0.15">6</text>
<line x1="634.59" y1="181.20" x2="634.59" y2="182.90" stroke="#333" stroke-width="0.7"/>
<text x="634.59" y="191.80" font-size="8.16" text-anchor="middle" fill="#1a1a1a" stroke="#1a1a1a" stroke-width="0.15">12</text>
<text x="634.59" y="201.30" font-size="8.16" text-anchor="middle" fill="#1a1a1a" stroke="#1a1a1a" stroke-width="0.15">3</text>
<line x1="655.80" y1="181.20" x2="655.80" y2="182.90" stroke="#333" stroke-width="0.7"/>
<text x="655.80" y="191.80" font-size="8.16" text-anchor="middle" fill="#1a1a1a" stroke="#1a1a1a" stroke-width="0.15">15</text>
<text x="655.80" y="201.30" font-size="8.16" text-anchor="middle" fill="#1a1a1a" stroke="#1a1a1a" stroke-width="0.15">0</text>
<text x="540.30" y="191.40" font-size="6.73" text-anchor="end" fill="#1a1a1a" stroke="#1a1a1a" stroke-width="0.15">Upregulation</text>
<text x="540.30" y="200.60" font-size="6.73" text-anchor="end" fill="#1a1a1a" stroke="#1a1a1a" stroke-width="0.15">Downregulation</text>
<text x="540.30" y="208.20" font-size="6.73" text-anchor="end" fill="#1a1a1a" stroke="#1a1a1a" stroke-width="0.15">(datasets)</text>
<text x="-0.20" y="231.60" font-size="10.71" font-weight="bold" fill="#000" stroke="#000" stroke-width="0.15">e</text>
<line x1="15.20" y1="241.50" x2="15.20" y2="358.70" stroke="#666" stroke-width="1.0"/>
<path d="M15.2 239.8L14.0 242.6L16.4 242.6Z" fill="#222"/>
<text x="17.90" y="410.50" font-size="8.16" text-anchor="middle" fill="#111" stroke="#111" stroke-width="0.15" transform="rotate(-90 17.90 410.50)">Running enrichment score</text>
<text x="25.60" y="458.60" font-size="8.16" fill="#111" stroke="#111" stroke-width="0.15">Genes rank</text>
<line x1="70.20" y1="456.80" x2="189.00" y2="456.80" stroke="#666" stroke-width="1.0"/>
<path d="M191.2 456.8L188.4 455.6L188.4 458.0Z" fill="#222"/>
<text x="45.80" y="237.40" font-size="8.16" fill="#111" stroke="#111" stroke-width="0.15">HALLMARK_IL2_STAT5_SIGNALING</text>
<line x1="46.40" y1="238.80" x2="46.40" y2="286.10" stroke="#222" stroke-width="0.9"/>
<line x1="46.00" y1="286.10" x2="193.70" y2="286.10" stroke="#222" stroke-width="0.9"/>
<line x1="46.40" y1="250.40" x2="193.70" y2="250.40" stroke="#333" stroke-width="0.8"/>
<line x1="46.40" y1="241.00" x2="193.70" y2="241.00" stroke="#555" stroke-width="0.9" stroke-dasharray="4.2 3.6"/>
<line x1="46.40" y1="274.30" x2="193.70" y2="274.30" stroke="#555" stroke-width="0.9" stroke-dasharray="4.2 3.6"/>
<line x1="44.70" y1="250.40" x2="46.40" y2="250.40" stroke="#333" stroke-width="0.7"/>
<text x="41.60" y="253.00" font-size="7.96" text-anchor="end" fill="#1a1a1a" stroke="#1a1a1a" stroke-width="0.15">0.00</text>
<line x1="44.70" y1="262.50" x2="46.40" y2="262.50" stroke="#333" stroke-width="0.7"/>
<text x="41.60" y="265.10" font-size="7.96" text-anchor="end" fill="#1a1a1a" stroke="#1a1a1a" stroke-width="0.15">−0.25</text>
<line x1="44.70" y1="274.60" x2="46.40" y2="274.60" stroke="#333" stroke-width="0.7"/>
<text x="41.60" y="277.20" font-size="7.96" text-anchor="end" fill="#1a1a1a" stroke="#1a1a1a" stroke-width="0.15">−0.50</text>
<line x1="53.10" y1="286.10" x2="53.10" y2="287.80" stroke="#333" stroke-width="0.7"/>
<text x="53.10" y="295.50" font-size="8.26" text-anchor="middle" fill="#1a1a1a" stroke="#1a1a1a" stroke-width="0.15">0</text>
<line x1="89.70" y1="286.10" x2="89.70" y2="287.80" stroke="#333" stroke-width="0.7"/>
<text x="91.90" y="295.50" font-size="8.26" text-anchor="middle" fill="#1a1a1a" stroke="#1a1a1a" stroke-width="0.15">2500</text>
<line x1="126.40" y1="286.10" x2="126.40" y2="287.80" stroke="#333" stroke-width="0.7"/>
<text x="128.90" y="295.50" font-size="8.26" text-anchor="middle" fill="#1a1a1a" stroke="#1a1a1a" stroke-width="0.15">5000</text>
<line x1="163.70" y1="286.10" x2="163.70" y2="287.80" stroke="#333" stroke-width="0.7"/>
<text x="165.90" y="295.50" font-size="8.26" text-anchor="middle" fill="#1a1a1a" stroke="#1a1a1a" stroke-width="0.15">7500</text>
<path d="M55.78 279.00V284.20M56.18 279.00V284.20M59.89 279.00V284.20M60.50 279.00V284.20M68.04 279.00V284.20M71.15 279.00V284.20M75.57 279.00V284.20M77.49 279.00V284.20M80.11 279.00V284.20M80.75 279.00V284.20M84.40 279.00V284.20M85.76 279.00V284.20M92.18 279.00V284.20M93.80 279.00V284.20M103.24 279.00V284.20M104.24 279.00V284.20M116.22 279.00V284.20M118.70 279.00V284.20M119.17 279.00V284.20M124.44 279.00V284.20M127.89 279.00V284.20M134.79 279.00V284.20M141.13 279.00V284.20M142.65 279.00V284.20M148.91 279.00V284.20M152.37 279.00V284.20M155.51 279.00V284.20M156.89 279.00V284.20M165.35 279.00V284.20M169.86 279.00V284.20M171.74 279.00V284.20M173.84 279.00V284.20M176.77 279.00V284.20M181.24 279.00V284.20M183.87 279.00V284.20M184.70 279.00V284.20M186.35 279.00V284.20" stroke="#E24A57" stroke-width="0.7" stroke-opacity="0.55"/>
<path d="M53.59 279.00V284.20M58.08 279.00V284.20M61.24 279.00V284.20M62.74 279.00V284.20M69.02 279.00V284.20M76.47 279.00V284.20M87.17 279.00V284.20M87.94 279.00V284.20M89.14 279.00V284.20M95.22 279.00V284.20M102.13 279.00V284.20M116.56 279.00V284.20M120.21 279.00V284.20M122.12 279.00V284.20M132.82 279.00V284.20M137.24 279.00V284.20M143.84 279.00V284.20M153.45 279.00V284.20M159.93 279.00V284.20M161.55 279.00V284.20M167.65 279.00V284.20M172.55 279.00V284.20M175.08 279.00V284.20M182.53 279.00V284.20M185.42 279.00V284.20" stroke="#E24A57" stroke-width="0.7" stroke-opacity="0.7999999999999999"/>
<path d="M52.86 279.00V284.20M53.96 279.00V284.20M54.40 279.00V284.20M55.08 279.00V284.20M56.58 279.00V284.20M57.37 279.00V284.20M58.49 279.00V284.20M59.04 279.00V284.20M59.32 279.00V284.20M61.67 279.00V284.20M62.46 279.00V284.20M63.41 279.00V284.20M63.78 279.00V284.20M64.42 279.00V284.20M70.35 279.00V284.20M83.27 279.00V284.20M92.73 279.00V284.20M96.07 279.00V284.20M97.18 279.00V284.20M100.31 279.00V284.20M105.08 279.00V284.20M109.10 279.00V284.20M118.04 279.00V284.20M120.97 279.00V284.20M125.64 279.00V284.20M145.64 279.00V284.20M150.16 279.00V284.20M155.02 279.00V284.20M160.60 279.00V284.20M162.70 279.00V284.20M163.32 279.00V284.20M163.95 279.00V284.20M165.69 279.00V284.20M166.83 279.00V284.20M183.17 279.00V284.20M186.70 279.00V284.20" stroke="#E24A57" stroke-width="0.7" stroke-opacity="1"/>
<path d="M53.40 250.30 L54.50 248.00 L56.00 246.50 L58.00 245.30 L60.00 244.60 L62.00 244.00 L64.00 242.50 L66.00 241.30 L68.00 241.40 L71.00 242.00 L75.00 242.80 L80.00 243.90 L85.00 245.40 L90.00 247.20 L95.00 249.00 L100.00 251.00 L105.00 252.80 L110.00 254.60 L115.00 256.20 L120.00 257.80 L125.00 259.30 L130.00 260.80 L135.00 262.40 L140.00 264.00 L145.00 265.60 L150.00 267.20 L155.00 268.60 L160.00 270.10 L165.00 271.40 L170.00 272.50 L174.00 273.40 L178.00 273.90 L181.00 273.60 L183.00 272.40 L184.50 270.00 L185.40 266.00 L186.00 260.00 L186.50 254.00 L186.90 250.30" fill="none" stroke="#C41E2B" stroke-width="1.5" stroke-linejoin="round"/>
<text x="48.60" y="260.20" font-size="8.16" fill="#111" stroke="#111" stroke-width="0.15">NES</text>
<text x="69.40" y="260.20" font-size="8.16" fill="#111" stroke="#111" stroke-width="0.15">-1.4409</text>
<text x="48.60" y="267.80" font-size="8.16" fill="#111" stroke="#111" stroke-width="0.15"><tspan font-style="italic">P</tspan><tspan stroke-width="0" font-size="4.2" dy="3.0">adj</tspan></text>
<text x="69.40" y="267.80" font-size="8.16" fill="#111" stroke="#111" stroke-width="0.15">0.045</text>
<text x="45.80" y="312.20" font-size="8.16" fill="#111" stroke="#111" stroke-width="0.15">HALLMARK_OXIDATIVE_PHOSPHORYLATION</text>
<line x1="46.40" y1="312.50" x2="46.40" y2="362.30" stroke="#222" stroke-width="0.9"/>
<line x1="46.00" y1="362.30" x2="193.70" y2="362.30" stroke="#222" stroke-width="0.9"/>
<line x1="46.40" y1="316.80" x2="193.70" y2="316.80" stroke="#333" stroke-width="0.8"/>
<line x1="46.40" y1="316.80" x2="193.70" y2="316.80" stroke="#333" stroke-width="0.9" stroke-dasharray="4.2 3.6"/>
<line x1="46.40" y1="349.80" x2="193.70" y2="349.80" stroke="#555" stroke-width="0.9" stroke-dasharray="4.2 3.6"/>
<line x1="44.70" y1="316.80" x2="46.40" y2="316.80" stroke="#333" stroke-width="0.7"/>
<text x="41.60" y="319.40" font-size="7.96" text-anchor="end" fill="#1a1a1a" stroke="#1a1a1a" stroke-width="0.15">0.00</text>
<line x1="44.70" y1="329.10" x2="46.40" y2="329.10" stroke="#333" stroke-width="0.7"/>
<text x="41.60" y="331.70" font-size="7.96" text-anchor="end" fill="#1a1a1a" stroke="#1a1a1a" stroke-width="0.15">−0.25</text>
<line x1="44.70" y1="341.20" x2="46.40" y2="341.20" stroke="#333" stroke-width="0.7"/>
<text x="41.60" y="343.80" font-size="7.96" text-anchor="end" fill="#1a1a1a" stroke="#1a1a1a" stroke-width="0.15">−0.50</text>
<line x1="44.70" y1="353.50" x2="46.40" y2="353.50" stroke="#333" stroke-width="0.7"/>
<text x="41.60" y="356.10" font-size="7.96" text-anchor="end" fill="#1a1a1a" stroke="#1a1a1a" stroke-width="0.15">−0.75</text>
<line x1="53.10" y1="362.30" x2="53.10" y2="364.00" stroke="#333" stroke-width="0.7"/>
<text x="53.10" y="371.70" font-size="8.26" text-anchor="middle" fill="#1a1a1a" stroke="#1a1a1a" stroke-width="0.15">0</text>
<line x1="89.70" y1="362.30" x2="89.70" y2="364.00" stroke="#333" stroke-width="0.7"/>
<text x="91.90" y="371.70" font-size="8.26" text-anchor="middle" fill="#1a1a1a" stroke="#1a1a1a" stroke-width="0.15">2500</text>
<line x1="126.40" y1="362.30" x2="126.40" y2="364.00" stroke="#333" stroke-width="0.7"/>
<text x="128.90" y="371.70" font-size="8.26" text-anchor="middle" fill="#1a1a1a" stroke="#1a1a1a" stroke-width="0.15">5000</text>
<line x1="163.70" y1="362.30" x2="163.70" y2="364.00" stroke="#333" stroke-width="0.7"/>
<text x="165.90" y="371.70" font-size="8.26" text-anchor="middle" fill="#1a1a1a" stroke="#1a1a1a" stroke-width="0.15">7500</text>
<path d="M60.21 355.40V360.30M71.11 355.40V360.30M75.21 355.40V360.30M88.16 355.40V360.30M96.16 355.40V360.30M126.58 355.40V360.30M137.14 355.40V360.30M138.02 355.40V360.30M146.31 355.40V360.30M150.81 355.40V360.30M155.86 355.40V360.30M157.67 355.40V360.30M158.46 355.40V360.30M159.90 355.40V360.30M163.56 355.40V360.30M165.05 355.40V360.30M167.17 355.40V360.30M168.01 355.40V360.30M169.21 355.40V360.30M170.42 355.40V360.30M175.12 355.40V360.30M177.66 355.40V360.30M179.15 355.40V360.30M181.70 355.40V360.30M184.95 355.40V360.30M186.20 355.40V360.30" stroke="#E24A57" stroke-width="0.7" stroke-opacity="0.55"/>
<path d="M55.10 355.40V360.30M65.30 355.40V360.30M76.29 355.40V360.30M87.12 355.40V360.30M103.10 355.40V360.30M109.57 355.40V360.30M110.78 355.40V360.30M117.42 355.40V360.30M133.50 355.40V360.30M147.69 355.40V360.30M149.44 355.40V360.30M156.73 355.40V360.30M157.04 355.40V360.30M159.21 355.40V360.30M160.35 355.40V360.30M161.24 355.40V360.30M162.30 355.40V360.30M164.39 355.40V360.30M165.59 355.40V360.30M166.18 355.40V360.30M168.46 355.40V360.30M171.97 355.40V360.30M173.03 355.40V360.30M174.21 355.40V360.30M175.58 355.40V360.30M180.16 355.40V360.30M183.57 355.40V360.30" stroke="#E24A57" stroke-width="0.7" stroke-opacity="0.7999999999999999"/>
<path d="M59.56 355.40V360.30M70.04 355.40V360.30M72.34 355.40V360.30M76.96 355.40V360.30M80.70 355.40V360.30M89.09 355.40V360.30M93.02 355.40V360.30M94.38 355.40V360.30M97.75 355.40V360.30M112.57 355.40V360.30M119.05 355.40V360.30M120.32 355.40V360.30M121.56 355.40V360.30M127.75 355.40V360.30M132.35 355.40V360.30M154.53 355.40V360.30M155.13 355.40V360.30M161.60 355.40V360.30M163.05 355.40V360.30M166.86 355.40V360.30M170.13 355.40V360.30M171.33 355.40V360.30M172.77 355.40V360.30M173.70 355.40V360.30M176.52 355.40V360.30M177.12 355.40V360.30M178.25 355.40V360.30M179.53 355.40V360.30M180.84 355.40V360.30M182.08 355.40V360.30M182.86 355.40V360.30M184.04 355.40V360.30M185.45 355.40V360.30" stroke="#E24A57" stroke-width="0.7" stroke-opacity="1"/>
<path d="M53.40 316.80 L60.00 319.00 L70.00 322.30 L80.00 325.50 L90.00 328.80 L100.00 332.00 L110.00 335.30 L120.00 338.60 L130.00 342.00 L140.00 345.30 L150.00 348.60 L154.00 349.80 L156.00 349.50 L158.00 348.50 L162.00 347.60 L166.00 347.00 L170.00 346.60 L174.00 346.20 L177.00 345.30 L179.00 344.00 L180.50 341.50 L182.00 336.00 L183.50 329.00 L185.00 322.00 L186.30 316.80" fill="none" stroke="#C41E2B" stroke-width="1.5" stroke-linejoin="round"/>
<text x="48.60" y="337.30" font-size="8.16" fill="#111" stroke="#111" stroke-width="0.15">NES</text>
<text x="69.80" y="337.30" font-size="8.16" fill="#111" stroke="#111" stroke-width="0.15">−2.5850</text>
<text x="48.60" y="344.90" font-size="8.16" fill="#111" stroke="#111" stroke-width="0.15"><tspan font-style="italic">P</tspan><tspan stroke-width="0" font-size="4.2" dy="3.0">adj</tspan></text>
<text x="69.80" y="344.90" font-size="8.16" fill="#111" stroke="#111" stroke-width="0.15">1.09 x 10<tspan stroke-width="0" font-size="4.6" dy="-3.0">-18</tspan></text>
<text x="45.80" y="389.50" font-size="8.16" fill="#111" stroke="#111" stroke-width="0.15">HALLMARK_MYC_TARGETS_V1</text>
<line x1="46.40" y1="389.80" x2="46.40" y2="438.40" stroke="#222" stroke-width="0.9"/>
<line x1="46.00" y1="438.40" x2="196.50" y2="438.40" stroke="#222" stroke-width="0.9"/>
<line x1="46.40" y1="393.20" x2="196.50" y2="393.20" stroke="#333" stroke-width="0.8"/>
<line x1="46.40" y1="393.20" x2="196.50" y2="393.20" stroke="#111" stroke-width="0.9" stroke-dasharray="4.2 3.6"/>
<line x1="46.40" y1="425.70" x2="196.50" y2="425.70" stroke="#555" stroke-width="0.9" stroke-dasharray="4.2 3.6"/>
<line x1="44.70" y1="393.20" x2="46.40" y2="393.20" stroke="#333" stroke-width="0.7"/>
<text x="41.60" y="395.80" font-size="7.96" text-anchor="end" fill="#1a1a1a" stroke="#1a1a1a" stroke-width="0.15">0.0</text>
<line x1="44.70" y1="403.30" x2="46.40" y2="403.30" stroke="#333" stroke-width="0.7"/>
<text x="41.60" y="405.90" font-size="7.96" text-anchor="end" fill="#1a1a1a" stroke="#1a1a1a" stroke-width="0.15">−0.2</text>
<line x1="44.70" y1="413.40" x2="46.40" y2="413.40" stroke="#333" stroke-width="0.7"/>
<text x="41.60" y="416.00" font-size="7.96" text-anchor="end" fill="#1a1a1a" stroke="#1a1a1a" stroke-width="0.15">−0.4</text>
<line x1="44.70" y1="423.50" x2="46.40" y2="423.50" stroke="#333" stroke-width="0.7"/>
<text x="41.60" y="426.10" font-size="7.96" text-anchor="end" fill="#1a1a1a" stroke="#1a1a1a" stroke-width="0.15">−0.6</text>
<line x1="44.70" y1="433.60" x2="46.40" y2="433.60" stroke="#333" stroke-width="0.7"/>
<text x="41.60" y="436.20" font-size="7.96" text-anchor="end" fill="#1a1a1a" stroke="#1a1a1a" stroke-width="0.15">−0.8</text>
<line x1="53.60" y1="438.40" x2="53.60" y2="440.10" stroke="#333" stroke-width="0.7"/>
<text x="53.60" y="447.80" font-size="8.26" text-anchor="middle" fill="#1a1a1a" stroke="#1a1a1a" stroke-width="0.15">0</text>
<line x1="91.00" y1="438.40" x2="91.00" y2="440.10" stroke="#333" stroke-width="0.7"/>
<text x="92.60" y="447.80" font-size="8.26" text-anchor="middle" fill="#1a1a1a" stroke="#1a1a1a" stroke-width="0.15">2500</text>
<line x1="128.40" y1="438.40" x2="128.40" y2="440.10" stroke="#333" stroke-width="0.7"/>
<text x="129.60" y="447.80" font-size="8.26" text-anchor="middle" fill="#1a1a1a" stroke="#1a1a1a" stroke-width="0.15">5000</text>
<line x1="166.00" y1="438.40" x2="166.00" y2="440.10" stroke="#333" stroke-width="0.7"/>
<text x="167.30" y="447.80" font-size="8.26" text-anchor="middle" fill="#1a1a1a" stroke="#1a1a1a" stroke-width="0.15">7500</text>
<path d="M73.05 431.00V436.20M92.86 431.00V436.20M95.32 431.00V436.20M107.63 431.00V436.20M112.78 431.00V436.20M133.73 431.00V436.20M137.87 431.00V436.20M142.43 431.00V436.20M147.23 431.00V436.20M148.94 431.00V436.20M150.10 431.00V436.20M153.37 431.00V436.20M155.15 431.00V436.20M162.41 431.00V436.20M165.02 431.00V436.20M165.93 431.00V436.20M170.63 431.00V436.20M171.52 431.00V436.20M174.94 431.00V436.20M176.07 431.00V436.20M178.27 431.00V436.20M178.65 431.00V436.20M179.50 431.00V436.20M180.05 431.00V436.20M183.23 431.00V436.20M186.62 431.00V436.20M187.02 431.00V436.20M188.67 431.00V436.20M189.09 431.00V436.20" stroke="#E24A57" stroke-width="0.7" stroke-opacity="0.55"/>
<path d="M55.07 431.00V436.20M58.46 431.00V436.20M63.13 431.00V436.20M72.31 431.00V436.20M89.83 431.00V436.20M109.49 431.00V436.20M126.64 431.00V436.20M144.94 431.00V436.20M151.30 431.00V436.20M156.61 431.00V436.20M158.42 431.00V436.20M159.28 431.00V436.20M160.43 431.00V436.20M161.36 431.00V436.20M163.97 431.00V436.20M169.97 431.00V436.20M172.26 431.00V436.20M177.18 431.00V436.20M177.85 431.00V436.20M180.52 431.00V436.20M180.93 431.00V436.20M181.67 431.00V436.20M182.46 431.00V436.20M184.36 431.00V436.20M185.43 431.00V436.20" stroke="#E24A57" stroke-width="0.7" stroke-opacity="0.7999999999999999"/>
<path d="M64.49 431.00V436.20M74.03 431.00V436.20M83.20 431.00V436.20M121.43 431.00V436.20M123.79 431.00V436.20M125.45 431.00V436.20M132.99 431.00V436.20M135.30 431.00V436.20M136.38 431.00V436.20M139.06 431.00V436.20M140.02 431.00V436.20M141.37 431.00V436.20M144.40 431.00V436.20M146.09 431.00V436.20M152.56 431.00V436.20M163.12 431.00V436.20M167.05 431.00V436.20M168.07 431.00V436.20M169.10 431.00V436.20M171.23 431.00V436.20M172.52 431.00V436.20M173.24 431.00V436.20M173.88 431.00V436.20M174.24 431.00V436.20M175.49 431.00V436.20M176.46 431.00V436.20M182.09 431.00V436.20M183.55 431.00V436.20M184.66 431.00V436.20M185.93 431.00V436.20M187.37 431.00V436.20M188.17 431.00V436.20" stroke="#E24A57" stroke-width="0.7" stroke-opacity="1"/>
<path d="M53.60 393.20 L55.00 392.50 L57.00 392.60 L60.00 393.40 L65.00 394.60 L70.00 396.00 L80.00 398.60 L90.00 401.50 L100.00 404.60 L110.00 407.90 L120.00 411.80 L133.50 417.00 L145.00 421.00 L156.80 424.20 L161.00 425.50 L166.00 425.70 L170.00 424.90 L173.00 423.60 L175.50 421.90 L179.00 418.50 L182.50 413.50 L185.00 408.50 L187.20 400.70 L188.70 396.00 L189.80 393.20" fill="none" stroke="#C41E2B" stroke-width="1.5" stroke-linejoin="round"/>
<text x="48.60" y="413.60" font-size="8.16" fill="#111" stroke="#111" stroke-width="0.15">NES</text>
<text x="69.70" y="413.60" font-size="8.16" fill="#111" stroke="#111" stroke-width="0.15">-2.5105</text>
<text x="48.60" y="421.20" font-size="8.16" fill="#111" stroke="#111" stroke-width="0.15"><tspan font-style="italic">P</tspan><tspan stroke-width="0" font-size="4.2" dy="3.0">adj</tspan></text>
<text x="69.70" y="421.20" font-size="8.16" fill="#111" stroke="#111" stroke-width="0.15">2.02 x 10<tspan stroke-width="0" font-size="4.6" dy="-3.0">-15</tspan></text>
<text x="228.90" y="232.00" font-size="10.71" font-weight="bold" fill="#000" stroke="#000" stroke-width="0.15">f</text>
<text x="270.90" y="253.92" font-size="8.01" text-anchor="end" fill="#111" stroke="#111" stroke-width="0.15">scOVCA5</text>
<line x1="273.60" y1="251.12" x2="276.10" y2="251.12" stroke="#333" stroke-width="0.7"/>
<text x="270.90" y="262.36" font-size="8.01" text-anchor="end" fill="#111" stroke="#111" stroke-width="0.15">scOVCA4</text>
<line x1="273.60" y1="259.56" x2="276.10" y2="259.56" stroke="#333" stroke-width="0.7"/>
<text x="270.90" y="270.80" font-size="8.01" text-anchor="end" fill="#111" stroke="#111" stroke-width="0.15">scOVCA3</text>
<line x1="273.60" y1="268.00" x2="276.10" y2="268.00" stroke="#333" stroke-width="0.7"/>
<text x="270.90" y="279.24" font-size="8.01" text-anchor="end" fill="#111" stroke="#111" stroke-width="0.15">scOVCA2</text>
<line x1="273.60" y1="276.44" x2="276.10" y2="276.44" stroke="#333" stroke-width="0.7"/>
<text x="270.90" y="287.68" font-size="8.01" text-anchor="end" fill="#111" stroke="#111" stroke-width="0.15">scOVCA1</text>
<line x1="273.60" y1="284.88" x2="276.10" y2="284.88" stroke="#333" stroke-width="0.7"/>
<text x="270.90" y="296.12" font-size="8.01" text-anchor="end" fill="#111" stroke="#111" stroke-width="0.15">scCRC5</text>
<line x1="273.60" y1="293.32" x2="276.10" y2="293.32" stroke="#333" stroke-width="0.7"/>
<text x="270.90" y="304.56" font-size="8.01" text-anchor="end" fill="#111" stroke="#111" stroke-width="0.15">scCRC4</text>
<line x1="273.60" y1="301.76" x2="276.10" y2="301.76" stroke="#333" stroke-width="0.7"/>
<text x="270.90" y="313.00" font-size="8.01" text-anchor="end" fill="#111" stroke="#111" stroke-width="0.15">scCRC3</text>
<line x1="273.60" y1="310.20" x2="276.10" y2="310.20" stroke="#333" stroke-width="0.7"/>
<text x="270.90" y="321.44" font-size="8.01" text-anchor="end" fill="#111" stroke="#111" stroke-width="0.15">scCRC2</text>
<line x1="273.60" y1="318.64" x2="276.10" y2="318.64" stroke="#333" stroke-width="0.7"/>
<text x="270.90" y="329.88" font-size="8.01" text-anchor="end" fill="#111" stroke="#111" stroke-width="0.15">scCRC1</text>
<line x1="273.60" y1="327.08" x2="276.10" y2="327.08" stroke="#333" stroke-width="0.7"/>
<text x="270.90" y="338.32" font-size="8.01" text-anchor="end" fill="#111" stroke="#111" stroke-width="0.15">scBRCA6</text>
<line x1="273.60" y1="335.52" x2="276.10" y2="335.52" stroke="#333" stroke-width="0.7"/>
<text x="270.90" y="346.76" font-size="8.01" text-anchor="end" fill="#111" stroke="#111" stroke-width="0.15">scBRCA5</text>
<line x1="273.60" y1="343.96" x2="276.10" y2="343.96" stroke="#333" stroke-width="0.7"/>
<text x="270.90" y="355.20" font-size="8.01" text-anchor="end" fill="#111" stroke="#111" stroke-width="0.15">scBRCA4</text>
<line x1="273.60" y1="352.40" x2="276.10" y2="352.40" stroke="#333" stroke-width="0.7"/>
<text x="270.90" y="363.64" font-size="8.01" text-anchor="end" fill="#111" stroke="#111" stroke-width="0.15">scBRCA3</text>
<line x1="273.60" y1="360.84" x2="276.10" y2="360.84" stroke="#333" stroke-width="0.7"/>
<text x="270.90" y="372.08" font-size="8.01" text-anchor="end" fill="#111" stroke="#111" stroke-width="0.15">scBRCA1</text>
<line x1="273.60" y1="369.28" x2="276.10" y2="369.28" stroke="#333" stroke-width="0.7"/>
<line x1="276.10" y1="246.50" x2="276.10" y2="374.30" stroke="#777" stroke-width="0.9"/>
<rect x="276.60" y="246.90" width="8.60" height="8.44" fill="#F7941E" stroke="#fff" stroke-width="0.6"/>
<rect x="285.20" y="246.90" width="8.60" height="8.44" fill="#F7941E" stroke="#fff" stroke-width="0.6"/>
<rect x="293.80" y="246.90" width="8.60" height="8.44" fill="#F7941E" stroke="#fff" stroke-width="0.6"/>
<rect x="302.40" y="246.90" width="8.60" height="8.44" fill="#F7941E" stroke="#fff" stroke-width="0.6"/>
<rect x="311.00" y="246.90" width="8.60" height="8.44" fill="#FFF3DB" stroke="#fff" stroke-width="0.6"/>
<rect x="319.60" y="246.90" width="8.60" height="8.44" fill="#FFFFFF" stroke="#fff" stroke-width="0.6"/>
<rect x="328.20" y="246.90" width="8.60" height="8.44" fill="#F7941E" stroke="#fff" stroke-width="0.6"/>
<rect x="336.80" y="246.90" width="8.60" height="8.44" fill="#E8EAF5" stroke="#fff" stroke-width="0.6"/>
<rect x="345.40" y="246.90" width="8.60" height="8.44" fill="#F7941E" stroke="#fff" stroke-width="0.6"/>
<rect x="276.60" y="255.34" width="8.60" height="8.44" fill="#F47721" stroke="#fff" stroke-width="0.6"/>
<rect x="285.20" y="255.34" width="8.60" height="8.44" fill="#F7941E" stroke="#fff" stroke-width="0.6"/>
<rect x="293.80" y="255.34" width="8.60" height="8.44" fill="#F7941E" stroke="#fff" stroke-width="0.6"/>
<rect x="302.40" y="255.34" width="8.60" height="8.44" fill="#FFF3DB" stroke="#fff" stroke-width="0.6"/>
<rect x="311.00" y="255.34" width="8.60" height="8.44" fill="#25388C" stroke="#fff" stroke-width="0.6"/>
<rect x="319.60" y="255.34" width="8.60" height="8.44" fill="#F7941E" stroke="#fff" stroke-width="0.6"/>
<rect x="328.20" y="255.34" width="8.60" height="8.44" fill="#AAB0D8" stroke="#fff" stroke-width="0.6"/>
<rect x="336.80" y="255.34" width="8.60" height="8.44" fill="#FEE5A6" stroke="#fff" stroke-width="0.6"/>
<rect x="345.40" y="255.34" width="8.60" height="8.44" fill="#FDD055" stroke="#fff" stroke-width="0.6"/>
<rect x="276.60" y="263.78" width="8.60" height="8.44" fill="#FDD055" stroke="#fff" stroke-width="0.6"/>
<rect x="285.20" y="263.78" width="8.60" height="8.44" fill="#F7941E" stroke="#fff" stroke-width="0.6"/>
<rect x="293.80" y="263.78" width="8.60" height="8.44" fill="#F7941E" stroke="#fff" stroke-width="0.6"/>
<rect x="302.40" y="263.78" width="8.60" height="8.44" fill="#F7941E" stroke="#fff" stroke-width="0.6"/>
<rect x="311.00" y="263.78" width="8.60" height="8.44" fill="#7984C2" stroke="#fff" stroke-width="0.6"/>
<rect x="319.60" y="263.78" width="8.60" height="8.44" fill="#FDD055" stroke="#fff" stroke-width="0.6"/>
<rect x="328.20" y="263.78" width="8.60" height="8.44" fill="#F7941E" stroke="#fff" stroke-width="0.6"/>
<rect x="336.80" y="263.78" width="8.60" height="8.44" fill="#FFFFFF" stroke="#fff" stroke-width="0.6"/>
<rect x="345.40" y="263.78" width="8.60" height="8.44" fill="#25388C" stroke="#fff" stroke-width="0.6"/>
<rect x="276.60" y="272.22" width="8.60" height="8.44" fill="#FABA16" stroke="#fff" stroke-width="0.6"/>
<rect x="285.20" y="272.22" width="8.60" height="8.44" fill="#F7941E" stroke="#fff" stroke-width="0.6"/>
<rect x="293.80" y="272.22" width="8.60" height="8.44" fill="#F7941E" stroke="#fff" stroke-width="0.6"/>
<rect x="302.40" y="272.22" width="8.60" height="8.44" fill="#F7941E" stroke="#fff" stroke-width="0.6"/>
<rect x="311.00" y="272.22" width="8.60" height="8.44" fill="#F7941E" stroke="#fff" stroke-width="0.6"/>
<rect x="319.60" y="272.22" width="8.60" height="8.44" fill="#F47721" stroke="#fff" stroke-width="0.6"/>
<rect x="328.20" y="272.22" width="8.60" height="8.44" fill="#F7941E" stroke="#fff" stroke-width="0.6"/>
<rect x="336.80" y="272.22" width="8.60" height="8.44" fill="#AAB0D8" stroke="#fff" stroke-width="0.6"/>
<rect x="345.40" y="272.22" width="8.60" height="8.44" fill="#25388C" stroke="#fff" stroke-width="0.6"/>
<rect x="276.60" y="280.66" width="8.60" height="8.44" fill="#F7941E" stroke="#fff" stroke-width="0.6"/>
<rect x="285.20" y="280.66" width="8.60" height="8.44" fill="#F7941E" stroke="#fff" stroke-width="0.6"/>
<rect x="293.80" y="280.66" width="8.60" height="8.44" fill="#F47721" stroke="#fff" stroke-width="0.6"/>
<rect x="302.40" y="280.66" width="8.60" height="8.44" fill="#F47721" stroke="#fff" stroke-width="0.6"/>
<rect x="311.00" y="280.66" width="8.60" height="8.44" fill="#FEE5A6" stroke="#fff" stroke-width="0.6"/>
<rect x="319.60" y="280.66" width="8.60" height="8.44" fill="#F7941E" stroke="#fff" stroke-width="0.6"/>
<rect x="328.20" y="280.66" width="8.60" height="8.44" fill="#F7941E" stroke="#fff" stroke-width="0.6"/>
<rect x="336.80" y="280.66" width="8.60" height="8.44" fill="#FEE5A6" stroke="#fff" stroke-width="0.6"/>
<rect x="345.40" y="280.66" width="8.60" height="8.44" fill="#FEE5A6" stroke="#fff" stroke-width="0.6"/>
<rect x="276.60" y="289.10" width="8.60" height="8.44" fill="#F7941E" stroke="#fff" stroke-width="0.6"/>
<rect x="285.20" y="289.10" width="8.60" height="8.44" fill="#FFF3DB" stroke="#fff" stroke-width="0.6"/>
<rect x="293.80" y="289.10" width="8.60" height="8.44" fill="#FABA16" stroke="#fff" stroke-width="0.6"/>
<rect x="302.40" y="289.10" width="8.60" height="8.44" fill="#F7941E" stroke="#fff" stroke-width="0.6"/>
<rect x="311.00" y="289.10" width="8.60" height="8.44" fill="#FDD055" stroke="#fff" stroke-width="0.6"/>
<rect x="319.60" y="289.10" width="8.60" height="8.44" fill="#FDD055" stroke="#fff" stroke-width="0.6"/>
<rect x="328.20" y="289.10" width="8.60" height="8.44" fill="#3B52A3" stroke="#fff" stroke-width="0.6"/>
<rect x="336.80" y="289.10" width="8.60" height="8.44" fill="#F7941E" stroke="#fff" stroke-width="0.6"/>
<rect x="345.40" y="289.10" width="8.60" height="8.44" fill="#FEE5A6" stroke="#fff" stroke-width="0.6"/>
<rect x="276.60" y="297.54" width="8.60" height="8.44" fill="#F7941E" stroke="#fff" stroke-width="0.6"/>
<rect x="285.20" y="297.54" width="8.60" height="8.44" fill="#F7941E" stroke="#fff" stroke-width="0.6"/>
<rect x="293.80" y="297.54" width="8.60" height="8.44" fill="#F47721" stroke="#fff" stroke-width="0.6"/>
<rect x="302.40" y="297.54" width="8.60" height="8.44" fill="#F47721" stroke="#fff" stroke-width="0.6"/>
<rect x="311.00" y="297.54" width="8.60" height="8.44" fill="#F7941E" stroke="#fff" stroke-width="0.6"/>
<rect x="319.60" y="297.54" width="8.60" height="8.44" fill="#FEE5A6" stroke="#fff" stroke-width="0.6"/>
<rect x="328.20" y="297.54" width="8.60" height="8.44" fill="#FEE5A6" stroke="#fff" stroke-width="0.6"/>
<rect x="336.80" y="297.54" width="8.60" height="8.44" fill="#FABA16" stroke="#fff" stroke-width="0.6"/>
<rect x="345.40" y="297.54" width="8.60" height="8.44" fill="#F7941E" stroke="#fff" stroke-width="0.6"/>
<rect x="276.60" y="305.98" width="8.60" height="8.44" fill="#FABA16" stroke="#fff" stroke-width="0.6"/>
<rect x="285.20" y="305.98" width="8.60" height="8.44" fill="#F47721" stroke="#fff" stroke-width="0.6"/>
<rect x="293.80" y="305.98" width="8.60" height="8.44" fill="#F47721" stroke="#fff" stroke-width="0.6"/>
<rect x="302.40" y="305.98" width="8.60" height="8.44" fill="#F47721" stroke="#fff" stroke-width="0.6"/>
<rect x="311.00" y="305.98" width="8.60" height="8.44" fill="#F7941E" stroke="#fff" stroke-width="0.6"/>
<rect x="319.60" y="305.98" width="8.60" height="8.44" fill="#FDD055" stroke="#fff" stroke-width="0.6"/>
<rect x="328.20" y="305.98" width="8.60" height="8.44" fill="#FABA16" stroke="#fff" stroke-width="0.6"/>
<rect x="336.80" y="305.98" width="8.60" height="8.44" fill="#25388C" stroke="#fff" stroke-width="0.6"/>
<rect x="345.40" y="305.98" width="8.60" height="8.44" fill="#F7941E" stroke="#fff" stroke-width="0.6"/>
<rect x="276.60" y="314.42" width="8.60" height="8.44" fill="#F7941E" stroke="#fff" stroke-width="0.6"/>
<rect x="285.20" y="314.42" width="8.60" height="8.44" fill="#F7941E" stroke="#fff" stroke-width="0.6"/>
<rect x="293.80" y="314.42" width="8.60" height="8.44" fill="#F7941E" stroke="#fff" stroke-width="0.6"/>
<rect x="302.40" y="314.42" width="8.60" height="8.44" fill="#F7941E" stroke="#fff" stroke-width="0.6"/>
<rect x="311.00" y="314.42" width="8.60" height="8.44" fill="#F7941E" stroke="#fff" stroke-width="0.6"/>
<rect x="319.60" y="314.42" width="8.60" height="8.44" fill="#F47721" stroke="#fff" stroke-width="0.6"/>
<rect x="328.20" y="314.42" width="8.60" height="8.44" fill="#F7941E" stroke="#fff" stroke-width="0.6"/>
<rect x="336.80" y="314.42" width="8.60" height="8.44" fill="#FABA16" stroke="#fff" stroke-width="0.6"/>
<rect x="345.40" y="314.42" width="8.60" height="8.44" fill="#FDD055" stroke="#fff" stroke-width="0.6"/>
<rect x="276.60" y="322.86" width="8.60" height="8.44" fill="#F7941E" stroke="#fff" stroke-width="0.6"/>
<rect x="285.20" y="322.86" width="8.60" height="8.44" fill="#25388C" stroke="#fff" stroke-width="0.6"/>
<rect x="293.80" y="322.86" width="8.60" height="8.44" fill="#F15A29" stroke="#fff" stroke-width="0.6"/>
<rect x="302.40" y="322.86" width="8.60" height="8.44" fill="#25388C" stroke="#fff" stroke-width="0.6"/>
<rect x="311.00" y="322.86" width="8.60" height="8.44" fill="#F47721" stroke="#fff" stroke-width="0.6"/>
<rect x="319.60" y="322.86" width="8.60" height="8.44" fill="#F47721" stroke="#fff" stroke-width="0.6"/>
<rect x="328.20" y="322.86" width="8.60" height="8.44" fill="#F7941E" stroke="#fff" stroke-width="0.6"/>
<rect x="336.80" y="322.86" width="8.60" height="8.44" fill="#3B52A3" stroke="#fff" stroke-width="0.6"/>
<rect x="345.40" y="322.86" width="8.60" height="8.44" fill="#FDD055" stroke="#fff" stroke-width="0.6"/>
<rect x="276.60" y="331.30" width="8.60" height="8.44" fill="#FABA16" stroke="#fff" stroke-width="0.6"/>
<rect x="285.20" y="331.30" width="8.60" height="8.44" fill="#F7941E" stroke="#fff" stroke-width="0.6"/>
<rect x="293.80" y="331.30" width="8.60" height="8.44" fill="#F7941E" stroke="#fff" stroke-width="0.6"/>
<rect x="302.40" y="331.30" width="8.60" height="8.44" fill="#F7941E" stroke="#fff" stroke-width="0.6"/>
<rect x="311.00" y="331.30" width="8.60" height="8.44" fill="#FEE5A6" stroke="#fff" stroke-width="0.6"/>
<rect x="319.60" y="331.30" width="8.60" height="8.44" fill="#F7941E" stroke="#fff" stroke-width="0.6"/>
<rect x="328.20" y="331.30" width="8.60" height="8.44" fill="#F7941E" stroke="#fff" stroke-width="0.6"/>
<rect x="336.80" y="331.30" width="8.60" height="8.44" fill="#FEE5A6" stroke="#fff" stroke-width="0.6"/>
<rect x="345.40" y="331.30" width="8.60" height="8.44" fill="#FABA16" stroke="#fff" stroke-width="0.6"/>
<rect x="276.60" y="339.74" width="8.60" height="8.44" fill="#F7941E" stroke="#fff" stroke-width="0.6"/>
<rect x="285.20" y="339.74" width="8.60" height="8.44" fill="#F7941E" stroke="#fff" stroke-width="0.6"/>
<rect x="293.80" y="339.74" width="8.60" height="8.44" fill="#F7941E" stroke="#fff" stroke-width="0.6"/>
<rect x="302.40" y="339.74" width="8.60" height="8.44" fill="#F47721" stroke="#fff" stroke-width="0.6"/>
<rect x="311.00" y="339.74" width="8.60" height="8.44" fill="#F7941E" stroke="#fff" stroke-width="0.6"/>
<rect x="319.60" y="339.74" width="8.60" height="8.44" fill="#FABA16" stroke="#fff" stroke-width="0.6"/>
<rect x="328.20" y="339.74" width="8.60" height="8.44" fill="#F7941E" stroke="#fff" stroke-width="0.6"/>
<rect x="336.80" y="339.74" width="8.60" height="8.44" fill="#F7941E" stroke="#fff" stroke-width="0.6"/>
<rect x="345.40" y="339.74" width="8.60" height="8.44" fill="#F47721" stroke="#fff" stroke-width="0.6"/>
<rect x="276.60" y="348.18" width="8.60" height="8.44" fill="#FFF3DB" stroke="#fff" stroke-width="0.6"/>
<rect x="285.20" y="348.18" width="8.60" height="8.44" fill="#F7941E" stroke="#fff" stroke-width="0.6"/>
<rect x="293.80" y="348.18" width="8.60" height="8.44" fill="#F47721" stroke="#fff" stroke-width="0.6"/>
<rect x="302.40" y="348.18" width="8.60" height="8.44" fill="#AAB0D8" stroke="#fff" stroke-width="0.6"/>
<rect x="311.00" y="348.18" width="8.60" height="8.44" fill="#F7941E" stroke="#fff" stroke-width="0.6"/>
<rect x="319.60" y="348.18" width="8.60" height="8.44" fill="#F47721" stroke="#fff" stroke-width="0.6"/>
<rect x="328.20" y="348.18" width="8.60" height="8.44" fill="#E8EAF5" stroke="#fff" stroke-width="0.6"/>
<rect x="336.80" y="348.18" width="8.60" height="8.44" fill="#E8EAF5" stroke="#fff" stroke-width="0.6"/>
<rect x="345.40" y="348.18" width="8.60" height="8.44" fill="#25388C" stroke="#fff" stroke-width="0.6"/>
<rect x="276.60" y="356.62" width="8.60" height="8.44" fill="#F7941E" stroke="#fff" stroke-width="0.6"/>
<rect x="285.20" y="356.62" width="8.60" height="8.44" fill="#FDD055" stroke="#fff" stroke-width="0.6"/>
<rect x="293.80" y="356.62" width="8.60" height="8.44" fill="#F7941E" stroke="#fff" stroke-width="0.6"/>
<rect x="302.40" y="356.62" width="8.60" height="8.44" fill="#FDD055" stroke="#fff" stroke-width="0.6"/>
<rect x="311.00" y="356.62" width="8.60" height="8.44" fill="#FDD055" stroke="#fff" stroke-width="0.6"/>
<rect x="319.60" y="356.62" width="8.60" height="8.44" fill="#FFF3DB" stroke="#fff" stroke-width="0.6"/>
<rect x="328.20" y="356.62" width="8.60" height="8.44" fill="#FFFFFF" stroke="#fff" stroke-width="0.6"/>
<rect x="336.80" y="356.62" width="8.60" height="8.44" fill="#F7941E" stroke="#fff" stroke-width="0.6"/>
<rect x="345.40" y="356.62" width="8.60" height="8.44" fill="#F7941E" stroke="#fff" stroke-width="0.6"/>
<rect x="276.60" y="365.06" width="8.60" height="8.44" fill="#F7941E" stroke="#fff" stroke-width="0.6"/>
<rect x="285.20" y="365.06" width="8.60" height="8.44" fill="#F7941E" stroke="#fff" stroke-width="0.6"/>
<rect x="293.80" y="365.06" width="8.60" height="8.44" fill="#F7941E" stroke="#fff" stroke-width="0.6"/>
<rect x="302.40" y="365.06" width="8.60" height="8.44" fill="#FABA16" stroke="#fff" stroke-width="0.6"/>
<rect x="311.00" y="365.06" width="8.60" height="8.44" fill="#F7941E" stroke="#fff" stroke-width="0.6"/>
<rect x="319.60" y="365.06" width="8.60" height="8.44" fill="#FABA16" stroke="#fff" stroke-width="0.6"/>
<rect x="328.20" y="365.06" width="8.60" height="8.44" fill="#FEE5A6" stroke="#fff" stroke-width="0.6"/>
<rect x="336.80" y="365.06" width="8.60" height="8.44" fill="#FEE5A6" stroke="#fff" stroke-width="0.6"/>
<rect x="345.40" y="365.06" width="8.60" height="8.44" fill="#F7941E" stroke="#fff" stroke-width="0.6"/>
<rect x="276.30" y="231.6" width="78.40" height="14.5" fill="#fff" stroke="#333" stroke-width="0.9"/>
<text x="315.50" y="241.30" font-size="8.16" text-anchor="middle" fill="#111" stroke="#111" stroke-width="0.15">Activation</text>
<line x1="276.30" y1="374.30" x2="354.40" y2="374.30" stroke="#333" stroke-width="0.9"/>
<line x1="280.90" y1="374.30" x2="280.90" y2="376.20" stroke="#333" stroke-width="0.7"/>
<text x="283.60" y="379.60" font-size="7.85" text-anchor="end" font-style="italic" fill="#111" stroke="#111" stroke-width="0.15" transform="rotate(-90 283.60 379.60)">CD44</text>
<line x1="289.50" y1="374.30" x2="289.50" y2="376.20" stroke="#333" stroke-width="0.7"/>
<text x="292.20" y="379.60" font-size="7.85" text-anchor="end" font-style="italic" fill="#111" stroke="#111" stroke-width="0.15" transform="rotate(-90 292.20 379.60)">CD69</text>
<line x1="298.10" y1="374.30" x2="298.10" y2="376.20" stroke="#333" stroke-width="0.7"/>
<text x="300.80" y="379.60" font-size="7.85" text-anchor="end" font-style="italic" fill="#111" stroke="#111" stroke-width="0.15" transform="rotate(-90 300.80 379.60)">FOS</text>
<line x1="306.70" y1="374.30" x2="306.70" y2="376.20" stroke="#333" stroke-width="0.7"/>
<text x="309.40" y="379.60" font-size="7.85" text-anchor="end" font-style="italic" fill="#111" stroke="#111" stroke-width="0.15" transform="rotate(-90 309.40 379.60)">FOSB</text>
<line x1="315.30" y1="374.30" x2="315.30" y2="376.20" stroke="#333" stroke-width="0.7"/>
<text x="318.00" y="379.60" font-size="7.85" text-anchor="end" font-style="italic" fill="#111" stroke="#111" stroke-width="0.15" transform="rotate(-90 318.00 379.60)">JUN</text>
<line x1="323.90" y1="374.30" x2="323.90" y2="376.20" stroke="#333" stroke-width="0.7"/>
<text x="326.60" y="379.60" font-size="7.85" text-anchor="end" font-style="italic" fill="#111" stroke="#111" stroke-width="0.15" transform="rotate(-90 326.60 379.60)">JUNB</text>
<line x1="332.50" y1="374.30" x2="332.50" y2="376.20" stroke="#333" stroke-width="0.7"/>
<text x="335.20" y="379.60" font-size="7.85" text-anchor="end" font-style="italic" fill="#111" stroke="#111" stroke-width="0.15" transform="rotate(-90 335.20 379.60)">JUND</text>
<line x1="341.10" y1="374.30" x2="341.10" y2="376.20" stroke="#333" stroke-width="0.7"/>
<text x="343.80" y="379.60" font-size="7.85" text-anchor="end" font-style="italic" fill="#111" stroke="#111" stroke-width="0.15" transform="rotate(-90 343.80 379.60)">NFATC1</text>
<line x1="349.70" y1="374.30" x2="349.70" y2="376.20" stroke="#333" stroke-width="0.7"/>
<text x="352.40" y="379.60" font-size="7.85" text-anchor="end" font-style="italic" fill="#111" stroke="#111" stroke-width="0.15" transform="rotate(-90 352.40 379.60)">IFNG</text>
<rect x="363.40" y="246.90" width="8.60" height="8.44" fill="#FFF3DB" stroke="#fff" stroke-width="0.6"/>
<rect x="372.00" y="246.90" width="8.60" height="8.44" fill="#FEE5A6" stroke="#fff" stroke-width="0.6"/>
<rect x="380.60" y="246.90" width="8.60" height="8.44" fill="#FFF3DB" stroke="#fff" stroke-width="0.6"/>
<rect x="389.20" y="246.90" width="8.60" height="8.44" fill="#FEE5A6" stroke="#fff" stroke-width="0.6"/>
<rect x="397.80" y="246.90" width="8.60" height="8.44" fill="#FABA16" stroke="#fff" stroke-width="0.6"/>
<rect x="406.40" y="246.90" width="8.60" height="8.44" fill="#FDD055" stroke="#fff" stroke-width="0.6"/>
<rect x="363.40" y="255.34" width="8.60" height="8.44" fill="#F47721" stroke="#fff" stroke-width="0.6"/>
<rect x="372.00" y="255.34" width="8.60" height="8.44" fill="#F47721" stroke="#fff" stroke-width="0.6"/>
<rect x="380.60" y="255.34" width="8.60" height="8.44" fill="#FABA16" stroke="#fff" stroke-width="0.6"/>
<rect x="389.20" y="255.34" width="8.60" height="8.44" fill="#FDD055" stroke="#fff" stroke-width="0.6"/>
<rect x="397.80" y="255.34" width="8.60" height="8.44" fill="#FEE5A6" stroke="#fff" stroke-width="0.6"/>
<rect x="406.40" y="255.34" width="8.60" height="8.44" fill="#F7941E" stroke="#fff" stroke-width="0.6"/>
<rect x="363.40" y="263.78" width="8.60" height="8.44" fill="#25388C" stroke="#fff" stroke-width="0.6"/>
<rect x="372.00" y="263.78" width="8.60" height="8.44" fill="#AAB0D8" stroke="#fff" stroke-width="0.6"/>
<rect x="380.60" y="263.78" width="8.60" height="8.44" fill="#7984C2" stroke="#fff" stroke-width="0.6"/>
<rect x="389.20" y="263.78" width="8.60" height="8.44" fill="#F7941E" stroke="#fff" stroke-width="0.6"/>
<rect x="397.80" y="263.78" width="8.60" height="8.44" fill="#FABA16" stroke="#fff" stroke-width="0.6"/>
<rect x="406.40" y="263.78" width="8.60" height="8.44" fill="#3B52A3" stroke="#fff" stroke-width="0.6"/>
<rect x="363.40" y="272.22" width="8.60" height="8.44" fill="#AAB0D8" stroke="#fff" stroke-width="0.6"/>
<rect x="372.00" y="272.22" width="8.60" height="8.44" fill="#E8EAF5" stroke="#fff" stroke-width="0.6"/>
<rect x="380.60" y="272.22" width="8.60" height="8.44" fill="#FFF3DB" stroke="#fff" stroke-width="0.6"/>
<rect x="389.20" y="272.22" width="8.60" height="8.44" fill="#F7941E" stroke="#fff" stroke-width="0.6"/>
<rect x="397.80" y="272.22" width="8.60" height="8.44" fill="#FFFFFF" stroke="#fff" stroke-width="0.6"/>
<rect x="406.40" y="272.22" width="8.60" height="8.44" fill="#25388C" stroke="#fff" stroke-width="0.6"/>
<rect x="363.40" y="280.66" width="8.60" height="8.44" fill="#F7941E" stroke="#fff" stroke-width="0.6"/>
<rect x="372.00" y="280.66" width="8.60" height="8.44" fill="#F7941E" stroke="#fff" stroke-width="0.6"/>
<rect x="380.60" y="280.66" width="8.60" height="8.44" fill="#AAB0D8" stroke="#fff" stroke-width="0.6"/>
<rect x="389.20" y="280.66" width="8.60" height="8.44" fill="#F7941E" stroke="#fff" stroke-width="0.6"/>
<rect x="397.80" y="280.66" width="8.60" height="8.44" fill="#F7941E" stroke="#fff" stroke-width="0.6"/>
<rect x="406.40" y="280.66" width="8.60" height="8.44" fill="#FEE5A6" stroke="#fff" stroke-width="0.6"/>
<rect x="363.40" y="289.10" width="8.60" height="8.44" fill="#FFF3DB" stroke="#fff" stroke-width="0.6"/>
<rect x="372.00" y="289.10" width="8.60" height="8.44" fill="#F7941E" stroke="#fff" stroke-width="0.6"/>
<rect x="380.60" y="289.10" width="8.60" height="8.44" fill="#25388C" stroke="#fff" stroke-width="0.6"/>
<rect x="389.20" y="289.10" width="8.60" height="8.44" fill="#FABA16" stroke="#fff" stroke-width="0.6"/>
<rect x="397.80" y="289.10" width="8.60" height="8.44" fill="#F47721" stroke="#fff" stroke-width="0.6"/>
<rect x="406.40" y="289.10" width="8.60" height="8.44" fill="#F7941E" stroke="#fff" stroke-width="0.6"/>
<rect x="363.40" y="297.54" width="8.60" height="8.44" fill="#F7941E" stroke="#fff" stroke-width="0.6"/>
<rect x="372.00" y="297.54" width="8.60" height="8.44" fill="#7984C2" stroke="#fff" stroke-width="0.6"/>
<rect x="380.60" y="297.54" width="8.60" height="8.44" fill="#FFF3DB" stroke="#fff" stroke-width="0.6"/>
<rect x="389.20" y="297.54" width="8.60" height="8.44" fill="#F7941E" stroke="#fff" stroke-width="0.6"/>
<rect x="397.80" y="297.54" width="8.60" height="8.44" fill="#F47721" stroke="#fff" stroke-width="0.6"/>
<rect x="406.40" y="297.54" width="8.60" height="8.44" fill="#FFF3DB" stroke="#fff" stroke-width="0.6"/>
<rect x="363.40" y="305.98" width="8.60" height="8.44" fill="#F7941E" stroke="#fff" stroke-width="0.6"/>
<rect x="372.00" y="305.98" width="8.60" height="8.44" fill="#F7941E" stroke="#fff" stroke-width="0.6"/>
<rect x="380.60" y="305.98" width="8.60" height="8.44" fill="#FFF3DB" stroke="#fff" stroke-width="0.6"/>
<rect x="389.20" y="305.98" width="8.60" height="8.44" fill="#F7941E" stroke="#fff" stroke-width="0.6"/>
<rect x="397.80" y="305.98" width="8.60" height="8.44" fill="#F47721" stroke="#fff" stroke-width="0.6"/>
<rect x="406.40" y="305.98" width="8.60" height="8.44" fill="#F7941E" stroke="#fff" stroke-width="0.6"/>
<rect x="363.40" y="314.42" width="8.60" height="8.44" fill="#F7941E" stroke="#fff" stroke-width="0.6"/>
<rect x="372.00" y="314.42" width="8.60" height="8.44" fill="#F7941E" stroke="#fff" stroke-width="0.6"/>
<rect x="380.60" y="314.42" width="8.60" height="8.44" fill="#F7941E" stroke="#fff" stroke-width="0.6"/>
<rect x="389.20" y="314.42" width="8.60" height="8.44" fill="#F7941E" stroke="#fff" stroke-width="0.6"/>
<rect x="397.80" y="314.42" width="8.60" height="8.44" fill="#FABA16" stroke="#fff" stroke-width="0.6"/>
<rect x="406.40" y="314.42" width="8.60" height="8.44" fill="#F7941E" stroke="#fff" stroke-width="0.6"/>
<rect x="363.40" y="322.86" width="8.60" height="8.44" fill="#25388C" stroke="#fff" stroke-width="0.6"/>
<rect x="372.00" y="322.86" width="8.60" height="8.44" fill="#FABA16" stroke="#fff" stroke-width="0.6"/>
<rect x="380.60" y="322.86" width="8.60" height="8.44" fill="#FEE5A6" stroke="#fff" stroke-width="0.6"/>
<rect x="389.20" y="322.86" width="8.60" height="8.44" fill="#F47721" stroke="#fff" stroke-width="0.6"/>
<rect x="397.80" y="322.86" width="8.60" height="8.44" fill="#F47721" stroke="#fff" stroke-width="0.6"/>
<rect x="406.40" y="322.86" width="8.60" height="8.44" fill="#F7941E" stroke="#fff" stroke-width="0.6"/>
<rect x="363.40" y="331.30" width="8.60" height="8.44" fill="#FDD055" stroke="#fff" stroke-width="0.6"/>
<rect x="372.00" y="331.30" width="8.60" height="8.44" fill="#FABA16" stroke="#fff" stroke-width="0.6"/>
<rect x="380.60" y="331.30" width="8.60" height="8.44" fill="#F7941E" stroke="#fff" stroke-width="0.6"/>
<rect x="389.20" y="331.30" width="8.60" height="8.44" fill="#F7941E" stroke="#fff" stroke-width="0.6"/>
<rect x="397.80" y="331.30" width="8.60" height="8.44" fill="#FDD055" stroke="#fff" stroke-width="0.6"/>
<rect x="406.40" y="331.30" width="8.60" height="8.44" fill="#AAB0D8" stroke="#fff" stroke-width="0.6"/>
<rect x="363.40" y="339.74" width="8.60" height="8.44" fill="#F7941E" stroke="#fff" stroke-width="0.6"/>
<rect x="372.00" y="339.74" width="8.60" height="8.44" fill="#FABA16" stroke="#fff" stroke-width="0.6"/>
<rect x="380.60" y="339.74" width="8.60" height="8.44" fill="#F47721" stroke="#fff" stroke-width="0.6"/>
<rect x="389.20" y="339.74" width="8.60" height="8.44" fill="#FFF3DB" stroke="#fff" stroke-width="0.6"/>
<rect x="397.80" y="339.74" width="8.60" height="8.44" fill="#F7941E" stroke="#fff" stroke-width="0.6"/>
<rect x="406.40" y="339.74" width="8.60" height="8.44" fill="#FDD055" stroke="#fff" stroke-width="0.6"/>
<rect x="363.40" y="348.18" width="8.60" height="8.44" fill="#3B52A3" stroke="#fff" stroke-width="0.6"/>
<rect x="372.00" y="348.18" width="8.60" height="8.44" fill="#25388C" stroke="#fff" stroke-width="0.6"/>
<rect x="380.60" y="348.18" width="8.60" height="8.44" fill="#F7941E" stroke="#fff" stroke-width="0.6"/>
<rect x="389.20" y="348.18" width="8.60" height="8.44" fill="#3B52A3" stroke="#fff" stroke-width="0.6"/>
<rect x="397.80" y="348.18" width="8.60" height="8.44" fill="#FABA16" stroke="#fff" stroke-width="0.6"/>
<rect x="406.40" y="348.18" width="8.60" height="8.44" fill="#F7941E" stroke="#fff" stroke-width="0.6"/>
<rect x="363.40" y="356.62" width="8.60" height="8.44" fill="#FDD055" stroke="#fff" stroke-width="0.6"/>
<rect x="372.00" y="356.62" width="8.60" height="8.44" fill="#FABA16" stroke="#fff" stroke-width="0.6"/>
<rect x="380.60" y="356.62" width="8.60" height="8.44" fill="#FFFFFF" stroke="#fff" stroke-width="0.6"/>
<rect x="389.20" y="356.62" width="8.60" height="8.44" fill="#E8EAF5" stroke="#fff" stroke-width="0.6"/>
<rect x="397.80" y="356.62" width="8.60" height="8.44" fill="#FABA16" stroke="#fff" stroke-width="0.6"/>
<rect x="406.40" y="356.62" width="8.60" height="8.44" fill="#FDD055" stroke="#fff" stroke-width="0.6"/>
<rect x="363.40" y="365.06" width="8.60" height="8.44" fill="#FFFFFF" stroke="#fff" stroke-width="0.6"/>
<rect x="372.00" y="365.06" width="8.60" height="8.44" fill="#FEE5A6" stroke="#fff" stroke-width="0.6"/>
<rect x="380.60" y="365.06" width="8.60" height="8.44" fill="#F7941E" stroke="#fff" stroke-width="0.6"/>
<rect x="389.20" y="365.06" width="8.60" height="8.44" fill="#25388C" stroke="#fff" stroke-width="0.6"/>
<rect x="397.80" y="365.06" width="8.60" height="8.44" fill="#FABA16" stroke="#fff" stroke-width="0.6"/>
<rect x="406.40" y="365.06" width="8.60" height="8.44" fill="#FFF3DB" stroke="#fff" stroke-width="0.6"/>
<rect x="363.10" y="231.6" width="52.60" height="14.5" fill="#fff" stroke="#333" stroke-width="0.9"/>
<text x="389.40" y="241.30" font-size="8.16" text-anchor="middle" fill="#111" stroke="#111" stroke-width="0.15">NF&#954;B</text>
<line x1="363.10" y1="374.30" x2="415.40" y2="374.30" stroke="#333" stroke-width="0.9"/>
<line x1="367.70" y1="374.30" x2="367.70" y2="376.20" stroke="#333" stroke-width="0.7"/>
<text x="370.40" y="379.60" font-size="7.85" text-anchor="end" font-style="italic" fill="#111" stroke="#111" stroke-width="0.15" transform="rotate(-90 370.40 379.60)">NFKB1</text>
<line x1="376.30" y1="374.30" x2="376.30" y2="376.20" stroke="#333" stroke-width="0.7"/>
<text x="379.00" y="379.60" font-size="7.85" text-anchor="end" font-style="italic" fill="#111" stroke="#111" stroke-width="0.15" transform="rotate(-90 379.00 379.60)">NFKBIZ</text>
<line x1="384.90" y1="374.30" x2="384.90" y2="376.20" stroke="#333" stroke-width="0.7"/>
<text x="387.60" y="379.60" font-size="7.85" text-anchor="end" font-style="italic" fill="#111" stroke="#111" stroke-width="0.15" transform="rotate(-90 387.60 379.60)">NR4A1</text>
<line x1="393.50" y1="374.30" x2="393.50" y2="376.20" stroke="#333" stroke-width="0.7"/>
<text x="396.20" y="379.60" font-size="7.85" text-anchor="end" font-style="italic" fill="#111" stroke="#111" stroke-width="0.15" transform="rotate(-90 396.20 379.60)">NR4A2</text>
<line x1="402.10" y1="374.30" x2="402.10" y2="376.20" stroke="#333" stroke-width="0.7"/>
<text x="404.80" y="379.60" font-size="7.85" text-anchor="end" font-style="italic" fill="#111" stroke="#111" stroke-width="0.15" transform="rotate(-90 404.80 379.60)">NR4A3</text>
<line x1="410.70" y1="374.30" x2="410.70" y2="376.20" stroke="#333" stroke-width="0.7"/>
<text x="413.40" y="379.60" font-size="7.85" text-anchor="end" font-style="italic" fill="#111" stroke="#111" stroke-width="0.15" transform="rotate(-90 413.40 379.60)">RELB</text>
<rect x="424.50" y="246.90" width="8.60" height="8.44" fill="#FFFFFF" stroke="#fff" stroke-width="0.6"/>
<rect x="433.10" y="246.90" width="8.60" height="8.44" fill="#FFF3DB" stroke="#fff" stroke-width="0.6"/>
<rect x="441.70" y="246.90" width="8.60" height="8.44" fill="#25388C" stroke="#fff" stroke-width="0.6"/>
<rect x="450.30" y="246.90" width="8.60" height="8.44" fill="#7984C2" stroke="#fff" stroke-width="0.6"/>
<rect x="424.50" y="255.34" width="8.60" height="8.44" fill="#FFF3DB" stroke="#fff" stroke-width="0.6"/>
<rect x="433.10" y="255.34" width="8.60" height="8.44" fill="#3B52A3" stroke="#fff" stroke-width="0.6"/>
<rect x="441.70" y="255.34" width="8.60" height="8.44" fill="#25388C" stroke="#fff" stroke-width="0.6"/>
<rect x="450.30" y="255.34" width="8.60" height="8.44" fill="#F7941E" stroke="#fff" stroke-width="0.6"/>
<rect x="424.50" y="263.78" width="8.60" height="8.44" fill="#FDD055" stroke="#fff" stroke-width="0.6"/>
<rect x="433.10" y="263.78" width="8.60" height="8.44" fill="#FFF3DB" stroke="#fff" stroke-width="0.6"/>
<rect x="441.70" y="263.78" width="8.60" height="8.44" fill="#3B52A3" stroke="#fff" stroke-width="0.6"/>
<rect x="450.30" y="263.78" width="8.60" height="8.44" fill="#D0D3EA" stroke="#fff" stroke-width="0.6"/>
<rect x="424.50" y="272.22" width="8.60" height="8.44" fill="#25388C" stroke="#fff" stroke-width="0.6"/>
<rect x="433.10" y="272.22" width="8.60" height="8.44" fill="#7984C2" stroke="#fff" stroke-width="0.6"/>
<rect x="441.70" y="272.22" width="8.60" height="8.44" fill="#25388C" stroke="#fff" stroke-width="0.6"/>
<rect x="450.30" y="272.22" width="8.60" height="8.44" fill="#3B52A3" stroke="#fff" stroke-width="0.6"/>
<rect x="424.50" y="280.66" width="8.60" height="8.44" fill="#3B52A3" stroke="#fff" stroke-width="0.6"/>
<rect x="433.10" y="280.66" width="8.60" height="8.44" fill="#5A6CB4" stroke="#fff" stroke-width="0.6"/>
<rect x="441.70" y="280.66" width="8.60" height="8.44" fill="#25388C" stroke="#fff" stroke-width="0.6"/>
<rect x="450.30" y="280.66" width="8.60" height="8.44" fill="#FFF3DB" stroke="#fff" stroke-width="0.6"/>
<rect x="424.50" y="289.10" width="8.60" height="8.44" fill="#25388C" stroke="#fff" stroke-width="0.6"/>
<rect x="433.10" y="289.10" width="8.60" height="8.44" fill="#25388C" stroke="#fff" stroke-width="0.6"/>
<rect x="441.70" y="289.10" width="8.60" height="8.44" fill="#25388C" stroke="#fff" stroke-width="0.6"/>
<rect x="450.30" y="289.10" width="8.60" height="8.44" fill="#5A6CB4" stroke="#fff" stroke-width="0.6"/>
<rect x="424.50" y="297.54" width="8.60" height="8.44" fill="#25388C" stroke="#fff" stroke-width="0.6"/>
<rect x="433.10" y="297.54" width="8.60" height="8.44" fill="#25388C" stroke="#fff" stroke-width="0.6"/>
<rect x="441.70" y="297.54" width="8.60" height="8.44" fill="#25388C" stroke="#fff" stroke-width="0.6"/>
<rect x="450.30" y="297.54" width="8.60" height="8.44" fill="#FFF3DB" stroke="#fff" stroke-width="0.6"/>
<rect x="424.50" y="305.98" width="8.60" height="8.44" fill="#AAB0D8" stroke="#fff" stroke-width="0.6"/>
<rect x="433.10" y="305.98" width="8.60" height="8.44" fill="#25388C" stroke="#fff" stroke-width="0.6"/>
<rect x="441.70" y="305.98" width="8.60" height="8.44" fill="#25388C" stroke="#fff" stroke-width="0.6"/>
<rect x="450.30" y="305.98" width="8.60" height="8.44" fill="#AAB0D8" stroke="#fff" stroke-width="0.6"/>
<rect x="424.50" y="314.42" width="8.60" height="8.44" fill="#7984C2" stroke="#fff" stroke-width="0.6"/>
<rect x="433.10" y="314.42" width="8.60" height="8.44" fill="#D0D3EA" stroke="#fff" stroke-width="0.6"/>
<rect x="441.70" y="314.42" width="8.60" height="8.44" fill="#D0D3EA" stroke="#fff" stroke-width="0.6"/>
<rect x="450.30" y="314.42" width="8.60" height="8.44" fill="#FDD055" stroke="#fff" stroke-width="0.6"/>
<rect x="424.50" y="322.86" width="8.60" height="8.44" fill="#25388C" stroke="#fff" stroke-width="0.6"/>
<rect x="433.10" y="322.86" width="8.60" height="8.44" fill="#25388C" stroke="#fff" stroke-width="0.6"/>
<rect x="441.70" y="322.86" width="8.60" height="8.44" fill="#25388C" stroke="#fff" stroke-width="0.6"/>
<rect x="450.30" y="322.86" width="8.60" height="8.44" fill="#25388C" stroke="#fff" stroke-width="0.6"/>
<rect x="424.50" y="331.30" width="8.60" height="8.44" fill="#25388C" stroke="#fff" stroke-width="0.6"/>
<rect x="433.10" y="331.30" width="8.60" height="8.44" fill="#7984C2" stroke="#fff" stroke-width="0.6"/>
<rect x="441.70" y="331.30" width="8.60" height="8.44" fill="#25388C" stroke="#fff" stroke-width="0.6"/>
<rect x="450.30" y="331.30" width="8.60" height="8.44" fill="#E8EAF5" stroke="#fff" stroke-width="0.6"/>
<rect x="424.50" y="339.74" width="8.60" height="8.44" fill="#3B52A3" stroke="#fff" stroke-width="0.6"/>
<rect x="433.10" y="339.74" width="8.60" height="8.44" fill="#3B52A3" stroke="#fff" stroke-width="0.6"/>
<rect x="441.70" y="339.74" width="8.60" height="8.44" fill="#E8EAF5" stroke="#fff" stroke-width="0.6"/>
<rect x="450.30" y="339.74" width="8.60" height="8.44" fill="#F7941E" stroke="#fff" stroke-width="0.6"/>
<rect x="424.50" y="348.18" width="8.60" height="8.44" fill="#FDD055" stroke="#fff" stroke-width="0.6"/>
<rect x="433.10" y="348.18" width="8.60" height="8.44" fill="#F7941E" stroke="#fff" stroke-width="0.6"/>
<rect x="441.70" y="348.18" width="8.60" height="8.44" fill="#25388C" stroke="#fff" stroke-width="0.6"/>
<rect x="450.30" y="348.18" width="8.60" height="8.44" fill="#AAB0D8" stroke="#fff" stroke-width="0.6"/>
<rect x="424.50" y="356.62" width="8.60" height="8.44" fill="#AAB0D8" stroke="#fff" stroke-width="0.6"/>
<rect x="433.10" y="356.62" width="8.60" height="8.44" fill="#3B52A3" stroke="#fff" stroke-width="0.6"/>
<rect x="441.70" y="356.62" width="8.60" height="8.44" fill="#25388C" stroke="#fff" stroke-width="0.6"/>
<rect x="450.30" y="356.62" width="8.60" height="8.44" fill="#E8EAF5" stroke="#fff" stroke-width="0.6"/>
<rect x="424.50" y="365.06" width="8.60" height="8.44" fill="#3B52A3" stroke="#fff" stroke-width="0.6"/>
<rect x="433.10" y="365.06" width="8.60" height="8.44" fill="#25388C" stroke="#fff" stroke-width="0.6"/>
<rect x="441.70" y="365.06" width="8.60" height="8.44" fill="#FFF3DB" stroke="#fff" stroke-width="0.6"/>
<rect x="450.30" y="365.06" width="8.60" height="8.44" fill="#D0D3EA" stroke="#fff" stroke-width="0.6"/>
<rect x="424.20" y="231.6" width="35.40" height="14.5" fill="#fff" stroke="#333" stroke-width="0.9"/>
<text x="441.90" y="241.30" font-size="8.16" text-anchor="middle" fill="#111" stroke="#111" stroke-width="0.15">TCR</text>
<line x1="424.20" y1="374.30" x2="459.30" y2="374.30" stroke="#333" stroke-width="0.9"/>
<line x1="428.80" y1="374.30" x2="428.80" y2="376.20" stroke="#333" stroke-width="0.7"/>
<text x="431.50" y="379.60" font-size="7.85" text-anchor="end" font-style="italic" fill="#111" stroke="#111" stroke-width="0.15" transform="rotate(-90 431.50 379.60)">CD3D</text>
<line x1="437.40" y1="374.30" x2="437.40" y2="376.20" stroke="#333" stroke-width="0.7"/>
<text x="440.10" y="379.60" font-size="7.85" text-anchor="end" font-style="italic" fill="#111" stroke="#111" stroke-width="0.15" transform="rotate(-90 440.10 379.60)">CD3G</text>
<line x1="446.00" y1="374.30" x2="446.00" y2="376.20" stroke="#333" stroke-width="0.7"/>
<text x="448.70" y="379.60" font-size="7.85" text-anchor="end" font-style="italic" fill="#111" stroke="#111" stroke-width="0.15" transform="rotate(-90 448.70 379.60)">CD27</text>
<line x1="454.60" y1="374.30" x2="454.60" y2="376.20" stroke="#333" stroke-width="0.7"/>
<text x="457.30" y="379.60" font-size="7.85" text-anchor="end" font-style="italic" fill="#111" stroke="#111" stroke-width="0.15" transform="rotate(-90 457.30 379.60)">CD28</text>
<rect x="468.60" y="246.90" width="8.60" height="8.44" fill="#25388C" stroke="#fff" stroke-width="0.6"/>
<rect x="477.20" y="246.90" width="8.60" height="8.44" fill="#AAB0D8" stroke="#fff" stroke-width="0.6"/>
<rect x="485.80" y="246.90" width="8.60" height="8.44" fill="#FFFFFF" stroke="#fff" stroke-width="0.6"/>
<rect x="494.40" y="246.90" width="8.60" height="8.44" fill="#E8EAF5" stroke="#fff" stroke-width="0.6"/>
<rect x="503.00" y="246.90" width="8.60" height="8.44" fill="#3B52A3" stroke="#fff" stroke-width="0.6"/>
<rect x="468.60" y="255.34" width="8.60" height="8.44" fill="#25388C" stroke="#fff" stroke-width="0.6"/>
<rect x="477.20" y="255.34" width="8.60" height="8.44" fill="#25388C" stroke="#fff" stroke-width="0.6"/>
<rect x="485.80" y="255.34" width="8.60" height="8.44" fill="#FFFFFF" stroke="#fff" stroke-width="0.6"/>
<rect x="494.40" y="255.34" width="8.60" height="8.44" fill="#F7941E" stroke="#fff" stroke-width="0.6"/>
<rect x="503.00" y="255.34" width="8.60" height="8.44" fill="#F7941E" stroke="#fff" stroke-width="0.6"/>
<rect x="468.60" y="263.78" width="8.60" height="8.44" fill="#25388C" stroke="#fff" stroke-width="0.6"/>
<rect x="477.20" y="263.78" width="8.60" height="8.44" fill="#FFF3DB" stroke="#fff" stroke-width="0.6"/>
<rect x="485.80" y="263.78" width="8.60" height="8.44" fill="#FABA16" stroke="#fff" stroke-width="0.6"/>
<rect x="494.40" y="263.78" width="8.60" height="8.44" fill="#FEE5A6" stroke="#fff" stroke-width="0.6"/>
<rect x="503.00" y="263.78" width="8.60" height="8.44" fill="#FFF3DB" stroke="#fff" stroke-width="0.6"/>
<rect x="468.60" y="272.22" width="8.60" height="8.44" fill="#25388C" stroke="#fff" stroke-width="0.6"/>
<rect x="477.20" y="272.22" width="8.60" height="8.44" fill="#25388C" stroke="#fff" stroke-width="0.6"/>
<rect x="485.80" y="272.22" width="8.60" height="8.44" fill="#25388C" stroke="#fff" stroke-width="0.6"/>
<rect x="494.40" y="272.22" width="8.60" height="8.44" fill="#25388C" stroke="#fff" stroke-width="0.6"/>
<rect x="503.00" y="272.22" width="8.60" height="8.44" fill="#25388C" stroke="#fff" stroke-width="0.6"/>
<rect x="468.60" y="280.66" width="8.60" height="8.44" fill="#25388C" stroke="#fff" stroke-width="0.6"/>
<rect x="477.20" y="280.66" width="8.60" height="8.44" fill="#7984C2" stroke="#fff" stroke-width="0.6"/>
<rect x="485.80" y="280.66" width="8.60" height="8.44" fill="#5A6CB4" stroke="#fff" stroke-width="0.6"/>
<rect x="494.40" y="280.66" width="8.60" height="8.44" fill="#3B52A3" stroke="#fff" stroke-width="0.6"/>
<rect x="503.00" y="280.66" width="8.60" height="8.44" fill="#3B52A3" stroke="#fff" stroke-width="0.6"/>
<rect x="468.60" y="289.10" width="8.60" height="8.44" fill="#3B52A3" stroke="#fff" stroke-width="0.6"/>
<rect x="477.20" y="289.10" width="8.60" height="8.44" fill="#FFFFFF" stroke="#fff" stroke-width="0.6"/>
<rect x="485.80" y="289.10" width="8.60" height="8.44" fill="#25388C" stroke="#fff" stroke-width="0.6"/>
<rect x="494.40" y="289.10" width="8.60" height="8.44" fill="#FDD055" stroke="#fff" stroke-width="0.6"/>
<rect x="503.00" y="289.10" width="8.60" height="8.44" fill="#F7941E" stroke="#fff" stroke-width="0.6"/>
<rect x="468.60" y="297.54" width="8.60" height="8.44" fill="#25388C" stroke="#fff" stroke-width="0.6"/>
<rect x="477.20" y="297.54" width="8.60" height="8.44" fill="#FFFFFF" stroke="#fff" stroke-width="0.6"/>
<rect x="485.80" y="297.54" width="8.60" height="8.44" fill="#25388C" stroke="#fff" stroke-width="0.6"/>
<rect x="494.40" y="297.54" width="8.60" height="8.44" fill="#F7941E" stroke="#fff" stroke-width="0.6"/>
<rect x="503.00" y="297.54" width="8.60" height="8.44" fill="#25388C" stroke="#fff" stroke-width="0.6"/>
<rect x="468.60" y="305.98" width="8.60" height="8.44" fill="#F7941E" stroke="#fff" stroke-width="0.6"/>
<rect x="477.20" y="305.98" width="8.60" height="8.44" fill="#3B52A3" stroke="#fff" stroke-width="0.6"/>
<rect x="485.80" y="305.98" width="8.60" height="8.44" fill="#7984C2" stroke="#fff" stroke-width="0.6"/>
<rect x="494.40" y="305.98" width="8.60" height="8.44" fill="#FFF3DB" stroke="#fff" stroke-width="0.6"/>
<rect x="503.00" y="305.98" width="8.60" height="8.44" fill="#E8EAF5" stroke="#fff" stroke-width="0.6"/>
<rect x="468.60" y="314.42" width="8.60" height="8.44" fill="#25388C" stroke="#fff" stroke-width="0.6"/>
<rect x="477.20" y="314.42" width="8.60" height="8.44" fill="#7984C2" stroke="#fff" stroke-width="0.6"/>
<rect x="485.80" y="314.42" width="8.60" height="8.44" fill="#FFFFFF" stroke="#fff" stroke-width="0.6"/>
<rect x="494.40" y="314.42" width="8.60" height="8.44" fill="#FEE5A6" stroke="#fff" stroke-width="0.6"/>
<rect x="503.00" y="314.42" width="8.60" height="8.44" fill="#FEE5A6" stroke="#fff" stroke-width="0.6"/>
<rect x="468.60" y="322.86" width="8.60" height="8.44" fill="#F7941E" stroke="#fff" stroke-width="0.6"/>
<rect x="477.20" y="322.86" width="8.60" height="8.44" fill="#3B52A3" stroke="#fff" stroke-width="0.6"/>
<rect x="485.80" y="322.86" width="8.60" height="8.44" fill="#F47721" stroke="#fff" stroke-width="0.6"/>
<rect x="494.40" y="322.86" width="8.60" height="8.44" fill="#AAB0D8" stroke="#fff" stroke-width="0.6"/>
<rect x="503.00" y="322.86" width="8.60" height="8.44" fill="#25388C" stroke="#fff" stroke-width="0.6"/>
<rect x="468.60" y="331.30" width="8.60" height="8.44" fill="#25388C" stroke="#fff" stroke-width="0.6"/>
<rect x="477.20" y="331.30" width="8.60" height="8.44" fill="#FFF3DB" stroke="#fff" stroke-width="0.6"/>
<rect x="485.80" y="331.30" width="8.60" height="8.44" fill="#25388C" stroke="#fff" stroke-width="0.6"/>
<rect x="494.40" y="331.30" width="8.60" height="8.44" fill="#AAB0D8" stroke="#fff" stroke-width="0.6"/>
<rect x="503.00" y="331.30" width="8.60" height="8.44" fill="#7984C2" stroke="#fff" stroke-width="0.6"/>
<rect x="468.60" y="339.74" width="8.60" height="8.44" fill="#D0D3EA" stroke="#fff" stroke-width="0.6"/>
<rect x="477.20" y="339.74" width="8.60" height="8.44" fill="#AAB0D8" stroke="#fff" stroke-width="0.6"/>
<rect x="485.80" y="339.74" width="8.60" height="8.44" fill="#3B52A3" stroke="#fff" stroke-width="0.6"/>
<rect x="494.40" y="339.74" width="8.60" height="8.44" fill="#E8EAF5" stroke="#fff" stroke-width="0.6"/>
<rect x="503.00" y="339.74" width="8.60" height="8.44" fill="#FFF3DB" stroke="#fff" stroke-width="0.6"/>
<rect x="468.60" y="348.18" width="8.60" height="8.44" fill="#FDD055" stroke="#fff" stroke-width="0.6"/>
<rect x="477.20" y="348.18" width="8.60" height="8.44" fill="#F7941E" stroke="#fff" stroke-width="0.6"/>
<rect x="485.80" y="348.18" width="8.60" height="8.44" fill="#FABA16" stroke="#fff" stroke-width="0.6"/>
<rect x="494.40" y="348.18" width="8.60" height="8.44" fill="#3B52A3" stroke="#fff" stroke-width="0.6"/>
<rect x="503.00" y="348.18" width="8.60" height="8.44" fill="#25388C" stroke="#fff" stroke-width="0.6"/>
<rect x="468.60" y="356.62" width="8.60" height="8.44" fill="#AAB0D8" stroke="#fff" stroke-width="0.6"/>
<rect x="477.20" y="356.62" width="8.60" height="8.44" fill="#E8EAF5" stroke="#fff" stroke-width="0.6"/>
<rect x="485.80" y="356.62" width="8.60" height="8.44" fill="#E8EAF5" stroke="#fff" stroke-width="0.6"/>
<rect x="494.40" y="356.62" width="8.60" height="8.44" fill="#FFF3DB" stroke="#fff" stroke-width="0.6"/>
<rect x="503.00" y="356.62" width="8.60" height="8.44" fill="#FDD055" stroke="#fff" stroke-width="0.6"/>
<rect x="468.60" y="365.06" width="8.60" height="8.44" fill="#25388C" stroke="#fff" stroke-width="0.6"/>
<rect x="477.20" y="365.06" width="8.60" height="8.44" fill="#AAB0D8" stroke="#fff" stroke-width="0.6"/>
<rect x="485.80" y="365.06" width="8.60" height="8.44" fill="#25388C" stroke="#fff" stroke-width="0.6"/>
<rect x="494.40" y="365.06" width="8.60" height="8.44" fill="#F7941E" stroke="#fff" stroke-width="0.6"/>
<rect x="503.00" y="365.06" width="8.60" height="8.44" fill="#5A6CB4" stroke="#fff" stroke-width="0.6"/>
<rect x="468.30" y="231.6" width="44.00" height="14.5" fill="#fff" stroke="#333" stroke-width="0.9"/>
<text x="490.30" y="241.30" font-size="6.73" text-anchor="middle" fill="#111" stroke="#111" stroke-width="0.15">IL2−signaling</text>
<line x1="468.30" y1="374.30" x2="512.00" y2="374.30" stroke="#333" stroke-width="0.9"/>
<line x1="472.90" y1="374.30" x2="472.90" y2="376.20" stroke="#333" stroke-width="0.7"/>
<text x="475.60" y="379.60" font-size="7.85" text-anchor="end" font-style="italic" fill="#111" stroke="#111" stroke-width="0.15" transform="rotate(-90 475.60 379.60)">IL2RA</text>
<line x1="481.50" y1="374.30" x2="481.50" y2="376.20" stroke="#333" stroke-width="0.7"/>
<text x="484.20" y="379.60" font-size="7.85" text-anchor="end" font-style="italic" fill="#111" stroke="#111" stroke-width="0.15" transform="rotate(-90 484.20 379.60)">IL2RB</text>
<line x1="490.10" y1="374.30" x2="490.10" y2="376.20" stroke="#333" stroke-width="0.7"/>
<text x="492.80" y="379.60" font-size="7.85" text-anchor="end" font-style="italic" fill="#111" stroke="#111" stroke-width="0.15" transform="rotate(-90 492.80 379.60)">IL2RG</text>
<line x1="498.70" y1="374.30" x2="498.70" y2="376.20" stroke="#333" stroke-width="0.7"/>
<text x="501.40" y="379.60" font-size="7.85" text-anchor="end" font-style="italic" fill="#111" stroke="#111" stroke-width="0.15" transform="rotate(-90 501.40 379.60)">STAT5A</text>
<line x1="507.30" y1="374.30" x2="507.30" y2="376.20" stroke="#333" stroke-width="0.7"/>
<text x="510.00" y="379.60" font-size="7.85" text-anchor="end" font-style="italic" fill="#111" stroke="#111" stroke-width="0.15" transform="rotate(-90 510.00 379.60)">STAT5B</text>
<rect x="521.10" y="246.90" width="8.60" height="8.44" fill="#7984C2" stroke="#fff" stroke-width="0.6"/>
<rect x="529.70" y="246.90" width="8.60" height="8.44" fill="#25388C" stroke="#fff" stroke-width="0.6"/>
<rect x="538.30" y="246.90" width="8.60" height="8.44" fill="#AAB0D8" stroke="#fff" stroke-width="0.6"/>
<rect x="546.90" y="246.90" width="8.60" height="8.44" fill="#FFFFFF" stroke="#fff" stroke-width="0.6"/>
<rect x="555.50" y="246.90" width="8.60" height="8.44" fill="#D0D3EA" stroke="#fff" stroke-width="0.6"/>
<rect x="564.10" y="246.90" width="8.60" height="8.44" fill="#25388C" stroke="#fff" stroke-width="0.6"/>
<rect x="572.70" y="246.90" width="8.60" height="8.44" fill="#3B52A3" stroke="#fff" stroke-width="0.6"/>
<rect x="581.30" y="246.90" width="8.60" height="8.44" fill="#D0D3EA" stroke="#fff" stroke-width="0.6"/>
<rect x="589.90" y="246.90" width="8.60" height="8.44" fill="#7984C2" stroke="#fff" stroke-width="0.6"/>
<rect x="598.50" y="246.90" width="8.60" height="8.44" fill="#25388C" stroke="#fff" stroke-width="0.6"/>
<rect x="521.10" y="255.34" width="8.60" height="8.44" fill="#25388C" stroke="#fff" stroke-width="0.6"/>
<rect x="529.70" y="255.34" width="8.60" height="8.44" fill="#25388C" stroke="#fff" stroke-width="0.6"/>
<rect x="538.30" y="255.34" width="8.60" height="8.44" fill="#E8EAF5" stroke="#fff" stroke-width="0.6"/>
<rect x="546.90" y="255.34" width="8.60" height="8.44" fill="#3B52A3" stroke="#fff" stroke-width="0.6"/>
<rect x="555.50" y="255.34" width="8.60" height="8.44" fill="#25388C" stroke="#fff" stroke-width="0.6"/>
<rect x="564.10" y="255.34" width="8.60" height="8.44" fill="#25388C" stroke="#fff" stroke-width="0.6"/>
<rect x="572.70" y="255.34" width="8.60" height="8.44" fill="#AAB0D8" stroke="#fff" stroke-width="0.6"/>
<rect x="581.30" y="255.34" width="8.60" height="8.44" fill="#25388C" stroke="#fff" stroke-width="0.6"/>
<rect x="589.90" y="255.34" width="8.60" height="8.44" fill="#25388C" stroke="#fff" stroke-width="0.6"/>
<rect x="598.50" y="255.34" width="8.60" height="8.44" fill="#AAB0D8" stroke="#fff" stroke-width="0.6"/>
<rect x="521.10" y="263.78" width="8.60" height="8.44" fill="#25388C" stroke="#fff" stroke-width="0.6"/>
<rect x="529.70" y="263.78" width="8.60" height="8.44" fill="#3B52A3" stroke="#fff" stroke-width="0.6"/>
<rect x="538.30" y="263.78" width="8.60" height="8.44" fill="#E8EAF5" stroke="#fff" stroke-width="0.6"/>
<rect x="546.90" y="263.78" width="8.60" height="8.44" fill="#AAB0D8" stroke="#fff" stroke-width="0.6"/>
<rect x="555.50" y="263.78" width="8.60" height="8.44" fill="#5A6CB4" stroke="#fff" stroke-width="0.6"/>
<rect x="564.10" y="263.78" width="8.60" height="8.44" fill="#25388C" stroke="#fff" stroke-width="0.6"/>
<rect x="572.70" y="263.78" width="8.60" height="8.44" fill="#D0D3EA" stroke="#fff" stroke-width="0.6"/>
<rect x="581.30" y="263.78" width="8.60" height="8.44" fill="#25388C" stroke="#fff" stroke-width="0.6"/>
<rect x="589.90" y="263.78" width="8.60" height="8.44" fill="#FFFFFF" stroke="#fff" stroke-width="0.6"/>
<rect x="598.50" y="263.78" width="8.60" height="8.44" fill="#25388C" stroke="#fff" stroke-width="0.6"/>
<rect x="521.10" y="272.22" width="8.60" height="8.44" fill="#3B52A3" stroke="#fff" stroke-width="0.6"/>
<rect x="529.70" y="272.22" width="8.60" height="8.44" fill="#25388C" stroke="#fff" stroke-width="0.6"/>
<rect x="538.30" y="272.22" width="8.60" height="8.44" fill="#25388C" stroke="#fff" stroke-width="0.6"/>
<rect x="546.90" y="272.22" width="8.60" height="8.44" fill="#AAB0D8" stroke="#fff" stroke-width="0.6"/>
<rect x="555.50" y="272.22" width="8.60" height="8.44" fill="#AAB0D8" stroke="#fff" stroke-width="0.6"/>
<rect x="564.10" y="272.22" width="8.60" height="8.44" fill="#25388C" stroke="#fff" stroke-width="0.6"/>
<rect x="572.70" y="272.22" width="8.60" height="8.44" fill="#AAB0D8" stroke="#fff" stroke-width="0.6"/>
<rect x="581.30" y="272.22" width="8.60" height="8.44" fill="#3B52A3" stroke="#fff" stroke-width="0.6"/>
<rect x="589.90" y="272.22" width="8.60" height="8.44" fill="#25388C" stroke="#fff" stroke-width="0.6"/>
<rect x="598.50" y="272.22" width="8.60" height="8.44" fill="#3B52A3" stroke="#fff" stroke-width="0.6"/>
<rect x="521.10" y="280.66" width="8.60" height="8.44" fill="#E8EAF5" stroke="#fff" stroke-width="0.6"/>
<rect x="529.70" y="280.66" width="8.60" height="8.44" fill="#7984C2" stroke="#fff" stroke-width="0.6"/>
<rect x="538.30" y="280.66" width="8.60" height="8.44" fill="#7984C2" stroke="#fff" stroke-width="0.6"/>
<rect x="546.90" y="280.66" width="8.60" height="8.44" fill="#FEE5A6" stroke="#fff" stroke-width="0.6"/>
<rect x="555.50" y="280.66" width="8.60" height="8.44" fill="#AAB0D8" stroke="#fff" stroke-width="0.6"/>
<rect x="564.10" y="280.66" width="8.60" height="8.44" fill="#7984C2" stroke="#fff" stroke-width="0.6"/>
<rect x="572.70" y="280.66" width="8.60" height="8.44" fill="#3B52A3" stroke="#fff" stroke-width="0.6"/>
<rect x="581.30" y="280.66" width="8.60" height="8.44" fill="#3B52A3" stroke="#fff" stroke-width="0.6"/>
<rect x="589.90" y="280.66" width="8.60" height="8.44" fill="#D0D3EA" stroke="#fff" stroke-width="0.6"/>
<rect x="598.50" y="280.66" width="8.60" height="8.44" fill="#5A6CB4" stroke="#fff" stroke-width="0.6"/>
<rect x="521.10" y="289.10" width="8.60" height="8.44" fill="#AAB0D8" stroke="#fff" stroke-width="0.6"/>
<rect x="529.70" y="289.10" width="8.60" height="8.44" fill="#7984C2" stroke="#fff" stroke-width="0.6"/>
<rect x="538.30" y="289.10" width="8.60" height="8.44" fill="#3B52A3" stroke="#fff" stroke-width="0.6"/>
<rect x="546.90" y="289.10" width="8.60" height="8.44" fill="#AAB0D8" stroke="#fff" stroke-width="0.6"/>
<rect x="555.50" y="289.10" width="8.60" height="8.44" fill="#FEE5A6" stroke="#fff" stroke-width="0.6"/>
<rect x="564.10" y="289.10" width="8.60" height="8.44" fill="#3B52A3" stroke="#fff" stroke-width="0.6"/>
<rect x="572.70" y="289.10" width="8.60" height="8.44" fill="#25388C" stroke="#fff" stroke-width="0.6"/>
<rect x="581.30" y="289.10" width="8.60" height="8.44" fill="#25388C" stroke="#fff" stroke-width="0.6"/>
<rect x="589.90" y="289.10" width="8.60" height="8.44" fill="#7984C2" stroke="#fff" stroke-width="0.6"/>
<rect x="598.50" y="289.10" width="8.60" height="8.44" fill="#25388C" stroke="#fff" stroke-width="0.6"/>
<rect x="521.10" y="297.54" width="8.60" height="8.44" fill="#25388C" stroke="#fff" stroke-width="0.6"/>
<rect x="529.70" y="297.54" width="8.60" height="8.44" fill="#25388C" stroke="#fff" stroke-width="0.6"/>
<rect x="538.30" y="297.54" width="8.60" height="8.44" fill="#D0D3EA" stroke="#fff" stroke-width="0.6"/>
<rect x="546.90" y="297.54" width="8.60" height="8.44" fill="#FFFFFF" stroke="#fff" stroke-width="0.6"/>
<rect x="555.50" y="297.54" width="8.60" height="8.44" fill="#FDD055" stroke="#fff" stroke-width="0.6"/>
<rect x="564.10" y="297.54" width="8.60" height="8.44" fill="#25388C" stroke="#fff" stroke-width="0.6"/>
<rect x="572.70" y="297.54" width="8.60" height="8.44" fill="#7984C2" stroke="#fff" stroke-width="0.6"/>
<rect x="581.30" y="297.54" width="8.60" height="8.44" fill="#25388C" stroke="#fff" stroke-width="0.6"/>
<rect x="589.90" y="297.54" width="8.60" height="8.44" fill="#25388C" stroke="#fff" stroke-width="0.6"/>
<rect x="598.50" y="297.54" width="8.60" height="8.44" fill="#25388C" stroke="#fff" stroke-width="0.6"/>
<rect x="521.10" y="305.98" width="8.60" height="8.44" fill="#25388C" stroke="#fff" stroke-width="0.6"/>
<rect x="529.70" y="305.98" width="8.60" height="8.44" fill="#AAB0D8" stroke="#fff" stroke-width="0.6"/>
<rect x="538.30" y="305.98" width="8.60" height="8.44" fill="#5A6CB4" stroke="#fff" stroke-width="0.6"/>
<rect x="546.90" y="305.98" width="8.60" height="8.44" fill="#7984C2" stroke="#fff" stroke-width="0.6"/>
<rect x="555.50" y="305.98" width="8.60" height="8.44" fill="#3B52A3" stroke="#fff" stroke-width="0.6"/>
<rect x="564.10" y="305.98" width="8.60" height="8.44" fill="#25388C" stroke="#fff" stroke-width="0.6"/>
<rect x="572.70" y="305.98" width="8.60" height="8.44" fill="#3B52A3" stroke="#fff" stroke-width="0.6"/>
<rect x="581.30" y="305.98" width="8.60" height="8.44" fill="#3B52A3" stroke="#fff" stroke-width="0.6"/>
<rect x="589.90" y="305.98" width="8.60" height="8.44" fill="#25388C" stroke="#fff" stroke-width="0.6"/>
<rect x="598.50" y="305.98" width="8.60" height="8.44" fill="#25388C" stroke="#fff" stroke-width="0.6"/>
<rect x="521.10" y="314.42" width="8.60" height="8.44" fill="#25388C" stroke="#fff" stroke-width="0.6"/>
<rect x="529.70" y="314.42" width="8.60" height="8.44" fill="#FDD055" stroke="#fff" stroke-width="0.6"/>
<rect x="538.30" y="314.42" width="8.60" height="8.44" fill="#3B52A3" stroke="#fff" stroke-width="0.6"/>
<rect x="546.90" y="314.42" width="8.60" height="8.44" fill="#FFF3DB" stroke="#fff" stroke-width="0.6"/>
<rect x="555.50" y="314.42" width="8.60" height="8.44" fill="#AAB0D8" stroke="#fff" stroke-width="0.6"/>
<rect x="564.10" y="314.42" width="8.60" height="8.44" fill="#25388C" stroke="#fff" stroke-width="0.6"/>
<rect x="572.70" y="314.42" width="8.60" height="8.44" fill="#AAB0D8" stroke="#fff" stroke-width="0.6"/>
<rect x="581.30" y="314.42" width="8.60" height="8.44" fill="#7984C2" stroke="#fff" stroke-width="0.6"/>
<rect x="589.90" y="314.42" width="8.60" height="8.44" fill="#AAB0D8" stroke="#fff" stroke-width="0.6"/>
<rect x="598.50" y="314.42" width="8.60" height="8.44" fill="#25388C" stroke="#fff" stroke-width="0.6"/>
<rect x="521.10" y="322.86" width="8.60" height="8.44" fill="#25388C" stroke="#fff" stroke-width="0.6"/>
<rect x="529.70" y="322.86" width="8.60" height="8.44" fill="#AAB0D8" stroke="#fff" stroke-width="0.6"/>
<rect x="538.30" y="322.86" width="8.60" height="8.44" fill="#FEE5A6" stroke="#fff" stroke-width="0.6"/>
<rect x="546.90" y="322.86" width="8.60" height="8.44" fill="#AAB0D8" stroke="#fff" stroke-width="0.6"/>
<rect x="555.50" y="322.86" width="8.60" height="8.44" fill="#FFF3DB" stroke="#fff" stroke-width="0.6"/>
<rect x="564.10" y="322.86" width="8.60" height="8.44" fill="#F7941E" stroke="#fff" stroke-width="0.6"/>
<rect x="572.70" y="322.86" width="8.60" height="8.44" fill="#FABA16" stroke="#fff" stroke-width="0.6"/>
<rect x="581.30" y="322.86" width="8.60" height="8.44" fill="#25388C" stroke="#fff" stroke-width="0.6"/>
<rect x="589.90" y="322.86" width="8.60" height="8.44" fill="#3B52A3" stroke="#fff" stroke-width="0.6"/>
<rect x="598.50" y="322.86" width="8.60" height="8.44" fill="#25388C" stroke="#fff" stroke-width="0.6"/>
<rect x="521.10" y="331.30" width="8.60" height="8.44" fill="#3B52A3" stroke="#fff" stroke-width="0.6"/>
<rect x="529.70" y="331.30" width="8.60" height="8.44" fill="#3B52A3" stroke="#fff" stroke-width="0.6"/>
<rect x="538.30" y="331.30" width="8.60" height="8.44" fill="#5A6CB4" stroke="#fff" stroke-width="0.6"/>
<rect x="546.90" y="331.30" width="8.60" height="8.44" fill="#D0D3EA" stroke="#fff" stroke-width="0.6"/>
<rect x="555.50" y="331.30" width="8.60" height="8.44" fill="#7984C2" stroke="#fff" stroke-width="0.6"/>
<rect x="564.10" y="331.30" width="8.60" height="8.44" fill="#3B52A3" stroke="#fff" stroke-width="0.6"/>
<rect x="572.70" y="331.30" width="8.60" height="8.44" fill="#3B52A3" stroke="#fff" stroke-width="0.6"/>
<rect x="581.30" y="331.30" width="8.60" height="8.44" fill="#D0D3EA" stroke="#fff" stroke-width="0.6"/>
<rect x="589.90" y="331.30" width="8.60" height="8.44" fill="#7984C2" stroke="#fff" stroke-width="0.6"/>
<rect x="598.50" y="331.30" width="8.60" height="8.44" fill="#5A6CB4" stroke="#fff" stroke-width="0.6"/>
<rect x="521.10" y="339.74" width="8.60" height="8.44" fill="#7984C2" stroke="#fff" stroke-width="0.6"/>
<rect x="529.70" y="339.74" width="8.60" height="8.44" fill="#3B52A3" stroke="#fff" stroke-width="0.6"/>
<rect x="538.30" y="339.74" width="8.60" height="8.44" fill="#3B52A3" stroke="#fff" stroke-width="0.6"/>
<rect x="546.90" y="339.74" width="8.60" height="8.44" fill="#FFF3DB" stroke="#fff" stroke-width="0.6"/>
<rect x="555.50" y="339.74" width="8.60" height="8.44" fill="#AAB0D8" stroke="#fff" stroke-width="0.6"/>
<rect x="564.10" y="339.74" width="8.60" height="8.44" fill="#25388C" stroke="#fff" stroke-width="0.6"/>
<rect x="572.70" y="339.74" width="8.60" height="8.44" fill="#3B52A3" stroke="#fff" stroke-width="0.6"/>
<rect x="581.30" y="339.74" width="8.60" height="8.44" fill="#25388C" stroke="#fff" stroke-width="0.6"/>
<rect x="589.90" y="339.74" width="8.60" height="8.44" fill="#3B52A3" stroke="#fff" stroke-width="0.6"/>
<rect x="598.50" y="339.74" width="8.60" height="8.44" fill="#25388C" stroke="#fff" stroke-width="0.6"/>
<rect x="521.10" y="348.18" width="8.60" height="8.44" fill="#FDD055" stroke="#fff" stroke-width="0.6"/>
<rect x="529.70" y="348.18" width="8.60" height="8.44" fill="#FEE5A6" stroke="#fff" stroke-width="0.6"/>
<rect x="538.30" y="348.18" width="8.60" height="8.44" fill="#25388C" stroke="#fff" stroke-width="0.6"/>
<rect x="546.90" y="348.18" width="8.60" height="8.44" fill="#FFF3DB" stroke="#fff" stroke-width="0.6"/>
<rect x="555.50" y="348.18" width="8.60" height="8.44" fill="#5A6CB4" stroke="#fff" stroke-width="0.6"/>
<rect x="564.10" y="348.18" width="8.60" height="8.44" fill="#FEE5A6" stroke="#fff" stroke-width="0.6"/>
<rect x="572.70" y="348.18" width="8.60" height="8.44" fill="#F7941E" stroke="#fff" stroke-width="0.6"/>
<rect x="581.30" y="348.18" width="8.60" height="8.44" fill="#FEE5A6" stroke="#fff" stroke-width="0.6"/>
<rect x="589.90" y="348.18" width="8.60" height="8.44" fill="#FFFFFF" stroke="#fff" stroke-width="0.6"/>
<rect x="598.50" y="348.18" width="8.60" height="8.44" fill="#F7941E" stroke="#fff" stroke-width="0.6"/>
<rect x="521.10" y="356.62" width="8.60" height="8.44" fill="#3B52A3" stroke="#fff" stroke-width="0.6"/>
<rect x="529.70" y="356.62" width="8.60" height="8.44" fill="#5A6CB4" stroke="#fff" stroke-width="0.6"/>
<rect x="538.30" y="356.62" width="8.60" height="8.44" fill="#7984C2" stroke="#fff" stroke-width="0.6"/>
<rect x="546.90" y="356.62" width="8.60" height="8.44" fill="#D0D3EA" stroke="#fff" stroke-width="0.6"/>
<rect x="555.50" y="356.62" width="8.60" height="8.44" fill="#25388C" stroke="#fff" stroke-width="0.6"/>
<rect x="564.10" y="356.62" width="8.60" height="8.44" fill="#3B52A3" stroke="#fff" stroke-width="0.6"/>
<rect x="572.70" y="356.62" width="8.60" height="8.44" fill="#3B52A3" stroke="#fff" stroke-width="0.6"/>
<rect x="581.30" y="356.62" width="8.60" height="8.44" fill="#5A6CB4" stroke="#fff" stroke-width="0.6"/>
<rect x="589.90" y="356.62" width="8.60" height="8.44" fill="#AAB0D8" stroke="#fff" stroke-width="0.6"/>
<rect x="598.50" y="356.62" width="8.60" height="8.44" fill="#7984C2" stroke="#fff" stroke-width="0.6"/>
<rect x="521.10" y="365.06" width="8.60" height="8.44" fill="#7984C2" stroke="#fff" stroke-width="0.6"/>
<rect x="529.70" y="365.06" width="8.60" height="8.44" fill="#D0D3EA" stroke="#fff" stroke-width="0.6"/>
<rect x="538.30" y="365.06" width="8.60" height="8.44" fill="#D0D3EA" stroke="#fff" stroke-width="0.6"/>
<rect x="546.90" y="365.06" width="8.60" height="8.44" fill="#7984C2" stroke="#fff" stroke-width="0.6"/>
<rect x="555.50" y="365.06" width="8.60" height="8.44" fill="#D0D3EA" stroke="#fff" stroke-width="0.6"/>
<rect x="564.10" y="365.06" width="8.60" height="8.44" fill="#25388C" stroke="#fff" stroke-width="0.6"/>
<rect x="572.70" y="365.06" width="8.60" height="8.44" fill="#7984C2" stroke="#fff" stroke-width="0.6"/>
<rect x="581.30" y="365.06" width="8.60" height="8.44" fill="#7984C2" stroke="#fff" stroke-width="0.6"/>
<rect x="589.90" y="365.06" width="8.60" height="8.44" fill="#25388C" stroke="#fff" stroke-width="0.6"/>
<rect x="598.50" y="365.06" width="8.60" height="8.44" fill="#7984C2" stroke="#fff" stroke-width="0.6"/>
<rect x="520.80" y="231.6" width="87.00" height="14.5" fill="#fff" stroke="#333" stroke-width="0.9"/>
<text x="564.30" y="241.30" font-size="8.16" text-anchor="middle" fill="#111" stroke="#111" stroke-width="0.15">OXPHOS</text>
<line x1="520.80" y1="374.30" x2="607.50" y2="374.30" stroke="#333" stroke-width="0.9"/>
<line x1="525.40" y1="374.30" x2="525.40" y2="376.20" stroke="#333" stroke-width="0.7"/>
<text x="528.10" y="379.60" font-size="7.85" text-anchor="end" font-style="italic" fill="#111" stroke="#111" stroke-width="0.15" transform="rotate(-90 528.10 379.60)">NDUFA6</text>
<line x1="534.00" y1="374.30" x2="534.00" y2="376.20" stroke="#333" stroke-width="0.7"/>
<text x="536.70" y="379.60" font-size="7.85" text-anchor="end" font-style="italic" fill="#111" stroke="#111" stroke-width="0.15" transform="rotate(-90 536.70 379.60)">NDUFA7</text>
<line x1="542.60" y1="374.30" x2="542.60" y2="376.20" stroke="#333" stroke-width="0.7"/>
<text x="545.30" y="379.60" font-size="7.85" text-anchor="end" font-style="italic" fill="#111" stroke="#111" stroke-width="0.15" transform="rotate(-90 545.30 379.60)">NDUFB5</text>
<line x1="551.20" y1="374.30" x2="551.20" y2="376.20" stroke="#333" stroke-width="0.7"/>
<text x="553.90" y="379.60" font-size="7.85" text-anchor="end" font-style="italic" fill="#111" stroke="#111" stroke-width="0.15" transform="rotate(-90 553.90 379.60)">SDHAF1</text>
<line x1="559.80" y1="374.30" x2="559.80" y2="376.20" stroke="#333" stroke-width="0.7"/>
<text x="562.50" y="379.60" font-size="7.85" text-anchor="end" font-style="italic" fill="#111" stroke="#111" stroke-width="0.15" transform="rotate(-90 562.50 379.60)">SDHAF2</text>
<line x1="568.40" y1="374.30" x2="568.40" y2="376.20" stroke="#333" stroke-width="0.7"/>
<text x="571.10" y="379.60" font-size="7.85" text-anchor="end" font-style="italic" fill="#111" stroke="#111" stroke-width="0.15" transform="rotate(-90 571.10 379.60)">COX5A</text>
<line x1="577.00" y1="374.30" x2="577.00" y2="376.20" stroke="#333" stroke-width="0.7"/>
<text x="579.70" y="379.60" font-size="7.85" text-anchor="end" font-style="italic" fill="#111" stroke="#111" stroke-width="0.15" transform="rotate(-90 579.70 379.60)">COX5B</text>
<line x1="585.60" y1="374.30" x2="585.60" y2="376.20" stroke="#333" stroke-width="0.7"/>
<text x="588.30" y="379.60" font-size="7.85" text-anchor="end" font-style="italic" fill="#111" stroke="#111" stroke-width="0.15" transform="rotate(-90 588.30 379.60)">COX6A1</text>
<line x1="594.20" y1="374.30" x2="594.20" y2="376.20" stroke="#333" stroke-width="0.7"/>
<text x="596.90" y="379.60" font-size="7.85" text-anchor="end" font-style="italic" fill="#111" stroke="#111" stroke-width="0.15" transform="rotate(-90 596.90 379.60)">ATP5F1C</text>
<line x1="602.80" y1="374.30" x2="602.80" y2="376.20" stroke="#333" stroke-width="0.7"/>
<text x="605.50" y="379.60" font-size="7.85" text-anchor="end" font-style="italic" fill="#111" stroke="#111" stroke-width="0.15" transform="rotate(-90 605.50 379.60)">ATP5MF</text>
<rect x="616.10" y="246.90" width="8.60" height="8.44" fill="#AAB0D8" stroke="#fff" stroke-width="0.6"/>
<rect x="624.70" y="246.90" width="8.60" height="8.44" fill="#FEE5A6" stroke="#fff" stroke-width="0.6"/>
<rect x="633.30" y="246.90" width="8.60" height="8.44" fill="#FEE5A6" stroke="#fff" stroke-width="0.6"/>
<rect x="641.90" y="246.90" width="8.60" height="8.44" fill="#FEE5A6" stroke="#fff" stroke-width="0.6"/>
<rect x="650.50" y="246.90" width="8.60" height="8.44" fill="#D0D3EA" stroke="#fff" stroke-width="0.6"/>
<rect x="659.10" y="246.90" width="8.60" height="8.44" fill="#FFF3DB" stroke="#fff" stroke-width="0.6"/>
<rect x="616.10" y="255.34" width="8.60" height="8.44" fill="#25388C" stroke="#fff" stroke-width="0.6"/>
<rect x="624.70" y="255.34" width="8.60" height="8.44" fill="#3B52A3" stroke="#fff" stroke-width="0.6"/>
<rect x="633.30" y="255.34" width="8.60" height="8.44" fill="#3B52A3" stroke="#fff" stroke-width="0.6"/>
<rect x="641.90" y="255.34" width="8.60" height="8.44" fill="#25388C" stroke="#fff" stroke-width="0.6"/>
<rect x="650.50" y="255.34" width="8.60" height="8.44" fill="#3B52A3" stroke="#fff" stroke-width="0.6"/>
<rect x="659.10" y="255.34" width="8.60" height="8.44" fill="#25388C" stroke="#fff" stroke-width="0.6"/>
<rect x="616.10" y="263.78" width="8.60" height="8.44" fill="#FFF3DB" stroke="#fff" stroke-width="0.6"/>
<rect x="624.70" y="263.78" width="8.60" height="8.44" fill="#FABA16" stroke="#fff" stroke-width="0.6"/>
<rect x="633.30" y="263.78" width="8.60" height="8.44" fill="#FFFFFF" stroke="#fff" stroke-width="0.6"/>
<rect x="641.90" y="263.78" width="8.60" height="8.44" fill="#FDD055" stroke="#fff" stroke-width="0.6"/>
<rect x="650.50" y="263.78" width="8.60" height="8.44" fill="#FFFFFF" stroke="#fff" stroke-width="0.6"/>
<rect x="659.10" y="263.78" width="8.60" height="8.44" fill="#FFFFFF" stroke="#fff" stroke-width="0.6"/>
<rect x="616.10" y="272.22" width="8.60" height="8.44" fill="#FABA16" stroke="#fff" stroke-width="0.6"/>
<rect x="624.70" y="272.22" width="8.60" height="8.44" fill="#F7941E" stroke="#fff" stroke-width="0.6"/>
<rect x="633.30" y="272.22" width="8.60" height="8.44" fill="#FDD055" stroke="#fff" stroke-width="0.6"/>
<rect x="641.90" y="272.22" width="8.60" height="8.44" fill="#F7941E" stroke="#fff" stroke-width="0.6"/>
<rect x="650.50" y="272.22" width="8.60" height="8.44" fill="#FABA16" stroke="#fff" stroke-width="0.6"/>
<rect x="659.10" y="272.22" width="8.60" height="8.44" fill="#F7941E" stroke="#fff" stroke-width="0.6"/>
<rect x="616.10" y="280.66" width="8.60" height="8.44" fill="#D0D3EA" stroke="#fff" stroke-width="0.6"/>
<rect x="624.70" y="280.66" width="8.60" height="8.44" fill="#D0D3EA" stroke="#fff" stroke-width="0.6"/>
<rect x="633.30" y="280.66" width="8.60" height="8.44" fill="#AAB0D8" stroke="#fff" stroke-width="0.6"/>
<rect x="641.90" y="280.66" width="8.60" height="8.44" fill="#D0D3EA" stroke="#fff" stroke-width="0.6"/>
<rect x="650.50" y="280.66" width="8.60" height="8.44" fill="#7984C2" stroke="#fff" stroke-width="0.6"/>
<rect x="659.10" y="280.66" width="8.60" height="8.44" fill="#7984C2" stroke="#fff" stroke-width="0.6"/>
<rect x="616.10" y="289.10" width="8.60" height="8.44" fill="#25388C" stroke="#fff" stroke-width="0.6"/>
<rect x="624.70" y="289.10" width="8.60" height="8.44" fill="#25388C" stroke="#fff" stroke-width="0.6"/>
<rect x="633.30" y="289.10" width="8.60" height="8.44" fill="#25388C" stroke="#fff" stroke-width="0.6"/>
<rect x="641.90" y="289.10" width="8.60" height="8.44" fill="#25388C" stroke="#fff" stroke-width="0.6"/>
<rect x="650.50" y="289.10" width="8.60" height="8.44" fill="#25388C" stroke="#fff" stroke-width="0.6"/>
<rect x="659.10" y="289.10" width="8.60" height="8.44" fill="#25388C" stroke="#fff" stroke-width="0.6"/>
<rect x="616.10" y="297.54" width="8.60" height="8.44" fill="#1F2B82" stroke="#fff" stroke-width="0.6"/>
<rect x="624.70" y="297.54" width="8.60" height="8.44" fill="#1F2B82" stroke="#fff" stroke-width="0.6"/>
<rect x="633.30" y="297.54" width="8.60" height="8.44" fill="#25388C" stroke="#fff" stroke-width="0.6"/>
<rect x="641.90" y="297.54" width="8.60" height="8.44" fill="#1F2B82" stroke="#fff" stroke-width="0.6"/>
<rect x="650.50" y="297.54" width="8.60" height="8.44" fill="#1F2B82" stroke="#fff" stroke-width="0.6"/>
<rect x="659.10" y="297.54" width="8.60" height="8.44" fill="#1F2B82" stroke="#fff" stroke-width="0.6"/>
<rect x="616.10" y="305.98" width="8.60" height="8.44" fill="#3B52A3" stroke="#fff" stroke-width="0.6"/>
<rect x="624.70" y="305.98" width="8.60" height="8.44" fill="#3B52A3" stroke="#fff" stroke-width="0.6"/>
<rect x="633.30" y="305.98" width="8.60" height="8.44" fill="#7984C2" stroke="#fff" stroke-width="0.6"/>
<rect x="641.90" y="305.98" width="8.60" height="8.44" fill="#3B52A3" stroke="#fff" stroke-width="0.6"/>
<rect x="650.50" y="305.98" width="8.60" height="8.44" fill="#5A6CB4" stroke="#fff" stroke-width="0.6"/>
<rect x="659.10" y="305.98" width="8.60" height="8.44" fill="#3B52A3" stroke="#fff" stroke-width="0.6"/>
<rect x="616.10" y="314.42" width="8.60" height="8.44" fill="#3B52A3" stroke="#fff" stroke-width="0.6"/>
<rect x="624.70" y="314.42" width="8.60" height="8.44" fill="#AAB0D8" stroke="#fff" stroke-width="0.6"/>
<rect x="633.30" y="314.42" width="8.60" height="8.44" fill="#5A6CB4" stroke="#fff" stroke-width="0.6"/>
<rect x="641.90" y="314.42" width="8.60" height="8.44" fill="#7984C2" stroke="#fff" stroke-width="0.6"/>
<rect x="650.50" y="314.42" width="8.60" height="8.44" fill="#3B52A3" stroke="#fff" stroke-width="0.6"/>
<rect x="659.10" y="314.42" width="8.60" height="8.44" fill="#5A6CB4" stroke="#fff" stroke-width="0.6"/>
<rect x="616.10" y="322.86" width="8.60" height="8.44" fill="#25388C" stroke="#fff" stroke-width="0.6"/>
<rect x="624.70" y="322.86" width="8.60" height="8.44" fill="#25388C" stroke="#fff" stroke-width="0.6"/>
<rect x="633.30" y="322.86" width="8.60" height="8.44" fill="#25388C" stroke="#fff" stroke-width="0.6"/>
<rect x="641.90" y="322.86" width="8.60" height="8.44" fill="#25388C" stroke="#fff" stroke-width="0.6"/>
<rect x="650.50" y="322.86" width="8.60" height="8.44" fill="#25388C" stroke="#fff" stroke-width="0.6"/>
<rect x="659.10" y="322.86" width="8.60" height="8.44" fill="#25388C" stroke="#fff" stroke-width="0.6"/>
<rect x="616.10" y="331.30" width="8.60" height="8.44" fill="#AAB0D8" stroke="#fff" stroke-width="0.6"/>
<rect x="624.70" y="331.30" width="8.60" height="8.44" fill="#D0D3EA" stroke="#fff" stroke-width="0.6"/>
<rect x="633.30" y="331.30" width="8.60" height="8.44" fill="#5A6CB4" stroke="#fff" stroke-width="0.6"/>
<rect x="641.90" y="331.30" width="8.60" height="8.44" fill="#7984C2" stroke="#fff" stroke-width="0.6"/>
<rect x="650.50" y="331.30" width="8.60" height="8.44" fill="#3B52A3" stroke="#fff" stroke-width="0.6"/>
<rect x="659.10" y="331.30" width="8.60" height="8.44" fill="#7984C2" stroke="#fff" stroke-width="0.6"/>
<rect x="616.10" y="339.74" width="8.60" height="8.44" fill="#FFFFFF" stroke="#fff" stroke-width="0.6"/>
<rect x="624.70" y="339.74" width="8.60" height="8.44" fill="#F7941E" stroke="#fff" stroke-width="0.6"/>
<rect x="633.30" y="339.74" width="8.60" height="8.44" fill="#FDD055" stroke="#fff" stroke-width="0.6"/>
<rect x="641.90" y="339.74" width="8.60" height="8.44" fill="#F7941E" stroke="#fff" stroke-width="0.6"/>
<rect x="650.50" y="339.74" width="8.60" height="8.44" fill="#FEE5A6" stroke="#fff" stroke-width="0.6"/>
<rect x="659.10" y="339.74" width="8.60" height="8.44" fill="#F7941E" stroke="#fff" stroke-width="0.6"/>
<rect x="616.10" y="348.18" width="8.60" height="8.44" fill="#D0D3EA" stroke="#fff" stroke-width="0.6"/>
<rect x="624.70" y="348.18" width="8.60" height="8.44" fill="#AAB0D8" stroke="#fff" stroke-width="0.6"/>
<rect x="633.30" y="348.18" width="8.60" height="8.44" fill="#7984C2" stroke="#fff" stroke-width="0.6"/>
<rect x="641.90" y="348.18" width="8.60" height="8.44" fill="#D0D3EA" stroke="#fff" stroke-width="0.6"/>
<rect x="650.50" y="348.18" width="8.60" height="8.44" fill="#FFF3DB" stroke="#fff" stroke-width="0.6"/>
<rect x="659.10" y="348.18" width="8.60" height="8.44" fill="#D0D3EA" stroke="#fff" stroke-width="0.6"/>
<rect x="616.10" y="356.62" width="8.60" height="8.44" fill="#25388C" stroke="#fff" stroke-width="0.6"/>
<rect x="624.70" y="356.62" width="8.60" height="8.44" fill="#3B52A3" stroke="#fff" stroke-width="0.6"/>
<rect x="633.30" y="356.62" width="8.60" height="8.44" fill="#25388C" stroke="#fff" stroke-width="0.6"/>
<rect x="641.90" y="356.62" width="8.60" height="8.44" fill="#25388C" stroke="#fff" stroke-width="0.6"/>
<rect x="650.50" y="356.62" width="8.60" height="8.44" fill="#25388C" stroke="#fff" stroke-width="0.6"/>
<rect x="659.10" y="356.62" width="8.60" height="8.44" fill="#25388C" stroke="#fff" stroke-width="0.6"/>
<rect x="616.10" y="365.06" width="8.60" height="8.44" fill="#7984C2" stroke="#fff" stroke-width="0.6"/>
<rect x="624.70" y="365.06" width="8.60" height="8.44" fill="#7984C2" stroke="#fff" stroke-width="0.6"/>
<rect x="633.30" y="365.06" width="8.60" height="8.44" fill="#25388C" stroke="#fff" stroke-width="0.6"/>
<rect x="641.90" y="365.06" width="8.60" height="8.44" fill="#7984C2" stroke="#fff" stroke-width="0.6"/>
<rect x="650.50" y="365.06" width="8.60" height="8.44" fill="#25388C" stroke="#fff" stroke-width="0.6"/>
<rect x="659.10" y="365.06" width="8.60" height="8.44" fill="#7984C2" stroke="#fff" stroke-width="0.6"/>
<rect x="615.80" y="231.6" width="52.60" height="14.5" fill="#fff" stroke="#333" stroke-width="0.9"/>
<text x="642.10" y="241.30" font-size="8.16" text-anchor="middle" fill="#111" stroke="#111" stroke-width="0.15">RP</text>
<line x1="615.80" y1="374.30" x2="668.10" y2="374.30" stroke="#333" stroke-width="0.9"/>
<line x1="620.40" y1="374.30" x2="620.40" y2="376.20" stroke="#333" stroke-width="0.7"/>
<text x="623.10" y="379.60" font-size="7.85" text-anchor="end" font-style="italic" fill="#111" stroke="#111" stroke-width="0.15" transform="rotate(-90 623.10 379.60)">RPS2</text>
<line x1="629.00" y1="374.30" x2="629.00" y2="376.20" stroke="#333" stroke-width="0.7"/>
<text x="631.70" y="379.60" font-size="7.85" text-anchor="end" font-style="italic" fill="#111" stroke="#111" stroke-width="0.15" transform="rotate(-90 631.70 379.60)">RPS3</text>
<line x1="637.60" y1="374.30" x2="637.60" y2="376.20" stroke="#333" stroke-width="0.7"/>
<text x="640.30" y="379.60" font-size="7.85" text-anchor="end" font-style="italic" fill="#111" stroke="#111" stroke-width="0.15" transform="rotate(-90 640.30 379.60)">RPS11</text>
<line x1="646.20" y1="374.30" x2="646.20" y2="376.20" stroke="#333" stroke-width="0.7"/>
<text x="648.90" y="379.60" font-size="7.85" text-anchor="end" font-style="italic" fill="#111" stroke="#111" stroke-width="0.15" transform="rotate(-90 648.90 379.60)">RPL3</text>
<line x1="654.80" y1="374.30" x2="654.80" y2="376.20" stroke="#333" stroke-width="0.7"/>
<text x="657.50" y="379.60" font-size="7.85" text-anchor="end" font-style="italic" fill="#111" stroke="#111" stroke-width="0.15" transform="rotate(-90 657.50 379.60)">RPL11</text>
<line x1="663.40" y1="374.30" x2="663.40" y2="376.20" stroke="#333" stroke-width="0.7"/>
<text x="666.10" y="379.60" font-size="7.85" text-anchor="end" font-style="italic" fill="#111" stroke="#111" stroke-width="0.15" transform="rotate(-90 666.10 379.60)">RPL19</text>
<defs><linearGradient id="cb" x1="0" x2="1" y1="0" y2="0"><stop offset="0" stop-color="#2C2A88"/><stop offset="0.25" stop-color="#1F2F85"/><stop offset="0.43" stop-color="#2C4896"/><stop offset="0.475" stop-color="#95A2CE"/><stop offset="0.497" stop-color="#FFFFFF"/><stop offset="0.515" stop-color="#FFE45C"/><stop offset="0.56" stop-color="#FDC010"/><stop offset="0.70" stop-color="#F7921E"/><stop offset="0.85" stop-color="#F47230"/><stop offset="1" stop-color="#F15A33"/></linearGradient></defs>
<rect x="387.00" y="436.90" width="104.20" height="11.10" fill="url(#cb)"/>
<line x1="398.90" y1="436.90" x2="398.90" y2="438.90" stroke="#fff" stroke-width="0.8"/>
<line x1="398.90" y1="446.00" x2="398.90" y2="448.00" stroke="#fff" stroke-width="0.8"/>
<line x1="419.20" y1="436.90" x2="419.20" y2="438.90" stroke="#fff" stroke-width="0.8"/>
<line x1="419.20" y1="446.00" x2="419.20" y2="448.00" stroke="#fff" stroke-width="0.8"/>
<line x1="438.60" y1="436.90" x2="438.60" y2="438.90" stroke="#fff" stroke-width="0.8"/>
<line x1="438.60" y1="446.00" x2="438.60" y2="448.00" stroke="#fff" stroke-width="0.8"/>
<line x1="458.30" y1="436.90" x2="458.30" y2="438.90" stroke="#fff" stroke-width="0.8"/>
<line x1="458.30" y1="446.00" x2="458.30" y2="448.00" stroke="#fff" stroke-width="0.8"/>
<line x1="477.60" y1="436.90" x2="477.60" y2="438.90" stroke="#fff" stroke-width="0.8"/>
<line x1="477.60" y1="446.00" x2="477.60" y2="448.00" stroke="#fff" stroke-width="0.8"/>
<text x="397.60" y="457.00" font-size="7.75" text-anchor="middle" fill="#1a1a1a" stroke="#1a1a1a" stroke-width="0.15">−1.0</text>
<text x="418.90" y="457.00" font-size="7.75" text-anchor="middle" fill="#1a1a1a" stroke="#1a1a1a" stroke-width="0.15">−0.5</text>
<text x="438.60" y="457.00" font-size="7.75" text-anchor="middle" fill="#1a1a1a" stroke="#1a1a1a" stroke-width="0.15">0</text>
<text x="459.70" y="457.00" font-size="7.75" text-anchor="middle" fill="#1a1a1a" stroke="#1a1a1a" stroke-width="0.15">0.5</text>
<text x="478.10" y="457.00" font-size="7.75" text-anchor="middle" fill="#1a1a1a" stroke="#1a1a1a" stroke-width="0.15">1.0</text>
<text x="438.60" y="419.40" font-size="7.85" text-anchor="middle" fill="#111" stroke="#111" stroke-width="0.15">Average log<tspan stroke-width="0" font-size="4.8" dy="2.2">2</tspan><tspan dy="-2.2"> fold change</tspan></text>
<text x="439.00" y="431.70" font-size="7.85" text-anchor="middle" fill="#111" stroke="#111" stroke-width="0.15">(PTGER4<tspan stroke-width="0.06" font-size="5.6" dy="-3.7">hi/lo</tspan><tspan dy="3.7">)</tspan></text>
</svg>
</body></html>
